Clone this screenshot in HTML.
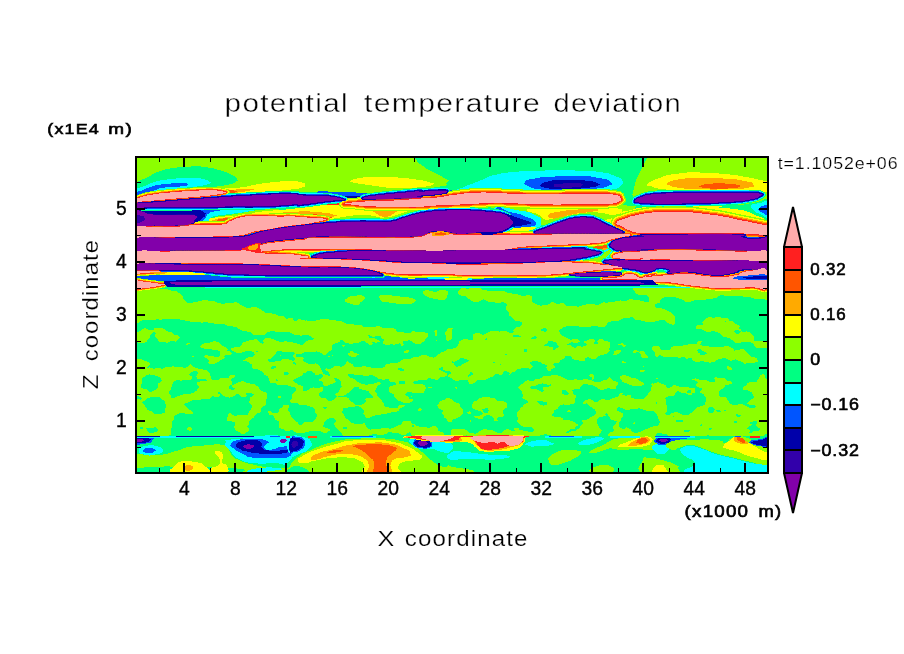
<!DOCTYPE html>
<html><head><meta charset="utf-8"><title>potential temperature deviation</title>
<style>
html,body{margin:0;padding:0;background:#fff;}
body{width:904px;height:654px;overflow:hidden;}
svg{display:block;}
text{font-family:"Liberation Sans",sans-serif;fill:#000;}
.b{font-weight:bold;}
.thin{stroke:#fff;stroke-width:0.4px;}
.thin2{stroke:#fff;stroke-width:0.2px;}
.thin3{stroke:#fff;stroke-width:0.2px;}
.med{stroke:#000;stroke-width:0.35px;}
.med2{stroke:#000;stroke-width:0.6px;}
</style></head><body>
<svg width="904" height="654" viewBox="0 0 904 654">
<rect width="904" height="654" fill="#fff"/>
<defs><clipPath id="pc"><rect x="136" y="157" width="632" height="316"/></clipPath>
<filter id="mott" filterUnits="userSpaceOnUse" x="130" y="282" width="650" height="160" color-interpolation-filters="sRGB">
<feGaussianBlur in="SourceGraphic" stdDeviation="2.2" result="b"/>
<feTurbulence type="fractalNoise" baseFrequency="0.075 0.12" numOctaves="2" seed="7" result="t"/>
<feColorMatrix in="t" type="matrix" values="1 0 0 0 0  1 0 0 0 0  1 0 0 0 0  0 0 0 0 1" result="n"/>
<feComposite in="b" in2="n" operator="arithmetic" k1="0" k2="1" k3="1.3" k4="-0.65" result="m"/>
<feComponentTransfer in="m"><feFuncR type="discrete" tableValues="0 0.549"/><feFuncG type="discrete" tableValues="1 1"/><feFuncB type="discrete" tableValues="0.51 0"/><feFuncA type="discrete" tableValues="1 1"/></feComponentTransfer>
</filter></defs>
<g clip-path="url(#pc)" shape-rendering="crispEdges">

<rect x="130" y="150" width="650" height="330" fill="#8cff00"/>
<g filter="url(#mott)">
<rect x="130" y="280" width="650" height="165" fill="#000"/>
<rect x="130" y="338" width="650" height="107" fill="#333333"/>
<path fill="#ffffff" d="M132.4 288.4C141.4 278.2 143.8 287.6 159.2 289.1C174.6 290.5 169.3 288.3 178.7 292.7C188.0 297.2 179.1 299.6 187.2 302.5C195.3 305.3 189.6 300.8 203.0 301.3C216.4 301.7 212.7 302.3 227.3 303.7C241.9 305.1 233.8 302.1 246.8 305.4C259.8 308.6 252.5 309.5 266.3 313.4C280.1 317.3 272.8 315.0 288.2 317.1C303.6 319.1 291.9 317.5 312.5 319.5C333.1 321.5 337.5 317.9 350.0 323.2C362.5 328.4 358.4 330.5 350.0 335.3C341.6 340.2 341.2 337.8 324.7 337.8C308.1 337.8 316.6 337.4 300.4 335.3C284.1 333.3 290.6 331.7 276.0 331.7C261.4 331.7 266.3 335.3 256.6 335.3C246.8 335.3 256.6 334.9 246.8 331.7C237.1 328.4 241.9 328.8 227.3 325.6C212.7 322.3 219.2 324.0 203.0 321.9C186.8 319.9 194.9 320.3 178.7 319.5C162.4 318.7 169.8 319.5 154.3 319.5C138.9 319.5 139.7 329.9 132.4 319.5C125.1 309.1 123.5 298.5 132.4 288.4Z"/>
<path fill="#bdbdbd" d="M132.4 332.9C139.7 329.3 138.9 328.5 154.3 328.8C169.8 329.0 166.5 330.9 178.7 333.6C190.8 336.4 194.9 334.4 190.8 337.0C186.8 339.6 186.0 340.6 166.5 341.4C147.0 342.2 143.8 342.3 132.4 339.5C121.1 336.6 125.1 336.5 132.4 332.9Z"/>
<path fill="#bdbdbd" d="M200.6 342.6C203.0 340.2 204.6 340.2 215.2 341.4C225.7 342.6 221.7 345.5 232.2 346.3C242.8 347.1 240.3 346.3 246.8 343.8C253.3 341.4 245.2 341.0 251.7 339.0C258.2 336.9 256.6 336.9 266.3 337.8C276.0 338.6 269.5 339.4 280.9 341.4C292.2 343.4 289.0 344.7 300.4 343.8C311.7 343.0 302.8 339.8 315.0 339.0C327.1 338.2 325.2 341.4 336.9 341.4C348.5 341.4 345.6 337.4 350.0 339.0C354.4 340.6 358.4 342.6 350.0 346.3C341.6 349.9 341.2 347.5 324.7 349.9C308.1 352.4 315.0 353.2 300.4 353.6C285.8 354.0 292.2 350.3 280.9 351.1C269.5 352.0 277.6 355.2 266.3 356.0C254.9 356.8 259.8 355.2 246.8 353.6C233.8 352.0 240.3 352.8 227.3 351.1C214.4 349.5 216.8 351.5 207.9 348.7C199.0 345.9 198.1 345.1 200.6 342.6Z"/>
<path fill="#bdbdbd" d="M132.4 368.7C139.7 346.0 138.9 367.5 154.3 367.0C169.8 366.4 164.1 365.7 178.7 367.0C193.3 368.2 186.0 367.4 198.1 370.6C210.3 373.9 201.4 373.5 215.2 376.7C229.0 379.9 225.7 376.7 239.5 380.3C253.3 384.0 247.6 382.0 256.6 387.6C265.5 393.3 264.7 390.1 266.3 397.4C267.9 404.7 266.3 402.3 261.4 409.6C256.6 416.9 256.6 412.8 251.7 419.3C246.8 425.8 251.7 425.0 246.8 429.0C241.9 433.1 241.9 433.9 237.1 431.5C232.2 429.0 239.5 427.4 232.2 421.7C224.9 416.0 229.0 416.4 215.2 414.4C201.4 412.4 204.6 414.0 190.8 415.6C177.1 417.3 181.1 413.2 173.8 419.3C166.5 425.4 182.7 428.6 168.9 433.9C155.1 439.2 144.6 456.8 132.4 435.1C120.3 413.4 125.1 391.4 132.4 368.7Z"/>
<path fill="#1f1f1f" d="M171.4 385.2C176.2 381.6 177.1 380.3 186.0 380.3C194.9 380.3 195.7 381.2 198.1 385.2C200.6 389.3 199.8 389.3 193.3 392.5C186.8 395.8 186.0 395.4 178.7 394.9C171.4 394.5 173.8 394.5 171.4 391.3C168.9 388.1 166.5 388.9 171.4 385.2Z"/>
<path fill="#1f1f1f" d="M190.8 404.7C197.3 400.6 196.5 401.4 210.3 398.6C224.1 395.8 220.0 395.8 232.2 396.2C244.4 396.6 240.7 396.2 246.8 399.8C252.9 403.5 252.9 402.3 250.5 407.1C248.0 412.0 248.8 411.6 239.5 414.4C230.2 417.3 234.6 416.0 222.5 415.6C210.3 415.2 213.6 414.8 203.0 413.2C192.5 411.6 194.9 413.6 190.8 410.8C186.8 407.9 184.4 408.7 190.8 404.7Z"/>
<path fill="#1f1f1f" d="M139.7 380.3C140.5 376.7 145.4 375.9 151.9 376.7C158.4 377.5 160.0 379.1 159.2 382.8C158.4 386.4 156.0 388.5 149.5 387.6C143.0 386.8 138.9 384.0 139.7 380.3Z"/>
<path fill="#1f1f1f" d="M144.6 402.3C145.4 397.4 151.1 396.6 159.2 397.4C167.3 398.2 169.8 399.8 168.9 404.7C168.1 409.6 164.9 412.8 156.8 412.0C148.7 411.2 143.8 407.1 144.6 402.3Z"/>
<path fill="#1f1f1f" d="M210.3 365.7C211.9 361.7 218.4 361.7 227.3 363.3C236.3 364.9 238.7 366.6 237.1 370.6C235.5 374.7 231.4 377.1 222.5 375.5C213.6 373.9 208.7 369.8 210.3 365.7Z"/>
<path fill="#bdbdbd" d="M266.3 363.3C275.2 359.3 272.8 358.4 288.2 358.4C303.6 358.4 297.9 360.1 312.5 363.3C327.1 366.6 319.5 367.4 332.0 368.2C344.5 369.0 344.0 352.0 350.0 365.7C356.0 379.5 354.4 393.3 350.0 409.6C345.6 425.8 345.3 409.6 336.9 414.4C328.4 419.3 332.8 418.5 324.7 424.2C316.6 429.8 324.7 429.8 312.5 431.5C300.4 433.1 300.4 433.1 288.2 429.0C276.0 425.0 278.5 427.4 276.0 419.3C273.6 411.2 280.9 414.4 280.9 404.7C280.9 394.9 280.1 398.2 276.0 390.1C272.0 382.0 273.6 386.8 268.7 380.3C263.9 373.9 262.2 376.3 261.4 370.6C260.6 364.9 257.4 367.4 266.3 363.3Z"/>
<path fill="#1f1f1f" d="M276.0 387.6C276.8 383.6 281.7 383.6 288.2 385.2C294.7 386.8 296.3 388.5 295.5 392.5C294.7 396.6 292.2 399.0 285.8 397.4C279.3 395.8 275.2 391.7 276.0 387.6Z"/>
<path fill="#1f1f1f" d="M300.4 375.5C305.2 371.4 307.7 370.6 315.0 373.0C322.3 375.5 323.9 377.1 322.3 382.8C320.6 388.5 317.4 389.3 310.1 390.1C302.8 390.9 303.6 390.1 300.4 385.2C297.1 380.3 295.5 379.5 300.4 375.5Z"/>
<path fill="#1f1f1f" d="M324.7 387.6C328.8 383.6 330.4 382.8 336.9 385.2C343.4 387.6 345.0 389.3 344.2 394.9C343.4 400.6 340.9 401.4 334.4 402.3C327.9 403.1 327.9 402.3 324.7 397.4C321.4 392.5 320.6 391.7 324.7 387.6Z"/>
<path fill="#1f1f1f" d="M288.2 409.6C289.8 404.7 296.3 403.1 305.2 404.7C314.1 406.3 316.6 409.6 315.0 414.4C313.3 419.3 309.3 420.9 300.4 419.3C291.4 417.7 286.6 414.4 288.2 409.6Z"/>
<path fill="#bdbdbd" d="M246.8 358.4C250.1 354.8 251.7 355.2 261.4 356.0C271.2 356.8 274.4 356.8 276.0 360.9C277.6 364.9 274.4 366.2 266.3 368.2C258.2 370.2 258.2 370.2 251.7 367.0C245.2 363.7 243.6 362.1 246.8 358.4Z"/>
<path fill="#bdbdbd" d="M203.0 356.0C203.8 352.8 209.5 352.8 217.6 353.6C225.7 354.4 228.2 355.2 227.3 358.4C226.5 361.7 223.3 364.1 215.2 363.3C207.1 362.5 202.2 359.3 203.0 356.0Z"/>
<path fill="#ffffff" d="M381.4 297.1C383.8 294.4 385.4 295.7 396.0 295.7C406.5 295.7 408.1 294.8 413.0 297.1C417.9 299.4 418.7 300.3 410.6 302.5C402.5 304.7 398.4 305.5 388.7 303.7C378.9 301.9 378.9 299.8 381.4 297.1Z"/>
<path fill="#ffffff" d="M422.7 291.5C425.2 288.9 429.2 289.4 437.3 289.8C445.5 290.2 444.6 289.7 447.1 292.7C449.5 295.7 450.3 297.2 444.6 298.8C439.0 300.4 437.3 300.0 430.0 297.6C422.7 295.2 420.3 294.1 422.7 291.5Z"/>
<path fill="#ffffff" d="M344.9 297.6C347.3 294.8 353.4 295.2 359.5 296.4C365.6 297.6 365.6 298.4 363.1 301.3C360.7 304.1 358.3 306.1 352.2 304.9C346.1 303.7 342.4 300.4 344.9 297.6Z"/>
<path fill="#ffffff" d="M454.4 291.5C460.9 288.7 460.9 288.7 486.0 290.3C511.2 291.9 516.0 292.3 529.8 296.4C543.6 300.4 523.3 300.0 527.4 302.5C531.4 304.9 531.1 302.1 542.0 303.7C552.9 305.3 554.0 299.2 560.0 307.3C566.0 315.4 566.0 320.7 560.0 328.0C554.0 335.3 553.7 330.5 542.0 329.2C530.3 328.0 537.1 330.1 525.0 324.4C512.8 318.7 511.2 319.1 505.5 312.2C499.8 305.3 514.4 307.3 507.9 303.7C501.4 300.0 499.8 302.9 486.0 301.3C472.2 299.6 477.1 302.1 466.6 298.8C456.0 295.6 447.9 294.4 454.4 291.5Z"/>
<path fill="#bdbdbd" d="M340.0 326.3C352.2 319.0 355.4 325.0 376.5 326.8C397.6 328.6 388.7 330.9 403.3 331.7C417.9 332.5 412.6 327.2 420.3 329.2C428.0 331.3 432.9 332.9 426.4 337.8C419.9 342.6 421.5 342.2 400.8 343.8C380.2 345.5 384.6 341.0 364.3 342.6C344.1 344.2 348.1 354.1 340.0 348.7C331.9 343.3 327.8 333.6 340.0 326.3Z"/>
<path fill="#bdbdbd" d="M432.5 331.7C433.3 328.0 435.3 326.8 437.3 329.2C439.4 331.7 439.4 335.3 438.6 339.0C437.8 342.6 436.9 342.6 434.9 340.2C432.9 337.8 431.7 335.3 432.5 331.7Z"/>
<path fill="#bdbdbd" d="M447.1 330.5C449.5 326.0 451.9 325.2 453.2 328.0C454.4 330.9 453.2 334.5 450.7 339.0C448.3 343.4 447.1 344.2 445.9 341.4C444.6 338.6 444.6 334.9 447.1 330.5Z"/>
<path fill="#bdbdbd" d="M413.0 357.2C425.2 353.6 413.0 355.2 425.2 352.4C437.3 349.5 435.7 354.0 449.5 348.7C463.3 343.4 454.4 342.2 466.6 336.5C478.7 330.9 471.4 334.3 486.0 331.7C500.6 329.1 494.1 330.4 510.4 328.8C526.6 327.1 518.1 325.8 534.7 326.8C551.2 327.8 551.6 319.5 560.0 331.7C568.4 343.8 568.4 352.0 560.0 363.3C551.6 374.7 551.2 362.5 534.7 365.7C518.1 369.0 526.6 369.0 510.4 373.0C494.1 377.1 502.2 375.5 486.0 377.9C469.8 380.3 477.9 380.3 461.7 380.3C445.5 380.3 453.6 377.9 437.3 377.9C421.1 377.9 429.2 379.5 413.0 380.3C396.8 381.2 404.9 381.6 388.7 380.3C372.4 379.1 380.6 376.7 364.3 376.7C348.1 376.7 348.1 384.0 340.0 380.3C331.9 376.7 331.9 369.8 340.0 365.7C348.1 361.7 348.1 369.0 364.3 368.2C380.6 367.4 372.4 367.0 388.7 363.3C404.9 359.7 400.8 360.9 413.0 357.2Z"/>
<path fill="#bdbdbd" d="M340.0 380.3C348.1 362.9 348.1 381.2 364.3 382.8C380.6 384.4 372.4 385.2 388.7 385.2C404.9 385.2 400.8 381.2 413.0 382.8C425.2 384.4 425.2 384.4 425.2 390.1C425.2 395.8 421.1 393.3 413.0 399.8C404.9 406.3 413.0 404.7 400.8 409.6C388.7 414.4 388.7 409.6 376.5 414.4C364.3 419.3 364.3 417.7 364.3 424.2C364.3 430.6 384.6 430.2 376.5 433.9C368.4 437.5 352.2 453.0 340.0 435.1C327.8 417.3 331.9 397.8 340.0 380.3Z"/>
<path fill="#1f1f1f" d="M349.7 390.1C351.4 384.4 355.4 383.6 361.9 385.2C368.4 386.8 370.8 389.3 369.2 394.9C367.6 400.6 363.5 403.9 357.0 402.3C350.5 400.6 348.1 395.8 349.7 390.1Z"/>
<path fill="#1f1f1f" d="M376.5 387.6C378.9 385.2 381.4 384.4 388.7 390.1C396.0 395.8 398.4 399.0 398.4 404.7C398.4 410.4 394.4 409.6 388.7 407.1C383.0 404.7 385.4 403.9 381.4 397.4C377.3 390.9 374.1 390.1 376.5 387.6Z"/>
<path fill="#1f1f1f" d="M344.9 409.6C348.1 404.7 353.0 403.9 359.5 407.1C366.0 410.4 367.6 414.4 364.3 419.3C361.1 424.2 356.2 425.0 349.7 421.7C343.2 418.5 341.6 414.4 344.9 409.6Z"/>
<path fill="#bdbdbd" d="M437.3 404.7C439.0 398.2 441.4 398.2 449.5 399.8C457.6 401.4 459.3 402.3 461.7 409.6C464.1 416.9 462.5 418.5 456.8 421.7C451.1 425.0 451.1 425.0 444.6 419.3C438.2 413.6 435.7 411.2 437.3 404.7Z"/>
<path fill="#bdbdbd" d="M473.9 399.8C477.1 394.9 477.1 397.4 486.0 397.4C494.9 397.4 494.1 395.8 500.6 399.8C507.1 403.9 510.4 403.1 505.5 409.6C500.6 416.0 495.8 418.5 486.0 419.3C476.3 420.1 480.3 418.5 476.3 412.0C472.2 405.5 470.6 404.7 473.9 399.8Z"/>
<path fill="#bdbdbd" d="M522.5 385.2C525.8 379.5 522.2 382.8 534.7 380.3C547.2 377.9 551.6 369.8 560.0 377.9C568.4 386.0 564.4 397.4 560.0 404.7C555.6 412.0 555.3 399.8 546.9 399.8C538.4 399.8 542.0 405.5 534.7 404.7C527.4 403.9 529.0 403.9 525.0 397.4C520.9 390.9 519.3 390.9 522.5 385.2Z"/>
<path fill="#bdbdbd" d="M388.7 429.0C396.8 425.4 396.8 424.2 413.0 424.2C429.2 424.2 421.1 426.6 437.3 429.0C453.6 431.5 445.5 431.5 461.7 431.5C477.9 431.5 469.8 430.6 486.0 429.0C502.2 427.4 494.1 426.6 510.4 426.6C526.6 426.6 518.1 431.5 534.7 429.0C551.2 426.6 551.6 417.3 560.0 419.3C568.4 421.3 617.1 429.8 560.0 435.1C502.9 440.4 445.8 437.1 388.7 435.1C331.6 433.1 380.6 432.7 388.7 429.0Z"/>
<path fill="#ffffff" d="M647.3 285.4C687.9 281.4 728.5 281.4 769.0 285.4C809.6 289.5 781.2 294.0 769.0 297.6C756.9 301.3 756.9 295.6 732.5 296.4C708.2 297.2 717.9 299.6 696.0 300.0C674.1 300.4 679.8 296.8 666.8 297.6C653.8 298.4 663.6 302.5 657.1 302.5C650.6 302.5 650.6 303.3 647.3 297.6C644.1 291.9 606.8 289.5 647.3 285.4Z"/>
<path fill="#ffffff" d="M550.0 308.6C558.1 301.3 558.1 307.7 574.3 306.1C590.6 304.5 580.0 305.3 598.7 303.7C617.3 302.1 612.5 300.8 630.3 301.3C648.2 301.7 636.8 298.8 652.2 304.9C667.6 311.0 676.6 313.8 676.6 319.5C676.6 325.2 670.1 321.9 652.2 321.9C634.4 321.9 640.9 317.9 623.0 319.5C605.2 321.1 614.9 324.4 598.7 326.8C582.4 329.2 590.6 326.4 574.3 326.8C558.1 327.2 558.1 334.1 550.0 328.0C541.9 321.9 541.9 315.9 550.0 308.6Z"/>
<path fill="#bdbdbd" d="M696.0 324.4C700.9 319.5 707.4 318.7 720.4 317.1C733.3 315.4 726.8 316.3 735.0 319.5C743.1 322.8 737.4 320.3 744.7 326.8C752.0 333.3 748.8 334.5 756.9 339.0C765.0 343.4 765.0 337.8 769.0 340.2C773.1 342.6 777.1 345.1 769.0 346.3C760.9 347.5 760.9 347.9 744.7 343.8C728.5 339.8 733.3 338.2 720.4 334.1C707.4 330.1 713.9 334.9 705.8 331.7C697.6 328.4 691.2 329.2 696.0 324.4Z"/>
<path fill="#bdbdbd" d="M550.0 332.9C558.1 325.2 558.1 338.2 574.3 340.2C590.6 342.2 586.5 336.9 598.7 339.0C610.8 341.0 610.8 340.6 610.8 346.3C610.8 352.0 610.8 352.0 598.7 356.0C586.5 360.1 590.6 356.0 574.3 358.4C558.1 360.9 558.1 371.8 550.0 363.3C541.9 354.8 541.9 340.6 550.0 332.9Z"/>
<path fill="#bdbdbd" d="M664.4 351.1C670.1 347.1 669.3 345.5 683.9 343.8C698.5 342.2 692.0 344.7 708.2 346.3C724.4 347.9 718.7 346.3 732.5 348.7C746.3 351.1 741.4 347.9 749.6 353.6C757.7 359.3 762.5 363.3 756.9 365.7C751.2 368.2 748.8 362.5 732.5 360.9C716.3 359.3 724.4 361.7 708.2 360.9C692.0 360.1 697.6 360.1 683.9 358.4C670.1 356.8 673.3 358.4 666.8 356.0C660.3 353.6 658.7 355.2 664.4 351.1Z"/>
<path fill="#bdbdbd" d="M627.9 353.6C629.9 351.1 633.2 349.5 635.2 351.1C637.2 352.8 636.0 356.0 634.0 358.4C631.9 360.9 631.1 360.1 629.1 358.4C627.1 356.8 625.8 356.0 627.9 353.6Z"/>
<path fill="#bdbdbd" d="M640.0 352.4C642.1 350.7 645.3 349.5 647.3 351.1C649.4 352.8 648.2 355.6 646.1 357.2C644.1 358.8 643.3 357.6 641.3 356.0C639.2 354.4 638.0 354.0 640.0 352.4Z"/>
<path fill="#bdbdbd" d="M652.2 347.5C653.8 343.8 656.3 342.6 658.3 346.3C660.3 349.9 659.9 354.8 658.3 358.4C656.7 362.1 655.5 360.9 653.4 357.2C651.4 353.6 650.6 351.1 652.2 347.5Z"/>
<path fill="#bdbdbd" d="M550.0 382.8C558.1 364.5 554.1 381.2 574.3 380.3C594.6 379.5 594.6 381.6 610.8 380.3C627.1 379.1 612.5 377.1 623.0 376.7C633.6 376.3 631.1 376.3 642.5 379.1C653.8 382.0 649.0 382.4 657.1 385.2C665.2 388.1 657.1 387.6 666.8 387.6C676.6 387.6 672.5 387.6 686.3 385.2C700.1 382.8 696.8 382.8 708.2 380.3C719.5 377.9 708.2 376.3 720.4 377.9C732.5 379.5 728.5 384.4 744.7 385.2C760.9 386.0 760.9 363.7 769.0 380.3C777.1 397.0 842.0 416.9 769.0 435.1C696.0 453.4 623.0 452.5 550.0 435.1C477.0 417.7 541.9 401.0 550.0 382.8Z"/>
<path fill="#1f1f1f" d="M574.3 390.1C580.8 386.8 585.7 386.8 598.7 387.6C611.7 388.5 613.3 388.5 613.3 392.5C613.3 396.6 610.0 398.2 598.7 399.8C587.3 401.4 587.3 400.6 579.2 397.4C571.1 394.1 567.8 393.3 574.3 390.1Z"/>
<path fill="#1f1f1f" d="M610.8 390.1C613.3 386.0 618.1 385.2 630.3 385.2C642.5 385.2 643.3 386.0 647.3 390.1C651.4 394.1 650.6 394.9 642.5 397.4C634.4 399.8 633.6 399.8 623.0 397.4C612.5 394.9 608.4 394.1 610.8 390.1Z"/>
<path fill="#1f1f1f" d="M666.8 397.4C670.1 390.9 673.3 392.5 686.3 392.5C699.3 392.5 702.5 391.7 705.8 397.4C709.0 403.1 705.8 404.7 696.0 409.6C686.3 414.4 686.3 416.0 676.6 412.0C666.8 407.9 663.6 403.9 666.8 397.4Z"/>
<path fill="#1f1f1f" d="M720.4 390.1C725.2 386.0 729.3 385.2 739.8 387.6C750.4 390.1 752.0 391.7 752.0 397.4C752.0 403.1 748.8 403.9 739.8 404.7C730.9 405.5 731.7 404.7 725.2 399.8C718.7 394.9 715.5 394.1 720.4 390.1Z"/>
<path fill="#1f1f1f" d="M557.3 409.6C560.5 404.7 562.2 404.7 574.3 404.7C586.5 404.7 589.8 404.7 593.8 409.6C597.9 414.4 596.2 416.0 586.5 419.3C576.8 422.5 574.3 422.5 564.6 419.3C554.9 416.0 554.1 414.4 557.3 409.6Z"/>
<path fill="#1f1f1f" d="M623.0 414.4C629.5 408.7 635.2 407.9 647.3 409.6C659.5 411.2 659.5 412.8 659.5 419.3C659.5 425.8 657.9 426.6 647.3 429.0C636.8 431.5 636.0 431.5 627.9 426.6C619.8 421.7 616.5 420.1 623.0 414.4Z"/>
<path fill="#1f1f1f" d="M598.7 421.7C601.9 417.7 606.0 416.9 610.8 419.3C615.7 421.7 616.5 425.0 613.3 429.0C610.0 433.1 606.0 433.9 601.1 431.5C596.2 429.0 595.4 425.8 598.7 421.7Z"/>
</g>
<path fill="#00ff82" d="M130.0 205.0L780.0 205.0L780.0 288.0L130.0 288.0Z"/>
<path fill="#00ff82" d="M136.0 184.9C140.3 177.8 140.6 181.2 148.9 176.5C157.2 171.9 152.3 173.8 160.9 170.9C169.5 168.1 164.9 169.4 174.8 167.9C184.8 166.5 180.1 166.7 190.8 166.5C201.4 166.4 196.7 166.0 206.7 167.3C216.6 168.7 212.7 168.1 220.6 170.5C228.6 172.9 225.1 171.7 230.6 174.5C236.0 177.3 235.3 176.4 237.0 178.9C238.6 181.4 238.3 180.0 235.6 181.9C232.8 183.7 235.6 182.8 228.6 184.5C221.6 186.1 223.9 185.4 214.6 186.9C205.4 188.3 210.7 187.5 200.7 188.9C190.8 190.2 206.4 187.9 184.8 190.8C163.2 193.8 152.3 199.8 136.0 197.8C119.7 195.8 131.7 192.0 136.0 184.9Z"/>
<path fill="#00ffff" d="M136.0 190.0C139.0 186.4 138.7 188.6 145.0 185.9C151.3 183.1 148.3 183.9 154.9 181.9C161.5 179.9 156.9 181.1 164.9 179.9C172.8 178.7 169.5 179.0 178.8 178.3C188.1 177.6 184.8 177.7 192.7 177.9C200.7 178.1 197.1 177.6 202.7 178.9C208.3 180.2 207.7 180.2 209.7 181.9C211.7 183.5 211.7 182.5 208.7 183.9C205.7 185.2 207.3 184.7 200.7 185.9C194.1 187.0 197.4 186.3 188.8 187.3C180.1 188.3 184.1 187.5 174.8 188.9C165.5 190.2 170.2 189.4 160.9 191.2C151.6 193.0 155.2 192.4 146.9 194.2C138.7 196.1 139.6 198.2 136.0 196.8C132.3 195.4 133.0 193.7 136.0 190.0Z"/>
<path fill="#0055ff" d="M136.0 192.8C138.3 190.7 138.0 192.0 143.0 190.0C147.9 188.1 145.6 188.6 150.9 186.9C156.2 185.1 152.3 186.0 158.9 184.9C165.5 183.7 162.9 184.1 170.8 183.5C178.8 182.8 177.1 182.6 182.8 182.9C188.4 183.1 187.1 183.3 187.8 184.3C188.4 185.3 189.1 185.0 184.8 185.9C180.5 186.7 182.1 186.2 174.8 186.9C167.5 187.5 169.5 186.7 162.9 187.9C156.2 189.0 160.9 188.3 154.9 190.2C148.9 192.2 151.3 191.6 145.0 193.6C138.7 195.7 139.0 196.7 136.0 196.4C133.0 196.2 133.7 195.0 136.0 192.8Z"/>
<path fill="#8cff00" d="M210.7 189.2C220.0 185.0 217.3 187.8 238.5 184.9C259.8 181.9 251.8 181.5 274.4 180.5C297.0 179.5 292.3 179.1 306.2 181.9C320.2 184.7 312.9 184.5 316.2 188.9C319.5 193.2 330.1 193.1 316.2 194.8C302.3 196.6 301.6 193.6 274.4 194.0C247.2 194.4 255.8 194.8 234.6 196.0C213.3 197.2 218.6 199.9 210.7 197.6C202.7 195.4 201.4 193.5 210.7 189.2Z"/>
<path fill="#ffff00" d="M220.6 189.2C225.3 186.5 225.9 189.0 234.6 188.1C243.2 187.1 238.5 187.8 246.5 186.5C254.5 185.1 249.2 185.5 258.5 184.1C267.7 182.6 263.8 183.1 274.4 182.1C285.0 181.1 281.7 181.1 290.3 181.1C298.9 181.1 295.3 180.8 300.3 182.1C305.3 183.3 305.3 182.9 305.3 184.9C305.3 186.9 306.6 186.3 300.3 188.1C294.0 189.8 295.0 189.0 286.3 190.0C277.7 191.1 282.4 190.5 274.4 191.2C266.4 192.0 270.4 191.6 262.4 192.2C254.5 192.9 258.5 192.5 250.5 193.2C242.5 194.0 245.8 193.6 238.5 194.4C231.2 195.3 234.6 195.2 228.6 195.8C222.6 196.4 223.3 198.4 220.6 196.2C218.0 194.0 216.0 192.0 220.6 189.2Z"/>
<path fill="#ffaa00" d="M220.6 190.0C225.3 188.3 225.9 190.0 234.6 189.6C243.2 189.2 239.9 189.1 246.5 188.9C253.1 188.6 253.8 188.2 254.5 188.9C255.1 189.5 253.8 189.6 248.5 190.8C243.2 192.0 245.2 191.2 238.5 192.4C231.9 193.6 234.6 193.6 228.6 194.4C222.6 195.2 223.3 196.3 220.6 194.8C218.0 193.4 216.0 191.8 220.6 190.0Z"/>
<path fill="#ff5500" d="M220.6 190.8C223.3 189.6 225.1 190.2 230.6 190.4C236.0 190.6 237.0 190.4 237.0 191.4C237.0 192.4 235.4 192.5 230.6 193.4C225.8 194.4 225.9 195.1 222.6 194.2C219.3 193.4 218.0 192.1 220.6 190.8Z"/>
<path fill="#00ff82" d="M412.6 155.0L418.5 163.0L428.5 169.9L440.4 175.9L448.8 180.5L445.4 184.9L434.5 187.9L418.5 189.8L402.6 191.2L402.6 197.8L495.0 197.8L622.4 194.8L622.4 208.8L638.4 208.8L632.4 194.8L634.4 186.9L636.4 178.9L642.4 166.9L648.7 155.0Z"/>
<path fill="#8cff00" d="M315.0 184.9C328.3 195.5 325.6 185.4 354.8 186.9C384.0 188.3 376.1 189.2 402.6 189.2C429.2 189.2 419.9 189.0 434.5 186.9C449.1 184.7 446.4 186.9 446.4 182.9C446.4 178.9 445.1 182.2 434.5 174.9C423.9 167.6 422.5 167.6 414.6 161.0C406.6 154.3 443.8 157.0 410.6 155.0C377.4 153.0 346.9 145.0 315.0 155.0C283.1 165.0 301.7 174.2 315.0 184.9Z"/>
<path fill="#ffff00" d="M350.8 180.9C353.5 179.4 352.8 179.2 360.8 177.9C368.8 176.6 363.5 177.1 374.7 176.9C386.0 176.7 381.4 176.5 394.6 177.3C407.9 178.1 402.6 177.6 414.6 179.3C426.5 181.0 424.5 180.6 430.5 182.5C436.5 184.3 435.1 183.4 432.5 184.9C429.8 186.3 431.2 185.9 422.5 186.9C413.9 187.9 417.2 187.5 406.6 187.9C396.0 188.2 401.3 188.5 390.7 187.9C380.0 187.2 384.7 187.2 374.7 185.9C364.8 184.5 368.1 185.0 360.8 183.9C353.5 182.7 356.2 183.5 352.8 182.5C349.5 181.5 348.2 182.4 350.8 180.9Z"/>
<path fill="#00ffff" d="M450.4 193.2C447.1 191.0 456.4 190.3 464.3 186.9C472.3 183.4 467.7 185.5 474.3 182.9C480.9 180.2 477.4 181.5 484.3 178.9C491.2 176.2 484.8 177.2 495.0 174.9C505.2 172.6 498.3 173.4 514.9 171.9C531.5 170.5 524.9 171.0 544.8 170.5C564.7 170.1 556.7 170.1 574.6 170.5C592.6 171.0 585.3 170.1 598.5 171.9C611.8 173.7 606.5 172.9 614.5 175.9C622.4 178.9 620.4 177.6 622.4 180.9C624.4 184.2 624.4 182.9 620.4 185.9C616.5 188.9 620.4 187.8 610.5 189.8C600.5 191.9 605.8 191.2 590.6 192.0C575.3 192.9 583.3 192.4 564.7 192.4C546.1 192.4 551.4 192.3 534.8 192.0C518.2 191.8 528.2 191.8 514.9 191.6C501.6 191.5 508.5 191.0 495.0 191.6C481.5 192.3 489.2 193.1 474.3 193.6C459.4 194.2 453.7 195.5 450.4 193.2Z"/>
<path fill="#0055ff" d="M524.9 181.9C526.9 179.2 524.9 180.3 534.8 178.5C544.8 176.7 540.1 177.4 554.7 176.5C569.3 175.6 564.0 175.4 578.6 175.9C593.2 176.4 587.9 175.9 598.5 177.9C609.2 179.9 607.2 179.2 610.5 181.9C613.8 184.5 613.8 183.5 608.5 185.9C603.2 188.2 605.8 187.3 594.6 188.9C583.3 190.4 587.9 189.9 574.6 190.4C561.4 191.0 566.7 190.8 554.7 190.4C542.8 190.0 547.4 190.6 538.8 189.2C530.2 187.9 533.5 188.9 528.9 186.5C524.2 184.0 522.9 184.5 524.9 181.9Z"/>
<path fill="#0000aa" d="M540.8 184.9C542.5 182.9 540.8 182.9 548.8 181.3C556.7 179.6 552.7 180.2 564.7 179.9C576.6 179.6 574.0 179.5 584.6 180.5C595.2 181.5 592.2 181.1 596.6 182.9C600.9 184.7 600.9 184.2 597.5 185.9C594.2 187.5 595.6 186.9 586.6 187.9C577.6 188.9 581.3 188.5 570.7 188.9C560.0 189.2 563.7 189.4 554.7 188.9C545.8 188.3 548.4 188.6 543.8 187.3C539.1 185.9 539.1 186.9 540.8 184.9Z"/>
<path fill="#3200aa" d="M553.7 185.3C554.4 183.9 554.4 184.1 562.7 183.5C571.0 182.8 572.0 182.7 578.6 183.3C585.3 183.9 583.9 183.9 582.6 185.3C581.3 186.6 582.0 186.5 574.6 187.3C567.3 188.0 567.7 188.1 560.7 187.5C553.7 186.8 553.1 186.6 553.7 185.3Z"/>
<path fill="#8cff00" d="M647.9 155.0L641.9 170.9L635.9 180.9L633.9 188.9L637.9 194.8L771.3 194.8L771.3 155.0Z"/>
<path fill="#ffff00" d="M647.9 183.9C650.5 181.0 650.5 181.2 659.8 177.9C669.1 174.6 662.5 175.7 675.8 173.9C689.0 172.1 683.7 172.5 699.6 172.5C715.6 172.5 708.9 172.6 723.5 173.9C738.1 175.2 731.5 174.5 743.5 176.5C755.4 178.5 750.1 177.8 759.4 179.9C768.7 182.0 767.4 179.1 771.3 182.9C775.3 186.7 778.6 188.5 771.3 191.2C764.0 194.0 766.7 191.1 749.4 191.2C732.2 191.4 739.5 191.6 719.6 191.6C699.6 191.6 708.3 192.0 689.7 191.2C671.1 190.4 676.4 190.8 663.8 189.2C651.2 187.7 657.2 188.3 651.9 186.5C646.5 184.7 645.2 186.7 647.9 183.9Z"/>
<path fill="#ffaa00" d="M667.8 182.9C671.1 180.9 669.1 181.0 679.7 179.3C690.4 177.6 685.0 178.2 699.6 177.9C714.3 177.6 708.9 177.5 723.5 178.5C738.1 179.5 733.5 178.9 743.5 180.9C753.4 182.9 752.1 182.1 753.4 184.5C754.7 186.8 756.1 186.3 747.4 187.9C738.8 189.4 743.5 188.8 727.5 189.2C711.6 189.7 715.6 189.7 699.6 189.2C683.7 188.8 689.7 189.2 679.7 187.9C669.8 186.5 673.8 186.9 669.8 185.3C665.8 183.6 664.5 184.9 667.8 182.9Z"/>
<path fill="#ff5500" d="M700.6 185.9C703.3 184.7 701.3 184.7 709.6 183.9C717.9 183.1 716.2 183.1 725.5 183.5C734.8 183.8 732.8 183.7 737.5 184.9C742.1 186.0 742.8 185.7 739.5 186.9C736.2 188.1 737.5 187.9 727.5 188.5C717.6 189.0 718.2 188.9 709.6 188.5C701.0 188.1 704.6 188.1 701.6 187.3C698.7 186.4 698.0 187.0 700.6 185.9Z"/>
<path fill="#00ffff" d="M191.1 207.4C198.4 206.8 198.4 207.2 213.2 206.9C227.9 206.7 220.6 206.9 235.3 206.6C250.1 206.3 242.5 206.3 257.4 206.1C272.3 205.8 264.4 206.6 280.0 205.8C295.6 205.1 292.6 204.8 304.3 203.8C315.9 202.8 307.4 202.9 315.0 202.8C322.6 202.7 327.0 202.6 326.9 203.4C326.9 204.2 322.6 203.9 315.0 205.2C307.4 206.4 315.9 206.4 304.3 207.2C292.6 208.0 293.8 207.0 280.0 207.6C266.2 208.2 274.2 207.6 263.0 209.0C251.8 210.4 257.4 210.2 246.4 211.8C235.3 213.5 239.7 212.7 229.8 214.0C219.8 215.3 223.9 214.4 216.5 215.7C209.1 217.0 212.4 215.9 207.7 217.9C202.9 219.9 205.4 219.4 202.1 221.5C198.8 223.7 200.3 223.2 197.7 224.3C195.1 225.4 194.4 226.2 194.4 224.9C194.4 223.6 195.1 223.4 197.7 220.4C200.3 217.5 202.5 219.0 202.1 216.0C201.8 213.1 200.3 214.0 196.6 211.6C192.9 209.2 192.9 210.2 191.1 208.8C189.2 207.4 183.7 208.0 191.1 207.4Z"/>
<path fill="#8cff00" d="M280.0 207.8L263.0 209.2L248.6 211.6L235.3 214.0L222.0 216.0L213.2 217.1L280.0 217.1L334.9 203.6L374.7 205.8L410.6 208.4L418.5 211.8L402.6 215.7L384.7 219.7L354.8 219.1L315.0 223.7L274.4 220.7Z"/>
<path fill="#ffff00" d="M280.0 209.9L263.0 211.3L248.6 213.6L235.3 215.5L224.2 216.6L213.2 217.7L207.7 218.8L206.0 221.5L207.7 223.5L213.2 224.0L227.6 223.3L233.1 221.0L241.9 218.2L251.9 217.1L268.5 217.1L280.0 217.7L294.3 218.7L315.0 221.7L323.0 220.3L334.9 218.3L350.8 215.7L362.8 214.7L372.7 215.7L380.7 217.7L390.7 217.1L398.6 214.3L408.6 210.8L400.6 208.8L382.7 208.4L368.8 207.2L354.8 206.0L334.9 204.6L315.0 205.2L304.3 207.2L290.3 209.2Z"/>
<path fill="#ffaa00" d="M280.0 212.7L263.0 213.3L248.6 214.7L237.5 216.0L227.6 217.1L216.5 218.8L212.1 220.4L213.2 223.2L227.6 223.2L233.1 220.7L241.9 218.0L251.9 216.9L268.5 216.9L280.0 217.7L294.3 218.3L315.0 219.5L326.9 218.3L337.9 215.7L328.9 213.3L315.0 211.8L304.3 211.2Z"/>
<path fill="#ff5500" d="M280.0 214.7L263.0 214.9L251.9 215.5L241.9 216.6L233.1 217.1L224.2 218.2L217.6 219.6L215.4 221.5L217.6 223.2L227.6 223.2L233.1 220.7L241.9 218.0L251.9 216.9L280.0 217.7L294.3 217.9L315.0 219.9L323.0 219.7L332.9 217.7L326.9 215.7L315.0 214.3L304.3 213.5Z"/>
<path fill="#00ffff" d="M136.0 207.2C145.6 200.3 145.3 206.9 164.9 206.8C184.4 206.6 174.8 206.9 194.7 206.8C214.6 206.6 207.3 206.5 224.6 206.4C241.9 206.2 235.9 205.8 246.5 206.4C257.1 206.9 256.5 206.6 256.5 208.0C256.5 209.3 255.1 208.8 246.5 210.4C237.9 211.9 239.9 211.3 230.6 212.7C221.3 214.2 224.9 213.3 218.6 214.7C212.3 216.2 215.3 214.8 211.7 217.1C208.0 219.4 210.7 218.9 207.7 221.7C204.7 224.6 207.0 223.8 202.7 225.7C198.4 227.6 217.0 226.9 194.7 227.5C172.5 228.1 155.6 234.3 136.0 227.5C116.4 220.7 126.4 214.1 136.0 207.2Z"/>
<path fill="#0055ff" d="M136.0 208.0C145.6 201.6 145.3 207.7 164.9 207.6C184.4 207.4 178.1 207.6 194.7 207.6C211.3 207.6 202.7 207.4 214.6 207.6C226.6 207.7 227.9 207.2 230.6 208.0C233.2 208.8 228.3 208.8 222.6 210.0C217.0 211.2 218.6 210.1 213.7 211.6C208.7 213.0 210.7 211.8 207.7 214.3C204.7 216.9 207.7 215.7 204.7 219.1C201.7 222.6 202.4 222.2 198.7 224.7C195.1 227.2 214.6 226.0 193.7 226.7C172.8 227.3 155.2 232.9 136.0 226.7C116.7 220.4 126.4 214.3 136.0 208.0Z"/>
<path fill="#0000aa" d="M136.0 209.2C145.6 203.2 147.9 208.8 164.9 208.4C181.8 208.0 176.2 207.7 186.8 208.0C197.4 208.2 191.1 207.7 196.7 209.2C202.4 210.6 200.9 210.4 203.7 212.3C206.5 214.3 205.8 212.9 205.1 215.1C204.4 217.4 204.8 216.1 201.7 219.1C198.6 222.1 200.7 221.7 195.7 224.1C190.8 226.5 206.7 225.6 186.8 226.3C166.9 227.0 152.9 232.0 136.0 226.3C119.1 220.6 126.4 215.1 136.0 209.2Z"/>
<path fill="#ffaa00" d="M368.8 208.0C371.8 207.3 370.8 208.0 380.7 208.4C390.7 208.7 394.0 207.5 398.6 209.0C403.3 210.4 398.0 210.3 394.6 212.7C391.3 215.2 392.7 215.0 388.7 216.3C384.7 217.7 386.7 217.6 382.7 216.7C378.7 215.9 380.4 215.9 376.7 213.7C373.1 211.6 374.4 212.3 371.8 210.4C369.1 208.4 365.8 208.6 368.8 208.0Z"/>
<path fill="none" stroke="#ff2020" stroke-width="1.5" d="M317.0 204.2C321.6 204.1 321.6 204.1 330.9 204.0C340.2 203.9 340.2 203.9 344.9 203.8"/>
<path fill="#0055ff" d="M315.0 192.4C325.0 189.1 325.0 192.6 344.9 192.8C364.8 193.1 351.5 193.9 374.7 193.2C398.0 192.6 389.3 191.9 414.6 190.8C439.8 189.8 437.8 189.6 450.4 190.0C463.0 190.4 457.7 190.1 452.4 192.0C447.1 194.0 453.7 193.4 434.5 195.8C415.2 198.2 421.2 197.4 394.6 199.2C368.1 201.0 381.4 200.0 354.8 201.2C328.3 202.4 328.3 205.7 315.0 202.8C301.7 199.9 305.0 195.8 315.0 192.4Z"/>
<path fill="#0055ff" d="M331.9 194.0C334.1 191.9 337.7 192.2 346.6 191.9C355.4 191.7 352.3 191.8 358.5 193.2C364.7 194.7 366.1 194.5 365.2 196.3C364.3 198.1 362.1 197.4 355.9 198.6C349.7 199.8 351.9 200.0 346.6 199.9C341.2 199.8 344.8 200.3 339.9 198.3C335.0 196.4 329.7 196.2 331.9 194.0Z"/>
<path fill="#0000aa" d="M338.6 197.2C338.6 196.1 338.6 196.1 346.6 195.9C354.5 195.7 359.4 195.9 362.5 196.7C365.6 197.5 361.2 197.4 355.9 198.3C350.6 199.2 352.3 199.7 346.6 199.4C340.8 199.0 338.6 198.4 338.6 197.2Z"/>
<path fill="#8cff00" d="M495.0 204.8C508.3 203.5 508.3 204.8 534.8 204.8C561.4 204.8 545.4 204.6 574.6 204.8C603.9 204.9 602.5 203.9 622.4 205.2C642.4 206.5 634.4 205.6 634.4 208.8C634.4 211.9 631.7 209.8 622.4 214.7C613.1 219.7 617.8 223.0 606.5 223.7C595.2 224.4 599.2 218.9 588.6 216.7C578.0 214.5 585.9 215.5 574.6 217.1C563.4 218.8 566.0 219.2 554.7 221.7C543.5 224.2 547.4 225.7 540.8 224.7C534.2 223.7 543.5 222.7 534.8 218.7C526.2 214.7 528.2 216.1 514.9 212.7C501.6 209.4 501.6 211.4 495.0 208.8C488.4 206.1 481.7 206.1 495.0 204.8Z"/>
<path fill="#ffff00" d="M526.9 209.8C528.9 207.2 528.9 208.3 544.8 207.2C560.7 206.0 556.7 206.4 574.6 206.4C592.6 206.4 585.3 206.6 598.5 207.2C611.8 207.7 606.5 206.8 614.5 208.0C622.4 209.2 622.4 208.5 622.4 210.8C622.4 213.0 621.1 213.9 614.5 214.7C607.8 215.5 610.5 213.9 602.5 213.1C594.6 212.3 599.9 211.9 590.6 212.3C581.3 212.7 584.6 212.7 574.6 214.3C564.7 215.9 569.3 215.4 560.7 217.1C552.1 218.9 554.7 219.1 548.8 219.5C542.8 219.9 546.1 219.9 542.8 218.3C539.5 216.7 544.1 217.6 538.8 214.7C533.5 211.9 524.9 212.3 526.9 209.8Z"/>
<path fill="#ffaa00" d="M548.8 214.7C551.1 212.5 550.1 213.4 558.7 211.8C567.3 210.1 564.0 210.6 574.6 209.8C585.3 208.9 582.6 209.0 590.6 209.2C598.5 209.4 599.2 209.4 598.5 210.4C597.9 211.4 596.6 211.0 588.6 212.1C580.6 213.3 583.9 212.3 574.6 213.9C565.4 215.6 568.3 215.7 560.7 217.1C553.1 218.6 555.7 219.1 551.8 218.3C547.8 217.5 546.4 216.9 548.8 214.7Z"/>
<path fill="#00ffff" d="M495.0 207.2C501.6 199.2 501.6 207.2 514.9 209.8C528.2 212.3 526.2 210.4 534.8 214.7C543.5 219.1 540.8 218.1 540.8 222.7C540.8 227.3 543.5 225.2 534.8 228.7C526.2 232.1 528.2 231.4 514.9 233.1C501.6 234.7 501.6 242.3 495.0 233.7C488.4 225.0 488.4 215.1 495.0 207.2Z"/>
<path fill="#0055ff" d="M495.0 209.8C500.3 202.9 501.0 210.2 510.9 212.3C520.9 214.5 516.6 212.9 524.9 216.3C533.2 219.8 534.5 219.1 535.8 222.7C537.1 226.3 536.5 224.4 528.9 227.1C521.2 229.7 524.2 228.7 512.9 230.7C501.6 232.7 501.0 240.0 495.0 233.1C489.0 226.1 489.7 216.7 495.0 209.8Z"/>
<path fill="#ffff00" d="M506.6 229.9C508.8 228.7 511.0 228.6 519.9 227.6C528.8 226.6 527.9 226.5 533.2 226.9C538.5 227.4 536.8 227.8 535.9 228.9C535.0 230.1 538.1 229.6 530.6 230.4C523.0 231.1 521.2 231.4 513.3 231.2C505.3 231.0 504.4 231.1 506.6 229.9Z"/>
<path fill="#ffff00" d="M620.0 214.7C624.0 209.1 622.0 212.4 631.9 209.8C641.9 207.1 633.9 208.4 649.9 206.8C665.8 205.1 659.8 205.1 679.7 204.8C699.6 204.4 692.3 204.8 709.6 205.8C726.9 206.8 718.9 205.8 731.5 207.8C744.1 209.8 738.1 208.8 747.4 211.8C756.7 214.7 751.4 213.7 759.4 216.7C767.4 219.7 767.4 217.4 771.3 220.7C775.3 224.0 821.8 224.7 771.3 226.7C720.9 228.7 670.4 230.7 620.0 226.7C569.6 222.7 616.0 220.4 620.0 214.7Z"/>
<path fill="#00ff82" d="M719.6 207.2C721.6 205.7 729.5 206.4 741.5 204.8C753.4 203.2 745.4 203.6 755.4 202.4C765.4 201.2 766.0 195.4 771.3 201.2C776.6 207.0 775.3 214.9 771.3 219.7C767.4 224.6 766.7 218.4 759.4 215.7C752.1 213.1 757.4 213.9 749.4 211.8C741.5 209.6 745.4 210.7 735.5 209.2C725.5 207.6 717.6 208.6 719.6 207.2Z"/>
<path fill="#00ffff" d="M751.4 205.2C753.4 203.0 752.7 204.2 759.4 203.2C766.0 202.1 767.4 197.3 771.3 202.0C775.3 206.6 775.3 213.2 771.3 217.1C767.4 221.0 765.4 216.2 759.4 213.7C753.4 211.3 756.1 212.6 753.4 209.8C750.8 206.9 749.4 207.4 751.4 205.2Z"/>
<path fill="#0055ff" d="M759.4 207.8C762.4 205.4 767.4 203.5 771.3 205.8C775.3 208.1 774.3 212.4 771.3 214.7C768.3 217.1 766.4 215.1 762.4 212.7C758.4 210.4 756.4 210.1 759.4 207.8Z"/>
<path fill="#00ffff" d="M581.2 261.9C581.2 259.4 587.0 260.3 594.5 256.5C602.0 252.8 597.6 253.9 603.8 250.6C610.0 247.2 609.1 247.0 613.1 246.6C617.1 246.1 616.6 246.6 615.8 249.2C614.9 251.9 614.4 250.8 610.4 254.5C606.5 258.3 609.1 257.4 603.8 260.5C598.5 263.6 602.0 263.4 594.5 263.8C587.0 264.3 581.2 264.3 581.2 261.9Z"/>
<path fill="#8cff00" d="M587.9 261.2C588.3 258.9 592.3 259.2 598.5 255.9C604.7 252.6 602.3 253.0 606.5 251.2C610.7 249.5 611.6 248.4 611.1 250.6C610.7 252.8 609.8 253.8 605.1 257.9C600.5 261.9 602.9 261.7 597.2 262.8C591.4 263.9 587.4 263.5 587.9 261.2Z"/>
<path fill="#ffaa00" d="M582.6 243.7C584.3 241.5 586.5 242.7 594.5 241.9C602.5 241.1 601.2 240.6 606.5 241.3C611.8 241.9 609.6 241.7 610.4 243.9C611.3 246.1 612.7 245.9 609.1 247.9C605.6 249.9 606.5 249.7 599.8 249.9C593.2 250.1 595.0 250.7 589.2 248.6C583.5 246.5 580.8 245.9 582.6 243.7Z"/>
<path fill="#ff5500" d="M586.5 244.2C587.9 242.5 589.6 243.3 595.8 242.9C602.0 242.4 601.2 241.9 605.1 242.9C609.1 243.9 608.7 244.0 607.8 245.9C606.9 247.8 607.8 247.9 602.5 248.6C597.2 249.2 597.2 249.4 591.9 247.9C586.5 246.5 585.2 245.9 586.5 244.2Z"/>
<path fill="#00ffff" d="M130.0 274.1C161.3 273.1 186.4 273.3 224.0 273.7C261.6 274.1 249.1 274.2 242.8 275.2C236.6 276.2 242.8 276.2 205.2 276.7C167.6 277.2 155.1 277.6 130.0 276.7C104.9 275.8 98.7 275.1 130.0 274.1Z"/>
<path fill="#0055ff" d="M130.0 276.1L158.2 275.0L186.4 274.4L242.8 274.3L300.0 274.3L356.4 274.4L380.9 274.4L412.8 276.3L470.0 278.2L470.0 277.4L620.0 277.9L620.0 281.5L470.0 281.5L300.0 281.0L130.0 281.0Z"/>
<path fill="#00ffff" d="M379.0 272.6C384.0 271.8 391.5 274.2 412.8 274.8C434.1 275.4 423.9 274.1 442.9 274.4C462.0 274.8 461.0 274.2 470.0 275.9C479.0 277.7 482.8 278.8 470.0 279.7C457.2 280.6 455.7 279.4 431.6 278.6C407.6 277.8 415.3 279.3 397.8 277.3C380.2 275.3 374.0 273.4 379.0 272.6Z"/>
<path fill="#ffff00" d="M405.3 277.3C410.3 276.8 415.3 276.6 420.3 276.9C425.4 277.2 425.4 277.7 420.3 278.2C415.3 278.7 410.3 278.7 405.3 278.4C400.3 278.1 400.3 277.8 405.3 277.3Z"/>
<path fill="#ffff00" d="M446.7 278.2C452.9 277.7 459.2 277.7 465.5 278.2C471.7 278.7 471.7 279.2 465.5 279.7C459.2 280.2 452.9 280.2 446.7 279.7C440.4 279.2 440.4 278.7 446.7 278.2Z"/>
<path fill="#00ff82" d="M130.0 436.0L780.0 436.0L780.0 480.0L130.0 480.0Z"/>
<path fill="#8cff00" d="M130.0 455.1C138.8 451.4 141.8 456.3 156.5 455.1C171.3 453.9 163.6 454.2 174.2 451.5C184.9 448.9 177.8 449.2 188.4 447.1C199.0 445.1 194.9 446.1 206.1 445.4C217.3 444.6 214.7 443.6 222.0 444.8C229.4 446.0 224.7 445.2 228.2 448.9C231.8 452.6 228.8 452.1 232.7 456.0C236.5 459.8 232.7 457.4 239.7 460.4C246.8 463.3 243.3 462.5 253.9 464.8C264.5 467.2 259.6 466.3 271.6 467.5C283.6 468.7 283.9 466.3 290.0 468.4C296.1 470.4 304.4 471.9 290.0 473.7C275.6 475.4 264.7 475.4 246.8 473.7C228.9 471.9 260.4 470.7 236.2 468.4C212.0 466.0 209.6 467.4 174.2 466.6C138.8 465.8 144.7 469.9 130.0 466.1C115.3 462.2 121.2 458.7 130.0 455.1Z"/>
<path fill="#00ffff" d="M138.8 449.8C139.4 446.8 140.0 447.1 145.9 445.9C151.8 444.7 150.9 444.6 156.5 446.2C162.2 447.8 162.7 448.0 162.7 450.7C162.7 453.3 162.7 452.8 156.5 454.2C150.4 455.6 150.1 456.2 144.2 454.7C138.3 453.3 138.3 452.7 138.8 449.8Z"/>
<path fill="#0055ff" d="M143.3 449.8C144.5 448.5 144.2 448.3 147.7 448.0C151.2 447.7 151.5 447.8 153.9 448.9C156.3 450.0 156.3 449.8 154.8 451.2C153.3 452.6 153.0 452.7 149.5 453.0C145.9 453.2 146.2 453.0 144.2 451.9C142.1 450.8 142.1 451.1 143.3 449.8Z"/>
<path fill="#0055ff" d="M130.0 437.0C136.5 434.9 142.1 436.2 149.5 437.4C156.8 438.6 153.3 438.5 152.1 440.6C150.9 442.6 153.3 442.5 145.9 443.6C138.6 444.6 135.3 445.9 130.0 443.8C124.7 441.6 123.5 439.2 130.0 437.0Z"/>
<path fill="#0000aa" d="M130.0 437.7C135.9 436.3 141.2 437.3 147.7 438.3C154.2 439.2 150.6 439.1 149.5 440.6C148.3 442.1 150.6 442.0 144.2 442.7C137.7 443.4 134.7 444.4 130.0 442.7C125.3 441.0 124.1 439.2 130.0 437.7Z"/>
<path fill="#8200aa" d="M130.0 438.8C133.5 438.0 135.9 438.6 140.6 439.2C145.3 439.7 144.7 439.7 144.2 440.6C143.6 441.5 143.6 441.5 138.8 441.8C134.1 442.2 132.9 442.6 130.0 441.6C127.1 440.6 126.5 439.6 130.0 438.8Z"/>
<path fill="#ffff00" d="M174.2 473.7C164.2 470.7 173.1 469.0 176.0 464.8C179.0 460.7 176.6 462.2 183.1 461.3C189.6 460.4 188.4 460.7 195.5 462.2C202.6 463.6 200.8 461.9 204.3 465.7C207.9 469.5 216.1 471.0 206.1 473.7C196.1 476.3 184.3 476.6 174.2 473.7Z"/>
<path fill="#ffaa00" d="M184.9 466.6C186.5 465.0 187.5 464.8 190.2 465.4C192.8 465.9 193.1 466.6 192.8 468.4C192.5 470.1 191.8 470.1 189.3 470.7C186.8 471.3 186.7 471.5 185.2 470.1C183.7 468.8 183.2 468.2 184.9 466.6Z"/>
<path fill="#ffff00" d="M215.0 452.4C215.3 450.1 217.6 450.1 220.3 451.5C222.9 453.0 222.3 453.3 222.9 456.9C223.5 460.4 220.6 458.9 222.0 462.2C223.5 465.4 226.2 462.8 227.3 466.6C228.5 470.4 230.3 471.3 225.6 473.7C220.9 476.0 217.9 475.4 213.2 473.7C208.5 471.9 209.6 471.3 211.4 468.4C213.2 465.4 215.8 468.1 218.5 464.8C221.2 461.6 220.6 462.8 219.4 458.6C218.2 454.5 214.7 454.8 215.0 452.4Z"/>
<path fill="#00ffff" d="M225.6 442.7C227.3 438.6 214.7 440.6 236.2 439.2C257.7 437.7 272.1 431.2 290.0 438.3C307.9 445.4 296.1 452.1 290.0 460.4C283.9 468.7 283.6 462.2 271.6 463.1C259.6 463.9 264.5 464.2 253.9 463.1C243.3 461.9 247.4 463.3 239.7 459.5C232.1 455.7 235.6 457.2 230.9 451.5C226.2 445.9 223.8 446.8 225.6 442.7Z"/>
<path fill="#0055ff" d="M230.9 444.5C232.1 441.5 230.3 441.9 238.0 440.0C245.6 438.2 245.0 438.8 253.9 438.8C262.7 438.8 259.2 438.2 264.5 440.0C269.8 441.9 267.5 441.8 269.8 444.5C272.2 447.1 264.9 447.1 271.6 448.0C278.3 448.9 283.9 444.5 290.0 447.1C296.1 449.8 296.1 452.4 290.0 456.0C283.9 459.5 283.6 457.2 271.6 457.7C259.6 458.3 263.3 458.9 253.9 457.7C244.5 456.6 249.8 457.2 243.3 454.2C236.8 451.3 238.6 452.1 234.4 448.9C230.3 445.6 229.7 447.4 230.9 444.5Z"/>
<path fill="#0000aa" d="M236.2 444.5C237.4 441.8 237.4 442.4 243.3 440.9C249.2 439.5 248.0 439.5 253.9 440.0C259.8 440.6 258.0 440.0 261.0 442.7C263.9 445.4 259.2 445.4 262.7 448.0C266.3 450.7 262.5 450.1 271.6 450.7C280.7 451.3 283.9 449.4 290.0 449.8C296.1 450.2 296.1 450.4 290.0 451.9C283.9 453.4 282.4 453.7 271.6 454.2C260.7 454.7 265.7 454.2 257.4 453.3C249.2 452.4 252.7 453.0 246.8 451.5C240.9 450.1 243.3 451.3 239.7 448.9C236.2 446.5 235.0 447.1 236.2 444.5Z"/>
<path fill="#8200aa" d="M243.3 445.9C243.9 444.4 246.8 444.2 250.4 444.5C253.9 444.7 254.5 445.1 253.9 446.6C253.3 448.1 252.1 449.1 248.6 448.9C245.0 448.7 242.7 447.4 243.3 445.9Z"/>
<path fill="#00ffff" d="M265.4 445.4C267.5 443.0 266.6 443.3 271.6 441.8C276.6 440.3 276.3 440.6 280.4 440.9C284.6 441.2 284.6 440.6 284.0 442.7C283.4 444.8 283.4 444.8 278.7 447.1C274.0 449.5 274.2 449.2 269.8 449.8C265.4 450.4 266.9 450.4 265.4 448.9C263.9 447.4 263.3 447.7 265.4 445.4Z"/>
<path fill="#00ffff" d="M253.9 468.9C262.7 467.1 271.6 466.8 280.4 468.4C289.3 470.0 289.3 471.9 280.4 473.7C271.6 475.4 262.7 475.3 253.9 473.7C245.0 472.1 245.0 470.7 253.9 468.9Z"/>
<path fill="#00ffff" d="M290.0 438.3C294.7 432.7 297.1 435.9 304.2 437.4C311.2 438.9 309.5 439.2 311.2 442.7C313.0 446.2 313.0 444.5 309.5 448.0C305.9 451.5 307.1 451.3 300.6 453.3C294.1 455.4 293.5 459.2 290.0 454.2C286.5 449.2 285.3 443.9 290.0 438.3Z"/>
<path fill="#0055ff" d="M290.0 438.8C292.1 433.4 291.9 436.9 296.2 436.7C300.4 436.5 299.8 436.0 302.7 438.3C305.7 440.6 305.8 439.6 305.0 443.6C304.3 447.5 304.5 447.2 300.6 450.1C296.8 453.1 297.1 451.5 293.5 452.4C290.0 453.3 291.2 457.3 290.0 452.8C288.8 448.2 287.9 444.2 290.0 438.8Z"/>
<path fill="#0000aa" d="M290.0 440.0C291.8 435.4 291.5 438.0 295.3 437.7C299.1 437.4 298.8 437.2 301.5 439.2C304.2 441.1 303.9 440.3 303.3 443.6C302.7 446.8 303.0 446.4 299.7 448.9C296.5 451.4 296.8 450.3 293.5 451.2C290.3 452.1 291.2 455.3 290.0 451.5C288.8 447.8 288.2 444.6 290.0 440.0Z"/>
<path fill="#3200aa" d="M291.8 442.7C292.7 440.8 293.2 441.0 295.3 441.3C297.4 441.5 297.7 441.6 298.0 443.4C298.3 445.2 298.0 445.4 296.2 446.6C294.4 447.8 294.1 448.4 292.7 447.1C291.2 445.8 290.9 444.6 291.8 442.7Z"/>
<path fill="#8cff00" d="M290.0 466.6C292.4 461.3 290.0 463.3 297.1 457.7C304.2 452.1 298.8 455.1 311.2 449.8C323.6 444.5 318.9 445.5 334.2 441.8C349.6 438.2 342.5 440.0 357.3 438.8C372.0 437.6 364.3 437.7 378.5 438.3C392.7 438.9 387.9 437.9 399.7 440.6C411.5 443.2 405.6 441.7 413.9 446.2C422.2 450.8 418.6 449.5 424.5 454.2C430.4 458.9 425.7 456.3 431.6 460.4C437.5 464.5 436.1 464.7 442.2 466.6C448.3 468.5 447.4 463.7 450.0 466.1C452.6 468.4 503.3 471.1 450.0 473.7C396.7 476.2 343.3 476.0 290.0 473.7C236.7 471.3 287.6 471.9 290.0 466.6Z"/>
<path fill="#ffff00" d="M298.0 460.4C298.0 457.7 298.0 458.6 304.2 455.1C310.4 451.5 306.5 453.3 316.5 449.8C326.6 446.2 322.4 447.5 334.2 444.5C346.0 441.4 338.4 442.1 351.9 440.6C365.5 439.1 361.4 439.6 375.0 440.0C388.5 440.5 382.0 439.7 392.7 441.8C403.3 443.9 398.6 442.7 406.8 446.2C415.1 449.8 412.4 448.6 417.4 452.4C422.4 456.3 423.0 455.1 421.9 457.7C420.7 460.4 420.1 458.9 413.9 460.4C407.7 461.9 408.6 460.1 403.3 462.2C398.0 464.2 400.3 462.8 398.0 466.6C395.6 470.4 406.8 471.3 396.2 473.7C385.6 476.0 376.7 476.3 366.1 473.7C355.5 471.0 366.7 470.1 364.3 465.7C362.0 461.3 364.3 463.1 359.0 460.4C353.7 457.7 356.7 458.6 348.4 457.7C340.1 456.9 344.9 456.9 334.2 457.7C323.6 458.6 326.6 458.6 316.5 460.4C306.5 462.2 310.4 463.1 304.2 463.1C298.0 463.1 298.0 463.1 298.0 460.4Z"/>
<path fill="#ffaa00" d="M311.2 457.7C311.8 455.7 310.6 456.3 318.3 453.3C326.0 450.4 323.0 451.8 334.2 448.9C345.5 445.9 340.1 446.5 351.9 444.5C363.7 442.4 357.3 443.0 369.6 442.7C382.0 442.4 377.9 441.8 389.1 443.6C400.3 445.4 396.2 444.8 403.3 448.0C410.4 451.3 409.2 450.4 410.4 453.3C411.5 456.3 411.5 455.1 406.8 456.9C402.1 458.6 401.5 456.3 396.2 458.6C390.9 461.0 393.2 458.9 390.9 463.9C388.5 469.0 396.2 470.4 389.1 473.7C382.0 476.9 376.4 476.6 369.6 473.7C362.9 470.7 370.5 469.8 368.8 464.8C367.0 459.8 368.8 461.9 364.3 458.6C359.9 455.4 362.6 456.6 355.5 455.1C348.4 453.6 351.9 453.9 343.1 454.2C334.2 454.5 337.8 454.2 328.9 456.0C320.1 457.7 322.4 458.9 316.5 459.5C310.6 460.1 310.6 459.8 311.2 457.7Z"/>
<path fill="#ff5500" d="M353.7 446.2C355.5 444.5 356.7 445.1 366.1 444.5C375.5 443.9 372.6 443.6 382.0 444.5C391.5 445.4 389.7 445.4 394.4 447.1C399.1 448.9 397.4 447.4 396.2 449.8C395.0 452.1 394.1 450.7 390.9 454.2C387.6 457.7 388.2 453.9 386.5 460.4C384.7 466.9 389.5 469.2 385.6 473.7C381.6 478.1 378.4 477.2 374.6 473.7C370.8 470.1 375.7 468.7 374.1 463.1C372.4 457.4 374.1 461.3 369.6 456.9C365.2 452.4 366.1 453.3 360.8 449.8C355.5 446.2 351.9 448.0 353.7 446.2Z"/>
<path fill="#ff5500" d="M328.1 451.9C330.4 450.8 334.5 450.2 339.6 449.8C344.6 449.4 345.5 449.6 343.1 450.7C340.7 451.7 337.5 452.6 332.5 453.0C327.5 453.4 325.7 453.0 328.1 451.9Z"/>
<path fill="#00ff82" d="M290.0 468.4C293.5 466.0 294.7 464.8 300.6 466.6C306.5 468.4 311.2 471.3 307.7 473.7C304.2 476.0 295.9 475.4 290.0 473.7C284.1 471.9 286.5 470.7 290.0 468.4Z"/>
<path fill="#00ffff" d="M410.4 439.2C413.0 436.5 413.9 436.8 421.0 437.4C428.1 438.0 421.9 439.2 431.6 440.9C441.3 442.7 443.9 439.0 450.0 442.7C456.1 446.4 453.2 449.0 450.0 451.9C446.8 454.9 446.6 452.6 440.4 451.5C434.3 450.5 438.1 449.8 431.6 448.9C425.1 448.0 427.2 450.1 421.0 448.9C414.8 447.7 416.5 448.6 413.0 445.4C409.5 442.1 407.7 441.8 410.4 439.2Z"/>
<path fill="#0055ff" d="M413.5 441.8C415.0 439.3 414.7 439.3 419.2 438.5C423.7 437.6 422.9 437.4 427.2 439.2C431.4 440.9 431.4 440.6 431.9 443.6C432.5 446.5 432.7 446.5 428.9 448.0C425.2 449.5 425.3 448.7 420.6 448.0C415.9 447.3 417.1 447.9 414.8 445.9C412.4 443.8 412.1 444.3 413.5 441.8Z"/>
<path fill="#0000aa" d="M414.8 441.8C416.0 439.7 415.4 439.7 419.2 439.2C423.0 438.6 422.4 438.6 426.3 440.0C430.1 441.5 430.1 441.2 430.7 443.6C431.3 445.9 431.3 445.9 428.1 447.1C424.8 448.3 425.1 447.7 421.0 447.1C416.8 446.5 417.7 447.1 415.7 445.4C413.6 443.6 413.6 443.9 414.8 441.8Z"/>
<path fill="#8200aa" d="M418.3 442.2C419.2 440.7 419.8 440.8 422.7 440.9C425.7 441.1 426.3 441.2 427.2 442.7C428.1 444.2 427.8 444.5 425.4 445.4C423.0 446.2 422.4 446.4 420.1 445.4C417.7 444.3 417.4 443.6 418.3 442.2Z"/>
<path fill="#ffff00" d="M403.3 436.7C405.6 435.4 405.4 435.9 421.0 435.3C436.5 434.7 433.2 434.8 450.0 434.9C466.8 435.0 447.6 435.5 471.2 435.6C494.8 435.7 503.0 434.1 520.8 435.3C538.6 436.4 524.1 436.1 524.7 439.2C525.3 442.2 525.6 441.1 522.6 444.5C519.5 447.8 523.2 447.1 515.5 449.2C507.8 451.4 510.2 450.3 499.6 451.0C488.9 451.8 491.3 452.6 483.6 451.5C476.0 450.5 481.3 450.8 476.5 448.0C471.8 445.2 475.4 445.0 469.5 443.1C463.6 441.1 465.3 442.3 458.8 442.2C452.4 442.1 455.5 442.6 450.0 442.7C444.5 442.8 449.5 442.8 442.2 442.3C434.9 441.9 437.5 442.3 428.1 441.3C418.6 440.2 422.2 440.7 413.9 439.2C405.6 437.6 400.9 438.0 403.3 436.7Z"/>
<path fill="#ffaa00" d="M404.2 437.0C406.5 436.2 405.7 436.4 421.0 436.0C436.3 435.5 434.4 435.4 450.0 435.6C465.6 435.9 460.0 434.9 467.7 436.7C475.4 438.5 469.5 437.7 473.0 440.9C476.5 444.1 474.2 443.1 478.3 446.2C482.4 449.4 478.3 449.1 485.4 450.3C492.5 451.5 491.3 450.7 499.6 449.8C507.8 448.8 503.1 449.4 510.2 447.5C517.3 445.5 516.3 446.7 520.8 443.9C525.3 441.2 523.6 441.8 523.6 439.2C523.6 436.5 538.3 437.0 520.8 436.0C503.3 434.9 491.3 434.2 471.2 436.0C451.2 437.7 467.7 439.3 460.6 441.3C453.5 443.2 456.1 441.7 450.0 441.8C443.9 441.9 449.5 442.1 442.2 441.6C434.9 441.2 437.5 441.6 428.1 440.6C418.6 439.5 421.9 439.6 413.9 438.5C405.9 437.3 401.8 437.9 404.2 437.0Z"/>
<path fill="#ff2020" d="M405.0 437.0C407.4 436.4 406.0 436.7 421.0 436.3C436.0 436.0 433.8 435.9 450.0 436.0C466.2 436.1 461.2 434.9 469.5 436.7C477.7 438.5 471.2 437.8 474.8 441.3C478.3 444.8 476.5 444.4 480.1 447.1C483.6 449.9 478.9 449.2 485.4 449.6C491.9 450.0 491.9 449.5 499.6 448.4C507.2 447.2 501.6 447.8 508.4 446.1C515.2 444.4 515.1 445.6 519.9 443.2C524.7 440.8 522.7 441.2 522.9 438.8C523.1 436.4 537.7 436.8 520.4 436.0C503.2 435.1 492.4 434.9 471.2 436.3C450.1 437.7 464.2 438.8 457.1 440.2C450.0 441.6 455.0 440.2 450.0 440.6C445.0 440.9 449.5 441.3 442.2 441.3C434.9 441.2 437.5 441.5 428.1 440.4C418.6 439.3 421.6 439.2 413.9 438.1C406.2 437.0 402.7 437.6 405.0 437.0Z"/>
<path fill="#ffaaaa" d="M421.0 437.0C422.2 435.7 421.6 436.3 431.6 436.0C441.6 435.6 444.6 435.2 451.1 436.0C457.6 436.7 454.0 436.6 451.1 438.3C448.1 439.9 447.5 439.7 442.2 440.9C436.9 442.1 439.9 442.1 435.1 441.8C430.4 441.5 432.8 441.6 428.1 440.0C423.3 438.5 419.8 438.4 421.0 437.0Z"/>
<path fill="#ffaaaa" d="M472.1 437.0C476.3 435.7 470.4 436.3 485.4 436.0C500.4 435.6 504.9 435.2 517.3 436.0C529.6 436.7 521.4 436.0 522.6 438.3C523.7 440.5 523.2 440.3 520.8 442.7C518.4 445.1 519.6 444.5 515.5 445.4C511.4 446.2 512.5 446.5 508.4 445.4C504.3 444.2 506.6 442.4 503.1 441.8C499.6 441.2 501.3 443.6 497.8 443.6C494.2 443.6 496.6 442.1 492.5 441.8C488.3 441.5 490.1 442.7 485.4 442.7C480.7 442.7 482.4 442.7 478.3 441.8C474.2 440.9 475.1 441.6 473.0 440.0C470.9 438.5 468.0 438.4 472.1 437.0Z"/>
<path fill="#00ffff" d="M450.0 453.3C453.5 450.7 451.8 451.5 460.6 451.5C469.5 451.5 465.3 452.1 476.5 453.3C487.8 454.5 483.6 454.2 494.2 455.1C504.9 456.0 505.5 454.8 508.4 456.0C511.4 457.2 510.8 457.4 503.1 458.6C495.4 459.8 497.2 459.5 485.4 459.5C473.6 459.5 479.5 458.6 467.7 458.6C455.9 458.6 455.9 461.3 450.0 459.5C444.1 457.7 446.5 456.0 450.0 453.3Z"/>
<path fill="#00ffff" d="M527.9 442.7C532.3 440.8 535.0 440.3 542.0 440.0C549.1 439.7 545.6 440.3 549.1 441.8C552.7 443.3 556.2 443.0 552.7 444.5C549.1 445.9 546.5 445.8 538.5 446.2C530.5 446.7 532.3 447.1 528.8 445.9C525.2 444.7 523.5 444.6 527.9 442.7Z"/>
<path fill="#00ffff" d="M579.2 442.7C582.7 440.5 583.9 439.9 591.6 438.3C599.3 436.6 599.3 436.9 602.2 437.7C605.2 438.6 604.6 438.7 600.4 440.9C596.3 443.2 596.3 443.2 589.8 444.5C583.3 445.8 584.5 445.4 581.0 444.8C577.4 444.2 575.7 444.9 579.2 442.7Z"/>
<path fill="#8cff00" d="M549.1 457.7C551.5 454.8 550.3 455.1 556.2 452.4C562.1 449.8 559.7 450.4 566.8 449.8C573.9 449.2 572.7 449.5 577.4 450.7C582.2 451.8 582.2 450.7 581.0 453.3C579.8 456.0 579.8 455.4 573.9 458.6C568.0 461.9 570.4 461.0 563.3 463.1C556.2 465.1 557.4 465.4 552.7 464.8C547.9 464.2 550.3 463.6 549.1 461.3C547.9 458.9 546.8 460.7 549.1 457.7Z"/>
<path fill="#8cff00" d="M589.8 451.5C592.8 449.2 593.7 449.2 600.4 446.2C607.2 443.3 606.8 442.4 610.0 442.7C613.2 443.0 612.6 444.5 610.0 447.1C607.4 449.8 608.3 448.6 602.2 450.7C596.1 452.7 595.7 453.0 591.6 453.3C587.5 453.6 586.9 453.9 589.8 451.5Z"/>
<path fill="#8cff00" d="M593.4 467.5C598.9 464.8 604.5 463.6 610.0 465.7C615.5 467.8 615.5 471.0 610.0 473.7C604.5 476.3 598.9 475.7 593.4 473.7C587.8 471.6 587.8 470.1 593.4 467.5Z"/>
<path fill="#8cff00" d="M610.0 440.9C615.9 437.5 613.5 439.4 627.7 437.7C641.9 436.1 641.3 435.2 652.5 436.0C663.7 436.7 659.0 436.0 661.3 440.0C663.7 444.1 667.8 444.9 659.6 448.0C651.3 451.1 653.1 449.4 636.5 449.4C620.0 449.4 618.8 450.8 610.0 448.0C601.2 445.2 604.1 444.4 610.0 440.9Z"/>
<path fill="#ffff00" d="M618.8 445.4C620.6 443.6 621.8 444.2 627.7 441.8C633.6 439.5 630.6 440.0 636.5 438.3C642.4 436.5 640.4 436.5 645.4 436.5C650.4 436.5 649.8 436.2 651.6 438.3C653.4 440.3 652.8 440.2 650.7 442.7C648.6 445.2 651.3 444.4 645.4 445.9C639.5 447.4 640.7 446.7 633.0 447.1C625.3 447.5 627.1 447.7 622.4 447.1C617.7 446.5 617.1 447.1 618.8 445.4Z"/>
<path fill="#ffaa00" d="M628.6 444.5C630.4 442.5 631.5 442.5 636.5 440.0C641.6 437.6 639.5 437.4 643.6 437.0C647.8 436.6 647.5 437.0 648.9 438.8C650.4 440.6 651.0 440.3 648.1 442.3C645.1 444.4 645.7 443.6 640.1 444.8C634.5 446.0 635.1 446.0 631.2 445.9C627.4 445.8 626.8 446.4 628.6 444.5Z"/>
<path fill="#ff5500" d="M636.5 441.8C637.1 440.0 638.3 439.2 641.9 438.3C645.4 437.4 645.7 437.8 647.2 439.2C648.6 440.5 648.6 440.9 646.3 442.3C643.9 443.8 643.3 443.8 640.1 443.6C636.8 443.4 636.0 443.6 636.5 441.8Z"/>
<path fill="#00ffff" d="M652.5 446.2C654.0 443.9 654.2 444.5 659.6 444.5C664.9 444.5 666.0 443.9 668.4 446.2C670.8 448.6 669.0 448.9 666.6 451.5C664.3 454.2 665.2 454.2 661.3 454.2C657.5 454.2 658.1 454.2 655.1 451.5C652.2 448.9 651.0 448.6 652.5 446.2Z"/>
<path fill="#0055ff" d="M655.1 439.2C657.2 436.8 655.7 437.1 663.1 436.5C670.5 435.9 668.4 437.4 677.3 437.4C686.1 437.4 686.1 436.2 689.6 436.5C693.2 436.8 692.0 437.1 687.9 438.3C683.7 439.5 683.2 438.6 677.3 440.0C671.4 441.5 674.9 441.1 670.2 442.7C665.5 444.3 667.5 444.5 663.1 444.8C658.7 445.1 659.6 445.5 656.9 443.6C654.2 441.7 653.1 441.5 655.1 439.2Z"/>
<path fill="#0000aa" d="M656.4 440.0C657.3 438.3 657.3 438.2 661.3 437.4C665.3 436.6 665.5 436.7 668.4 437.7C671.4 438.8 671.4 438.6 670.2 440.6C669.0 442.5 668.7 442.9 664.9 443.6C661.0 444.3 661.5 443.9 658.7 442.7C655.8 441.5 655.5 441.8 656.4 440.0Z"/>
<path fill="#8200aa" d="M660.4 439.2C662.5 438.5 664.6 438.5 666.6 439.2C668.7 439.9 668.7 440.6 666.6 441.3C664.6 442.0 662.5 442.0 660.4 441.3C658.4 440.6 658.4 439.9 660.4 439.2Z"/>
<path fill="#8cff00" d="M668.4 442.7C674.3 439.5 673.7 440.9 689.6 440.0C705.6 439.2 704.4 439.2 716.2 440.0C728.0 440.9 719.1 443.6 725.0 442.7C730.9 441.8 726.2 438.9 733.9 437.4C741.6 435.9 736.3 433.6 748.1 438.3C759.9 443.0 762.2 442.4 769.3 451.5C776.4 460.7 775.2 462.2 769.3 465.7C763.4 469.2 763.4 464.8 751.6 462.2C739.8 459.5 745.7 460.7 733.9 457.7C722.1 454.8 726.8 456.6 716.2 453.3C705.6 450.1 710.3 450.7 702.0 448.0C693.8 445.4 698.5 445.6 691.4 445.4C684.3 445.1 687.3 445.6 680.8 447.1C674.3 448.6 676.1 451.3 671.9 449.8C667.8 448.3 662.5 445.9 668.4 442.7Z"/>
<path fill="#00ffff" d="M682.6 448.0C686.1 446.2 684.9 445.9 691.4 446.2C697.9 446.5 693.8 446.2 702.0 448.9C710.3 451.5 705.6 451.0 716.2 454.2C726.8 457.4 722.1 455.7 733.9 458.6C745.7 461.6 739.8 460.4 751.6 463.1C763.4 465.7 763.4 463.1 769.3 466.6C775.2 470.1 794.7 471.3 769.3 473.7C743.9 476.0 718.0 477.2 693.2 473.7C668.4 470.1 697.3 468.7 695.0 463.1C692.6 457.4 690.8 460.7 686.1 456.9C681.4 453.0 682.0 454.5 680.8 451.5C679.6 448.6 679.0 449.8 682.6 448.0Z"/>
<path fill="#ffff00" d="M723.3 446.2C724.5 443.3 726.2 443.0 730.4 440.0C734.5 437.1 730.9 437.1 735.7 437.4C740.4 437.7 739.2 438.6 744.5 440.9C749.8 443.3 746.3 441.5 751.6 444.5C756.9 447.4 754.5 446.5 760.4 449.8C766.3 453.0 766.3 450.8 769.3 454.2C772.2 457.6 775.2 459.0 769.3 459.9C763.4 460.8 762.2 459.6 751.6 456.9C741.0 454.1 745.7 454.2 737.4 451.5C729.2 448.9 731.5 450.7 726.8 448.9C722.1 447.1 722.1 449.2 723.3 446.2Z"/>
<path fill="#ffaa00" d="M733.9 439.2C734.5 437.6 733.9 436.7 737.4 437.0C741.0 437.3 741.0 437.9 744.5 440.0C748.1 442.2 749.2 442.4 748.1 443.6C746.9 444.8 745.1 444.2 741.0 443.6C736.8 443.0 738.0 443.3 735.7 441.8C733.3 440.3 733.3 440.8 733.9 439.2Z"/>
<path fill="#ff5500" d="M736.5 438.3C736.5 436.7 738.0 436.7 741.0 437.7C743.9 438.7 745.4 439.7 745.4 441.3C745.4 442.8 743.9 443.3 741.0 442.3C738.0 441.3 736.5 439.8 736.5 438.3Z"/>
<path fill="#ff2020" d="M749.8 437.0C749.8 436.2 751.6 436.0 755.1 436.0C758.7 436.0 760.4 436.2 760.4 437.0C760.4 437.9 758.7 438.5 755.1 438.5C751.6 438.5 749.8 437.9 749.8 437.0Z"/>
<path fill="#0055ff" d="M749.8 441.3C752.2 439.5 754.0 440.5 760.4 439.2C766.9 437.9 766.3 435.0 769.3 437.4C772.2 439.7 772.2 443.3 769.3 446.2C766.3 449.2 765.8 446.8 760.4 446.2C755.1 445.6 756.9 446.1 753.4 444.5C749.8 442.8 747.5 443.1 749.8 441.3Z"/>
<path fill="#0000aa" d="M751.6 442.0C753.4 440.7 754.5 441.4 760.4 440.2C766.3 439.0 766.3 436.7 769.3 438.5C772.2 440.2 772.2 443.1 769.3 445.4C766.3 447.7 765.2 445.8 760.4 445.4C755.7 444.9 758.1 445.2 755.1 444.1C752.2 443.0 749.8 443.3 751.6 442.0Z"/>
<path fill="#8cff00" d="M643.6 473.7C633.3 469.2 641.0 465.7 642.7 460.4C644.5 455.1 642.2 457.7 648.9 457.7C655.7 457.7 654.2 458.0 663.1 460.4C671.9 462.8 670.5 462.2 675.5 464.8C680.5 467.5 678.7 465.4 678.1 468.4C677.6 471.3 685.2 471.9 673.7 473.7C662.2 475.4 654.0 478.1 643.6 473.7Z"/>
<path fill="#ffff00" d="M653.4 473.7C649.8 471.3 652.8 469.5 655.1 466.6C657.5 463.6 657.2 464.5 660.4 464.8C663.7 465.1 663.1 464.5 664.9 467.5C666.6 470.4 669.6 471.6 665.8 473.7C661.9 475.7 656.9 476.0 653.4 473.7Z"/>
<path fill="none" stroke="#00ffff" stroke-width="2.6" d="M136.0 436.8L292.0 436.8"/>
<path fill="none" stroke="#00ffff" stroke-width="2.6" d="M330.0 436.8L376.0 436.8"/>
<path fill="none" stroke="#00ffff" stroke-width="2.6" d="M545.0 436.8L582.0 436.8"/>
<path fill="none" stroke="#00ffff" stroke-width="2.6" d="M610.0 436.8L640.0 436.8"/>
<path fill="none" stroke="#00ffff" stroke-width="2.6" d="M655.0 436.8L695.0 436.8"/>
<path fill="none" stroke="#0000aa" stroke-width="1.1" d="M136.0 436.6L160.0 436.6"/>
<path fill="none" stroke="#0000aa" stroke-width="1.1" d="M176.0 436.6L254.0 436.6"/>
<path fill="none" stroke="#0055ff" stroke-width="1.1" d="M332.0 436.6L373.0 436.6"/>
<path fill="none" stroke="#0055ff" stroke-width="1.1" d="M549.0 436.6L574.0 436.6"/>
<path fill="none" stroke="#0055ff" stroke-width="1.1" d="M655.0 436.6L690.0 436.6"/>
<path fill="none" stroke="#0055ff" stroke-width="1.1" d="M270.0 436.6L280.0 436.6"/>
<path fill="none" stroke="#0055ff" stroke-width="1.1" d="M735.0 436.6L741.0 436.6"/>
<path fill="none" stroke="#ff5500" stroke-width="1.8" d="M308.0 436.8L317.0 436.8"/>
<path fill="none" stroke="#ff2020" stroke-width="1.8" d="M750.0 436.8L760.0 436.8"/>
<path fill="none" stroke="#ff2020" stroke-width="1.8" d="M286.0 436.8L290.0 436.8"/>
<path fill="#8200aa" d="M280.4 439.9C281.5 438.8 281.9 438.6 284.0 438.8C286.1 439.0 286.8 439.3 286.8 440.6C286.8 441.9 286.0 442.2 284.0 442.7C282.0 443.2 282.0 442.9 280.8 442.0C279.6 441.0 279.4 440.9 280.4 439.9Z"/>
<path fill="#8cff00" stroke="#8cff00" stroke-width="6.6" stroke-linejoin="round" d="M135.0 200.0C137.7 198.2 136.3 198.5 143.0 196.6C149.6 194.7 145.6 195.6 154.9 194.2C164.2 192.8 160.2 193.4 170.8 192.4C181.5 191.4 176.2 191.9 186.8 191.2C197.4 190.6 193.4 190.7 202.7 190.4C212.0 190.2 208.0 190.1 214.6 190.4C221.3 190.8 219.2 190.6 222.6 191.4C226.1 192.2 227.7 191.7 225.0 192.8C222.3 194.0 222.7 193.6 214.6 194.8C206.6 196.0 210.7 195.4 200.7 196.4C190.8 197.4 195.4 196.9 184.8 197.8C174.2 198.7 178.8 198.3 168.9 199.2C158.9 200.1 163.5 199.7 154.9 200.4C146.3 201.1 149.6 200.9 143.0 201.4C136.3 201.9 137.7 202.5 135.0 202.0C132.3 201.5 132.3 201.8 135.0 200.0Z"/>
<path fill="#00ff82" stroke="#00ff82" stroke-width="6.6" stroke-linejoin="round" d="M135.0 203.8C141.6 202.2 141.6 203.4 154.9 202.4C168.2 201.4 161.5 201.9 174.8 200.8C188.1 199.7 181.5 200.2 194.7 199.2C208.0 198.2 201.4 198.7 214.6 197.8C227.9 196.9 221.3 197.2 234.6 196.4C247.8 195.6 241.2 196.1 254.5 195.4C267.7 194.8 261.1 194.8 274.4 194.4C287.7 194.1 285.8 194.1 294.3 194.4C302.8 194.7 291.4 194.9 300.0 195.4C308.6 195.9 308.9 195.4 320.0 195.9C331.0 196.4 325.5 195.8 333.3 197.0C341.0 198.1 341.0 198.4 343.2 199.4C345.5 200.3 345.5 199.3 339.9 199.9C334.4 200.5 335.5 200.2 326.6 201.2C317.7 202.3 322.2 201.9 313.3 203.1C304.4 204.2 306.3 204.3 300.0 204.7C293.7 205.1 302.8 204.0 294.3 204.4C285.8 204.7 287.7 205.1 274.4 205.8C261.1 206.4 267.7 206.2 254.5 206.4C241.2 206.6 247.8 206.2 234.6 206.4C221.3 206.5 227.9 206.5 214.6 206.8C201.4 207.0 208.0 207.0 194.7 207.2C181.5 207.3 188.1 207.2 174.8 207.2C161.5 207.2 168.2 207.2 154.9 207.2C141.6 207.2 141.6 208.3 135.0 207.2C128.4 206.0 128.4 205.4 135.0 203.8Z"/>
<path fill="#00ff82" stroke="#00ff82" stroke-width="6.6" stroke-linejoin="round" d="M363.9 197.6C367.4 196.4 367.8 196.6 379.8 195.1C391.8 193.6 386.4 194.4 399.8 193.1C413.2 191.8 413.7 191.5 420.0 191.1C426.3 190.8 412.4 192.2 418.5 192.0C424.7 191.9 429.0 190.8 438.5 190.6C447.9 190.5 446.8 190.5 446.8 191.6C446.8 192.8 447.9 192.6 438.5 194.0C429.0 195.4 424.7 194.7 418.5 195.8C412.4 197.0 426.3 196.7 420.0 197.5C413.7 198.3 413.2 197.8 399.8 198.3C386.4 198.8 390.0 198.7 379.8 199.0C369.6 199.2 374.5 199.4 369.2 199.0C363.9 198.5 360.3 198.9 363.9 197.6Z"/>
<path fill="#8cff00" stroke="#8cff00" stroke-width="9.2" stroke-linejoin="round" d="M344.6 203.8C346.8 202.8 348.1 202.8 359.9 201.9C371.6 201.0 366.5 201.5 379.8 201.0C393.1 200.4 386.4 201.0 399.8 200.2C413.2 199.4 408.4 199.4 420.0 198.6C431.6 197.8 423.0 199.1 434.5 197.8C445.9 196.6 441.1 196.5 454.4 194.8C467.7 193.2 460.8 193.5 474.3 192.8C487.8 192.2 481.5 192.5 495.0 192.8C508.5 193.2 498.3 193.3 514.9 193.8C531.5 194.4 524.9 194.4 544.8 194.4C564.7 194.4 556.7 194.0 574.6 193.8C592.6 193.6 585.3 193.5 598.5 193.8C611.8 194.2 607.2 193.5 614.5 194.8C621.8 196.2 619.1 195.5 620.4 197.8C621.8 200.1 621.8 199.8 618.5 201.8C615.1 203.8 618.5 202.9 610.5 203.8C602.5 204.6 606.5 204.2 594.6 204.4C582.6 204.6 591.2 204.4 574.6 204.4C558.1 204.4 564.7 204.7 544.8 204.4C524.9 204.1 531.5 203.9 514.9 203.4C498.3 202.9 508.5 202.7 495.0 202.8C481.5 202.9 487.8 203.1 474.3 203.8C460.8 204.4 467.7 204.2 454.4 204.8C441.1 205.4 445.9 204.9 434.5 205.6C423.0 206.2 431.6 206.3 420.0 206.7C408.4 207.1 413.2 206.7 399.8 206.7C386.4 206.6 391.8 206.8 379.8 206.6C367.8 206.3 372.7 206.5 363.9 205.9C355.0 205.3 359.6 205.4 353.2 204.7C346.8 204.0 342.3 204.7 344.6 203.8Z"/>
<path fill="#00ff82" stroke="#00ff82" stroke-width="6.6" stroke-linejoin="round" d="M634.9 200.8C635.6 198.9 636.3 198.9 641.9 196.8C647.5 194.7 642.6 195.6 651.9 194.4C661.2 193.3 653.9 193.9 669.8 193.4C685.7 193.0 679.7 193.2 699.6 193.0C719.6 192.9 712.9 193.0 729.5 193.0C746.1 193.0 739.1 192.8 749.4 193.0C759.7 193.3 757.1 192.7 760.4 193.8C763.7 195.0 763.0 194.5 759.4 196.4C755.7 198.3 759.4 197.8 749.4 199.6C739.5 201.4 746.1 200.7 729.5 201.8C712.9 202.9 719.6 202.4 699.6 203.0C679.7 203.6 686.4 203.5 669.8 203.6C653.2 203.7 659.8 203.7 649.9 203.4C639.9 203.1 644.9 203.5 639.9 202.6C634.9 201.7 634.3 202.7 634.9 200.8Z"/>
<path fill="#8cff00" stroke="#8cff00" stroke-width="6.6" stroke-linejoin="round" d="M135.0 227.1C141.6 223.8 141.6 227.2 154.9 227.1C168.2 227.0 166.5 226.9 174.8 226.7C183.2 226.5 172.7 227.1 180.0 226.5C187.3 225.9 187.4 225.5 196.6 224.9C205.8 224.2 198.4 224.8 207.7 224.6C216.9 224.5 217.6 225.0 224.2 224.3C230.9 223.7 224.6 224.1 227.6 222.7C230.5 221.2 228.3 221.7 233.1 219.9C237.9 218.0 235.7 218.4 241.9 217.1C248.2 215.8 243.1 216.4 251.9 216.0C260.8 215.6 259.1 215.8 268.5 216.0C277.9 216.2 272.7 216.5 280.0 216.6C287.3 216.7 282.2 216.1 290.3 216.3C298.4 216.6 296.0 216.8 304.3 217.3C312.5 217.9 308.4 217.5 315.0 217.9C321.6 218.4 320.6 218.1 324.0 218.7C327.3 219.4 327.9 218.7 325.0 219.9C322.0 221.1 321.9 220.9 315.0 222.3C308.1 223.7 312.5 223.0 304.3 224.1C296.0 225.2 298.4 224.7 290.3 225.7C282.2 226.7 287.3 225.9 280.0 227.1C272.7 228.3 276.8 227.9 268.5 229.3C260.2 230.7 261.9 230.0 255.2 231.3C248.6 232.6 253.0 231.9 248.6 233.2C244.2 234.4 248.2 234.0 241.9 235.0C235.7 236.0 239.4 235.7 229.8 236.2C220.2 236.6 229.8 236.3 213.2 236.5C196.6 236.7 192.8 236.6 180.0 236.8C167.2 237.0 183.2 237.0 174.8 237.0C166.5 237.1 168.2 237.0 154.9 237.0C141.6 237.0 141.6 240.4 135.0 237.0C128.4 233.7 128.4 230.4 135.0 227.1Z"/>
<path fill="#00ff82" stroke="#00ff82" stroke-width="6.6" stroke-linejoin="round" d="M135.0 238.6C148.3 234.5 148.3 238.7 174.8 238.4C201.4 238.2 194.7 238.2 214.6 237.8C234.6 237.4 223.9 237.8 234.6 237.2C245.2 236.7 239.9 237.3 246.5 236.2C253.1 235.2 249.2 235.6 254.5 234.1C259.8 232.5 255.8 233.2 262.4 231.7C269.1 230.1 265.1 231.0 274.4 229.5C283.7 227.9 280.4 228.4 290.3 227.1C300.3 225.8 296.0 226.4 304.3 225.5C312.5 224.6 304.8 225.2 315.0 224.3C325.2 223.4 321.6 223.6 334.9 222.7C348.2 221.8 341.5 222.0 354.8 221.7C368.1 221.4 362.8 221.7 374.7 221.7C386.7 221.7 381.4 222.8 390.7 221.7C400.0 220.6 394.6 220.6 402.6 218.3C410.6 216.0 406.6 216.7 414.6 214.7C422.5 212.7 417.2 213.7 426.5 212.3C435.8 211.0 431.8 211.4 442.4 210.8C453.1 210.1 447.7 210.4 458.4 210.4C469.0 210.4 462.1 210.0 474.3 210.8C486.5 211.5 486.1 211.7 495.0 212.5C503.9 213.4 497.0 212.3 501.0 213.3C505.0 214.4 503.6 213.8 506.9 215.7C510.3 217.7 508.9 216.9 510.9 219.1C512.9 221.3 512.9 220.1 512.9 222.3C512.9 224.5 513.3 223.4 510.9 225.7C508.6 227.9 509.6 227.2 506.0 229.1C502.3 230.9 503.6 230.3 500.0 231.3C496.3 232.2 500.2 231.7 495.0 231.9C489.8 232.0 491.2 231.4 484.3 231.7C477.4 231.9 481.6 232.0 474.3 232.7C467.0 233.3 469.0 233.5 462.4 233.7C455.7 233.8 459.0 233.7 454.4 233.1C449.7 232.4 453.7 232.5 448.4 231.7C443.1 230.9 444.4 230.7 438.5 230.7C432.5 230.7 435.1 230.3 430.5 231.7C425.8 233.0 429.8 233.1 424.5 234.6C419.2 236.2 424.5 235.6 414.6 236.2C404.6 236.9 407.9 236.5 394.6 236.6C381.4 236.8 388.0 236.8 374.7 236.6C361.5 236.5 368.1 236.4 354.8 236.2C341.5 236.0 348.2 235.9 334.9 236.0C321.6 236.2 325.2 236.0 315.0 236.6C304.8 237.2 312.5 237.0 304.3 237.8C296.0 238.6 300.3 238.1 290.3 239.0C280.4 240.0 283.0 239.4 274.4 240.6C265.8 241.8 271.1 241.0 264.4 242.6C257.8 244.3 260.4 243.7 254.5 245.6C248.5 247.5 251.2 246.9 246.5 248.2C241.9 249.5 247.8 249.0 240.5 249.6C233.2 250.2 239.9 249.8 224.6 250.0C209.3 250.2 214.6 250.0 194.7 250.2C174.8 250.4 184.8 250.3 164.9 250.6C145.0 250.8 145.0 255.0 135.0 251.0C125.0 247.0 121.7 242.8 135.0 238.6Z"/>
<path fill="#00ff82" stroke="#00ff82" stroke-width="6.6" stroke-linejoin="round" d="M534.8 232.7C535.5 230.8 538.1 231.1 546.8 227.7C555.4 224.2 551.4 225.4 560.7 222.3C570.0 219.2 565.4 219.8 574.6 218.3C583.9 216.8 581.3 217.3 588.6 217.7C595.9 218.2 590.6 217.4 596.6 219.7C602.5 222.0 599.9 221.6 606.5 224.7C613.1 227.8 611.2 226.6 616.5 229.1C621.8 231.6 623.1 230.9 622.4 232.3C621.8 233.7 630.4 232.9 614.5 233.3C598.5 233.6 597.9 233.3 574.6 233.3C551.4 233.3 558.1 233.5 544.8 233.3C531.5 233.1 534.2 234.5 534.8 232.7Z"/>
<path fill="#8cff00" stroke="#8cff00" stroke-width="11.2" stroke-linejoin="round" d="M616.5 222.7C617.1 220.0 617.1 221.4 624.4 218.7C631.7 216.1 628.4 216.9 638.4 214.7C648.3 212.6 645.8 213.2 654.3 212.3C662.8 211.5 653.3 212.2 663.8 212.1C674.3 212.1 674.8 211.9 685.7 212.1C696.7 212.4 688.7 212.1 696.7 212.9C704.6 213.7 700.6 213.3 709.6 214.5C718.6 215.7 714.6 214.9 723.5 216.5C732.5 218.1 727.9 217.5 736.5 219.3C745.1 221.1 739.7 219.9 749.4 221.9C759.2 223.9 758.5 223.8 765.8 225.3C773.1 226.8 769.5 223.2 771.3 226.3C773.2 229.4 778.6 232.2 771.3 234.6C764.0 237.1 763.4 234.1 749.4 233.7C735.5 233.2 746.1 233.5 729.5 233.3C712.9 233.1 719.6 233.1 699.6 233.1C679.7 233.0 686.4 233.2 669.8 233.1C653.2 232.9 655.0 232.7 649.9 232.7C644.7 232.7 658.1 233.1 654.3 233.1C650.5 233.1 646.3 233.5 638.4 232.7C630.4 231.9 635.7 232.7 630.4 230.7C625.1 228.7 627.1 229.3 622.4 226.7C617.8 224.0 615.8 225.4 616.5 222.7Z"/>
<path fill="#8cff00" stroke="#8cff00" stroke-width="6.6" stroke-linejoin="round" d="M135.0 252.0C146.6 248.4 145.0 251.8 164.9 251.6C184.8 251.3 174.8 251.4 194.7 251.2C214.6 251.0 209.3 251.2 224.6 251.0C239.9 250.8 232.6 251.2 240.5 250.6C248.5 249.9 243.9 250.0 248.5 249.0C253.1 248.0 249.8 249.1 254.5 247.6C259.1 246.1 255.8 246.3 262.4 244.6C269.1 242.9 265.1 243.8 274.4 242.6C283.7 241.4 280.4 242.0 290.3 241.0C300.3 240.0 296.0 240.6 304.3 239.6C312.5 238.6 298.1 238.7 315.0 238.0C331.9 237.4 328.3 237.6 354.8 237.6C381.4 237.6 373.4 238.2 394.6 238.0C415.9 237.8 407.9 238.2 418.5 237.0C429.2 235.9 421.2 236.0 426.5 234.6C431.8 233.3 427.8 233.6 434.5 233.1C441.1 232.5 439.8 232.5 446.4 233.1C453.1 233.6 445.1 234.1 454.4 234.6C463.7 235.2 460.8 234.6 474.3 234.6C487.8 234.6 474.8 234.6 495.0 234.6C515.2 234.6 508.3 234.8 534.8 234.6C561.4 234.5 548.1 234.5 574.6 234.3C601.2 234.1 595.9 233.9 614.5 234.1C633.1 234.2 627.7 233.7 630.4 234.6C633.1 235.6 629.1 235.4 622.4 237.0C615.8 238.7 617.1 237.9 610.5 239.6C603.9 241.4 609.8 240.9 602.5 242.2C595.2 243.5 597.9 242.9 588.6 243.6C579.3 244.3 589.3 243.5 574.6 244.2C560.0 244.9 561.4 244.8 544.8 245.6C528.2 246.4 536.2 245.6 524.9 246.6C513.6 247.6 520.9 247.4 510.9 248.6C501.0 249.8 507.2 249.8 495.0 250.2C482.8 250.6 487.8 249.8 474.3 249.8C460.8 249.8 467.7 249.9 454.4 250.2C441.1 250.4 447.7 250.6 434.5 250.6C421.2 250.6 427.8 250.3 414.6 250.2C401.3 250.0 407.9 250.4 394.6 250.2C381.4 250.0 388.0 250.0 374.7 249.6C361.5 249.2 366.8 249.3 354.8 249.0C342.9 248.7 348.2 248.5 338.9 248.6C329.6 248.7 334.9 248.9 326.9 249.2C319.0 249.5 322.6 249.3 315.0 249.4C307.4 249.5 312.5 249.5 304.3 249.4C296.0 249.3 298.9 249.1 290.3 249.2C281.7 249.3 285.0 249.3 278.4 249.8C271.7 250.2 275.7 250.0 270.4 250.6C265.1 251.1 264.4 250.4 262.4 251.4C260.4 252.3 260.4 252.6 264.4 253.4C268.4 254.1 267.1 253.4 274.4 253.6C281.7 253.8 278.4 253.4 286.3 254.0C294.3 254.5 291.0 254.1 298.3 255.2C305.6 256.2 307.7 255.9 308.2 257.2C308.8 258.4 295.2 258.4 300.0 259.0C304.8 259.7 306.9 258.8 322.6 259.0C338.2 259.3 329.5 259.0 347.0 259.8C364.6 260.5 355.8 260.2 375.2 261.3C394.6 262.4 386.5 262.4 405.3 263.2C424.1 263.9 410.1 263.1 431.6 263.5C453.2 264.0 440.6 264.6 470.0 264.6C499.4 264.6 492.1 264.3 519.8 263.6C547.4 262.9 530.7 262.6 553.0 262.4C575.2 262.3 570.9 262.5 586.5 263.2C602.2 263.9 591.0 263.6 599.8 264.5C608.7 265.4 605.6 264.8 613.1 265.8C620.6 266.9 622.4 266.7 622.4 267.6C622.4 268.4 620.6 267.7 613.1 268.5C605.6 269.2 608.7 268.9 599.8 269.8C591.0 270.7 595.4 270.3 586.5 271.1C577.7 272.0 588.3 271.2 573.3 272.5C558.2 273.7 564.7 274.1 541.3 274.9C518.0 275.7 527.0 274.8 503.2 274.9C479.4 275.0 490.1 275.5 470.0 275.2C449.9 274.9 462.0 274.3 442.9 274.1C423.9 273.8 429.1 274.6 412.8 274.4C396.5 274.3 404.7 274.4 394.0 273.5C383.4 272.6 390.3 273.2 380.9 271.6C371.5 270.1 377.1 270.4 365.8 268.8C354.5 267.2 359.5 267.7 347.0 266.9C334.5 266.1 343.9 266.7 328.2 266.4C312.5 266.0 315.9 266.4 300.0 266.0C284.1 265.5 299.5 265.9 280.4 265.0C261.4 264.2 267.9 264.2 242.8 263.5C217.8 262.9 230.3 263.4 205.2 263.2C180.1 262.9 192.7 263.1 167.6 262.8C142.5 262.5 140.9 265.8 130.0 262.2C119.1 258.6 123.4 255.5 135.0 252.0Z"/>
<path fill="#00ff82" stroke="#00ff82" stroke-width="6.6" stroke-linejoin="round" d="M315.0 255.8C320.1 253.9 317.6 253.9 337.6 252.3C357.7 250.6 350.1 251.4 375.2 250.9C400.3 250.5 351.2 251.5 412.8 250.9C474.4 250.4 506.5 250.0 560.0 249.2C613.5 248.5 564.4 248.4 573.3 248.6C582.1 248.8 578.6 248.8 586.5 249.9C594.5 251.0 592.7 250.9 597.2 251.9C601.6 252.9 601.2 251.9 599.8 253.0C598.5 254.1 599.8 253.6 593.2 255.2C586.5 256.9 588.8 256.3 579.9 257.9C571.1 259.4 575.6 258.9 566.6 259.9C557.7 260.8 568.6 260.1 553.0 260.8C537.3 261.5 547.4 261.4 519.8 261.9C492.1 262.5 499.4 262.4 470.0 262.4C440.6 262.5 453.2 262.5 431.6 262.2C410.1 262.0 424.1 262.5 405.3 261.7C386.5 260.8 394.6 260.8 375.2 259.8C355.8 258.7 364.6 259.1 347.0 258.5C329.5 257.8 333.2 258.8 322.6 257.9C311.9 257.0 310.0 257.7 315.0 255.8Z"/>
<path fill="#00ff82" stroke="#00ff82" stroke-width="6.6" stroke-linejoin="round" d="M130.0 264.1C148.8 262.4 148.8 264.4 186.4 264.7C224.0 265.0 205.0 264.2 242.8 265.0C280.7 265.9 271.5 266.5 300.0 267.3C328.5 268.1 312.5 267.2 328.2 267.5C343.9 267.7 334.5 267.2 347.0 268.1C359.5 268.9 354.8 268.2 365.8 270.1C376.8 272.1 376.8 272.3 379.9 273.9C383.1 275.5 383.1 274.7 375.2 275.0C367.4 275.3 381.5 274.9 356.4 274.8C331.3 274.8 337.9 274.9 300.0 274.8C262.1 274.7 268.2 274.9 242.8 274.4C217.5 274.0 236.6 274.4 224.0 273.5C211.5 272.6 217.8 272.7 205.2 271.6C192.7 270.6 202.1 270.9 186.4 270.3C170.7 269.7 177.0 269.9 158.2 269.7C139.4 269.6 139.4 271.6 130.0 269.7C120.6 267.9 111.2 265.8 130.0 264.1Z"/>
<path fill="#00ff82" stroke="#00ff82" stroke-width="6.6" stroke-linejoin="round" d="M611.1 243.7C613.3 240.8 612.4 241.4 619.7 239.3C627.0 237.2 621.9 238.4 633.0 237.3C644.1 236.2 650.6 236.5 652.9 236.0C655.2 235.4 631.0 236.1 639.9 235.6C648.8 235.2 647.9 235.0 679.7 234.6C711.6 234.3 714.9 234.0 735.5 234.6C756.1 235.3 737.5 235.3 741.5 236.6C745.4 238.0 741.5 238.0 747.4 238.6C753.4 239.3 751.4 238.8 759.4 238.6C767.4 238.5 767.4 234.4 771.3 238.2C775.3 242.1 782.0 246.2 771.3 250.2C760.7 254.2 763.4 250.6 739.5 250.2C715.6 249.8 722.9 249.5 699.6 249.0C676.4 248.5 689.7 248.4 669.8 248.6C649.9 248.8 645.5 249.1 639.9 249.6C634.3 250.0 655.2 249.6 652.9 249.9C650.6 250.2 644.1 250.4 633.0 250.6C621.9 250.7 626.4 251.2 619.7 250.3C613.1 249.4 616.0 250.1 613.1 247.9C610.2 245.7 608.9 246.5 611.1 243.7Z"/>
<path fill="#8cff00" stroke="#8cff00" stroke-width="6.6" stroke-linejoin="round" d="M613.1 256.7C613.1 254.9 613.1 254.8 619.7 253.2C626.4 251.6 621.9 252.6 633.0 251.9C644.1 251.2 650.6 251.3 652.9 251.2C655.2 251.1 634.3 251.9 639.9 251.6C645.5 251.2 649.9 250.5 669.8 250.2C689.7 249.8 676.4 250.1 699.6 250.6C722.9 251.0 715.6 251.2 739.5 251.6C763.4 251.9 760.7 248.6 771.3 251.6C782.0 254.6 782.0 257.5 771.3 260.5C760.7 263.5 763.4 260.7 739.5 260.5C715.6 260.4 722.9 260.5 699.6 260.1C676.4 259.8 689.7 260.1 669.8 259.5C649.9 259.0 645.5 258.4 639.9 258.5C634.3 258.7 655.2 259.6 652.9 259.9C650.6 260.1 644.1 259.6 633.0 259.2C621.9 258.8 626.4 259.4 619.7 258.5C613.1 257.7 613.1 258.4 613.1 256.7Z"/>
<path fill="#00ff82" stroke="#00ff82" stroke-width="6.6" stroke-linejoin="round" d="M605.1 261.2C608.2 260.1 608.2 260.6 619.7 260.5C631.2 260.4 639.6 260.8 639.6 260.9C639.7 261.0 604.4 260.7 620.0 260.8C635.6 260.9 637.1 261.0 686.4 261.3C735.6 261.6 740.6 259.0 767.7 261.6C794.8 264.3 773.8 266.7 767.7 269.2C761.6 271.8 758.8 268.9 749.4 269.2C740.0 269.6 744.4 269.2 739.5 270.2C734.5 271.3 740.0 271.0 734.5 272.4C729.0 273.8 730.1 273.7 722.9 274.6C715.7 275.4 719.6 275.2 712.9 274.9C706.3 274.6 711.8 274.7 703.0 273.6C694.1 272.5 697.4 271.7 686.4 271.6C675.3 271.5 675.2 273.6 669.8 273.2C664.4 272.9 671.4 272.1 670.2 270.5C669.0 268.9 670.2 269.4 666.2 268.5C662.2 267.6 662.7 267.2 658.2 267.8C653.8 268.5 657.3 269.2 652.9 270.5C648.5 271.8 650.3 272.0 645.0 271.8C639.6 271.6 642.3 270.9 637.0 269.8C631.7 268.7 635.2 269.6 629.0 268.5C622.8 267.4 624.6 268.0 618.4 266.5C612.2 264.9 614.9 265.6 610.4 263.8C606.0 262.1 602.0 262.3 605.1 261.2Z"/>
<path fill="#8cff00" stroke="#8cff00" stroke-width="6.6" stroke-linejoin="round" d="M603.8 278.4C606.0 277.8 612.2 278.5 619.7 277.1C627.3 275.7 621.5 275.0 626.4 274.2C631.2 273.4 629.9 273.5 634.3 274.7C638.8 275.9 635.7 277.2 639.6 277.8C643.6 278.4 641.0 277.6 646.3 276.5C651.6 275.3 656.0 274.3 655.6 274.5C655.1 274.6 640.2 276.7 644.9 276.9C649.6 277.0 655.9 276.0 669.8 274.9C683.6 273.8 675.3 273.3 686.4 273.6C697.4 273.8 691.9 274.6 703.0 275.7C714.0 276.8 708.5 277.0 719.6 276.9C730.6 276.7 728.4 276.7 736.1 275.2C743.9 273.7 737.3 273.9 742.8 272.4C748.3 270.9 744.4 271.2 752.7 270.6C761.0 270.0 762.7 265.0 767.7 270.6C772.6 276.2 772.6 281.7 767.7 287.3C762.7 292.9 763.2 287.2 752.7 287.3C742.2 287.5 747.2 287.6 736.1 287.8C725.1 288.1 730.6 288.5 719.6 288.2C708.5 287.8 714.0 287.9 703.0 286.8C691.9 285.7 697.4 286.3 686.4 284.8C675.3 283.3 680.8 283.5 669.8 282.4C658.7 281.2 661.0 281.9 653.2 281.5C645.4 281.1 650.8 281.7 646.3 281.1C641.8 280.5 646.3 280.4 639.6 279.8C633.0 279.1 635.2 279.3 626.4 279.1C617.5 278.9 620.6 279.3 613.1 279.1C605.6 278.9 601.6 279.1 603.8 278.4Z"/>
<path fill="#8cff00" stroke="#8cff00" stroke-width="5.3" stroke-linejoin="round" d="M130.0 271.1C136.3 270.2 138.8 270.8 148.8 271.1C158.8 271.3 160.1 271.2 160.1 271.8C160.1 272.4 158.8 272.4 148.8 272.9C138.8 273.5 136.3 274.1 130.0 273.5C123.7 272.9 123.7 271.9 130.0 271.1Z"/>
<path fill="#8cff00" stroke="#8cff00" stroke-width="5.3" stroke-linejoin="round" d="M130.0 281.0C136.3 279.0 139.4 281.5 148.8 282.3C158.2 283.2 152.9 282.8 158.2 283.5C163.5 284.2 164.8 283.5 164.8 284.4C164.8 285.3 163.5 285.0 158.2 286.1C152.9 287.2 158.2 286.8 148.8 287.6C139.4 288.4 136.3 290.7 130.0 288.5C123.7 286.4 123.7 283.1 130.0 281.0Z"/>
<path fill="#ffff00" stroke="#ffff00" stroke-width="5.0" stroke-linejoin="round" d="M135.0 200.0C137.7 198.2 136.3 198.5 143.0 196.6C149.6 194.7 145.6 195.6 154.9 194.2C164.2 192.8 160.2 193.4 170.8 192.4C181.5 191.4 176.2 191.9 186.8 191.2C197.4 190.6 193.4 190.7 202.7 190.4C212.0 190.2 208.0 190.1 214.6 190.4C221.3 190.8 219.2 190.6 222.6 191.4C226.1 192.2 227.7 191.7 225.0 192.8C222.3 194.0 222.7 193.6 214.6 194.8C206.6 196.0 210.7 195.4 200.7 196.4C190.8 197.4 195.4 196.9 184.8 197.8C174.2 198.7 178.8 198.3 168.9 199.2C158.9 200.1 163.5 199.7 154.9 200.4C146.3 201.1 149.6 200.9 143.0 201.4C136.3 201.9 137.7 202.5 135.0 202.0C132.3 201.5 132.3 201.8 135.0 200.0Z"/>
<path fill="#00ffff" stroke="#00ffff" stroke-width="5.0" stroke-linejoin="round" d="M135.0 203.8C141.6 202.2 141.6 203.4 154.9 202.4C168.2 201.4 161.5 201.9 174.8 200.8C188.1 199.7 181.5 200.2 194.7 199.2C208.0 198.2 201.4 198.7 214.6 197.8C227.9 196.9 221.3 197.2 234.6 196.4C247.8 195.6 241.2 196.1 254.5 195.4C267.7 194.8 261.1 194.8 274.4 194.4C287.7 194.1 285.8 194.1 294.3 194.4C302.8 194.7 291.4 194.9 300.0 195.4C308.6 195.9 308.9 195.4 320.0 195.9C331.0 196.4 325.5 195.8 333.3 197.0C341.0 198.1 341.0 198.4 343.2 199.4C345.5 200.3 345.5 199.3 339.9 199.9C334.4 200.5 335.5 200.2 326.6 201.2C317.7 202.3 322.2 201.9 313.3 203.1C304.4 204.2 306.3 204.3 300.0 204.7C293.7 205.1 302.8 204.0 294.3 204.4C285.8 204.7 287.7 205.1 274.4 205.8C261.1 206.4 267.7 206.2 254.5 206.4C241.2 206.6 247.8 206.2 234.6 206.4C221.3 206.5 227.9 206.5 214.6 206.8C201.4 207.0 208.0 207.0 194.7 207.2C181.5 207.3 188.1 207.2 174.8 207.2C161.5 207.2 168.2 207.2 154.9 207.2C141.6 207.2 141.6 208.3 135.0 207.2C128.4 206.0 128.4 205.4 135.0 203.8Z"/>
<path fill="#00ffff" stroke="#00ffff" stroke-width="5.0" stroke-linejoin="round" d="M363.9 197.6C367.4 196.4 367.8 196.6 379.8 195.1C391.8 193.6 386.4 194.4 399.8 193.1C413.2 191.8 413.7 191.5 420.0 191.1C426.3 190.8 412.4 192.2 418.5 192.0C424.7 191.9 429.0 190.8 438.5 190.6C447.9 190.5 446.8 190.5 446.8 191.6C446.8 192.8 447.9 192.6 438.5 194.0C429.0 195.4 424.7 194.7 418.5 195.8C412.4 197.0 426.3 196.7 420.0 197.5C413.7 198.3 413.2 197.8 399.8 198.3C386.4 198.8 390.0 198.7 379.8 199.0C369.6 199.2 374.5 199.4 369.2 199.0C363.9 198.5 360.3 198.9 363.9 197.6Z"/>
<path fill="#ffff00" stroke="#ffff00" stroke-width="7.0" stroke-linejoin="round" d="M344.6 203.8C346.8 202.8 348.1 202.8 359.9 201.9C371.6 201.0 366.5 201.5 379.8 201.0C393.1 200.4 386.4 201.0 399.8 200.2C413.2 199.4 408.4 199.4 420.0 198.6C431.6 197.8 423.0 199.1 434.5 197.8C445.9 196.6 441.1 196.5 454.4 194.8C467.7 193.2 460.8 193.5 474.3 192.8C487.8 192.2 481.5 192.5 495.0 192.8C508.5 193.2 498.3 193.3 514.9 193.8C531.5 194.4 524.9 194.4 544.8 194.4C564.7 194.4 556.7 194.0 574.6 193.8C592.6 193.6 585.3 193.5 598.5 193.8C611.8 194.2 607.2 193.5 614.5 194.8C621.8 196.2 619.1 195.5 620.4 197.8C621.8 200.1 621.8 199.8 618.5 201.8C615.1 203.8 618.5 202.9 610.5 203.8C602.5 204.6 606.5 204.2 594.6 204.4C582.6 204.6 591.2 204.4 574.6 204.4C558.1 204.4 564.7 204.7 544.8 204.4C524.9 204.1 531.5 203.9 514.9 203.4C498.3 202.9 508.5 202.7 495.0 202.8C481.5 202.9 487.8 203.1 474.3 203.8C460.8 204.4 467.7 204.2 454.4 204.8C441.1 205.4 445.9 204.9 434.5 205.6C423.0 206.2 431.6 206.3 420.0 206.7C408.4 207.1 413.2 206.7 399.8 206.7C386.4 206.6 391.8 206.8 379.8 206.6C367.8 206.3 372.7 206.5 363.9 205.9C355.0 205.3 359.6 205.4 353.2 204.7C346.8 204.0 342.3 204.7 344.6 203.8Z"/>
<path fill="#00ffff" stroke="#00ffff" stroke-width="5.0" stroke-linejoin="round" d="M634.9 200.8C635.6 198.9 636.3 198.9 641.9 196.8C647.5 194.7 642.6 195.6 651.9 194.4C661.2 193.3 653.9 193.9 669.8 193.4C685.7 193.0 679.7 193.2 699.6 193.0C719.6 192.9 712.9 193.0 729.5 193.0C746.1 193.0 739.1 192.8 749.4 193.0C759.7 193.3 757.1 192.7 760.4 193.8C763.7 195.0 763.0 194.5 759.4 196.4C755.7 198.3 759.4 197.8 749.4 199.6C739.5 201.4 746.1 200.7 729.5 201.8C712.9 202.9 719.6 202.4 699.6 203.0C679.7 203.6 686.4 203.5 669.8 203.6C653.2 203.7 659.8 203.7 649.9 203.4C639.9 203.1 644.9 203.5 639.9 202.6C634.9 201.7 634.3 202.7 634.9 200.8Z"/>
<path fill="#ffff00" stroke="#ffff00" stroke-width="5.0" stroke-linejoin="round" d="M135.0 227.1C141.6 223.8 141.6 227.2 154.9 227.1C168.2 227.0 166.5 226.9 174.8 226.7C183.2 226.5 172.7 227.1 180.0 226.5C187.3 225.9 187.4 225.5 196.6 224.9C205.8 224.2 198.4 224.8 207.7 224.6C216.9 224.5 217.6 225.0 224.2 224.3C230.9 223.7 224.6 224.1 227.6 222.7C230.5 221.2 228.3 221.7 233.1 219.9C237.9 218.0 235.7 218.4 241.9 217.1C248.2 215.8 243.1 216.4 251.9 216.0C260.8 215.6 259.1 215.8 268.5 216.0C277.9 216.2 272.7 216.5 280.0 216.6C287.3 216.7 282.2 216.1 290.3 216.3C298.4 216.6 296.0 216.8 304.3 217.3C312.5 217.9 308.4 217.5 315.0 217.9C321.6 218.4 320.6 218.1 324.0 218.7C327.3 219.4 327.9 218.7 325.0 219.9C322.0 221.1 321.9 220.9 315.0 222.3C308.1 223.7 312.5 223.0 304.3 224.1C296.0 225.2 298.4 224.7 290.3 225.7C282.2 226.7 287.3 225.9 280.0 227.1C272.7 228.3 276.8 227.9 268.5 229.3C260.2 230.7 261.9 230.0 255.2 231.3C248.6 232.6 253.0 231.9 248.6 233.2C244.2 234.4 248.2 234.0 241.9 235.0C235.7 236.0 239.4 235.7 229.8 236.2C220.2 236.6 229.8 236.3 213.2 236.5C196.6 236.7 192.8 236.6 180.0 236.8C167.2 237.0 183.2 237.0 174.8 237.0C166.5 237.1 168.2 237.0 154.9 237.0C141.6 237.0 141.6 240.4 135.0 237.0C128.4 233.7 128.4 230.4 135.0 227.1Z"/>
<path fill="#00ffff" stroke="#00ffff" stroke-width="5.0" stroke-linejoin="round" d="M135.0 238.6C148.3 234.5 148.3 238.7 174.8 238.4C201.4 238.2 194.7 238.2 214.6 237.8C234.6 237.4 223.9 237.8 234.6 237.2C245.2 236.7 239.9 237.3 246.5 236.2C253.1 235.2 249.2 235.6 254.5 234.1C259.8 232.5 255.8 233.2 262.4 231.7C269.1 230.1 265.1 231.0 274.4 229.5C283.7 227.9 280.4 228.4 290.3 227.1C300.3 225.8 296.0 226.4 304.3 225.5C312.5 224.6 304.8 225.2 315.0 224.3C325.2 223.4 321.6 223.6 334.9 222.7C348.2 221.8 341.5 222.0 354.8 221.7C368.1 221.4 362.8 221.7 374.7 221.7C386.7 221.7 381.4 222.8 390.7 221.7C400.0 220.6 394.6 220.6 402.6 218.3C410.6 216.0 406.6 216.7 414.6 214.7C422.5 212.7 417.2 213.7 426.5 212.3C435.8 211.0 431.8 211.4 442.4 210.8C453.1 210.1 447.7 210.4 458.4 210.4C469.0 210.4 462.1 210.0 474.3 210.8C486.5 211.5 486.1 211.7 495.0 212.5C503.9 213.4 497.0 212.3 501.0 213.3C505.0 214.4 503.6 213.8 506.9 215.7C510.3 217.7 508.9 216.9 510.9 219.1C512.9 221.3 512.9 220.1 512.9 222.3C512.9 224.5 513.3 223.4 510.9 225.7C508.6 227.9 509.6 227.2 506.0 229.1C502.3 230.9 503.6 230.3 500.0 231.3C496.3 232.2 500.2 231.7 495.0 231.9C489.8 232.0 491.2 231.4 484.3 231.7C477.4 231.9 481.6 232.0 474.3 232.7C467.0 233.3 469.0 233.5 462.4 233.7C455.7 233.8 459.0 233.7 454.4 233.1C449.7 232.4 453.7 232.5 448.4 231.7C443.1 230.9 444.4 230.7 438.5 230.7C432.5 230.7 435.1 230.3 430.5 231.7C425.8 233.0 429.8 233.1 424.5 234.6C419.2 236.2 424.5 235.6 414.6 236.2C404.6 236.9 407.9 236.5 394.6 236.6C381.4 236.8 388.0 236.8 374.7 236.6C361.5 236.5 368.1 236.4 354.8 236.2C341.5 236.0 348.2 235.9 334.9 236.0C321.6 236.2 325.2 236.0 315.0 236.6C304.8 237.2 312.5 237.0 304.3 237.8C296.0 238.6 300.3 238.1 290.3 239.0C280.4 240.0 283.0 239.4 274.4 240.6C265.8 241.8 271.1 241.0 264.4 242.6C257.8 244.3 260.4 243.7 254.5 245.6C248.5 247.5 251.2 246.9 246.5 248.2C241.9 249.5 247.8 249.0 240.5 249.6C233.2 250.2 239.9 249.8 224.6 250.0C209.3 250.2 214.6 250.0 194.7 250.2C174.8 250.4 184.8 250.3 164.9 250.6C145.0 250.8 145.0 255.0 135.0 251.0C125.0 247.0 121.7 242.8 135.0 238.6Z"/>
<path fill="#00ffff" stroke="#00ffff" stroke-width="5.0" stroke-linejoin="round" d="M534.8 232.7C535.5 230.8 538.1 231.1 546.8 227.7C555.4 224.2 551.4 225.4 560.7 222.3C570.0 219.2 565.4 219.8 574.6 218.3C583.9 216.8 581.3 217.3 588.6 217.7C595.9 218.2 590.6 217.4 596.6 219.7C602.5 222.0 599.9 221.6 606.5 224.7C613.1 227.8 611.2 226.6 616.5 229.1C621.8 231.6 623.1 230.9 622.4 232.3C621.8 233.7 630.4 232.9 614.5 233.3C598.5 233.6 597.9 233.3 574.6 233.3C551.4 233.3 558.1 233.5 544.8 233.3C531.5 233.1 534.2 234.5 534.8 232.7Z"/>
<path fill="#ffff00" stroke="#ffff00" stroke-width="8.5" stroke-linejoin="round" d="M616.5 222.7C617.1 220.0 617.1 221.4 624.4 218.7C631.7 216.1 628.4 216.9 638.4 214.7C648.3 212.6 645.8 213.2 654.3 212.3C662.8 211.5 653.3 212.2 663.8 212.1C674.3 212.1 674.8 211.9 685.7 212.1C696.7 212.4 688.7 212.1 696.7 212.9C704.6 213.7 700.6 213.3 709.6 214.5C718.6 215.7 714.6 214.9 723.5 216.5C732.5 218.1 727.9 217.5 736.5 219.3C745.1 221.1 739.7 219.9 749.4 221.9C759.2 223.9 758.5 223.8 765.8 225.3C773.1 226.8 769.5 223.2 771.3 226.3C773.2 229.4 778.6 232.2 771.3 234.6C764.0 237.1 763.4 234.1 749.4 233.7C735.5 233.2 746.1 233.5 729.5 233.3C712.9 233.1 719.6 233.1 699.6 233.1C679.7 233.0 686.4 233.2 669.8 233.1C653.2 232.9 655.0 232.7 649.9 232.7C644.7 232.7 658.1 233.1 654.3 233.1C650.5 233.1 646.3 233.5 638.4 232.7C630.4 231.9 635.7 232.7 630.4 230.7C625.1 228.7 627.1 229.3 622.4 226.7C617.8 224.0 615.8 225.4 616.5 222.7Z"/>
<path fill="#ffff00" stroke="#ffff00" stroke-width="5.0" stroke-linejoin="round" d="M135.0 252.0C146.6 248.4 145.0 251.8 164.9 251.6C184.8 251.3 174.8 251.4 194.7 251.2C214.6 251.0 209.3 251.2 224.6 251.0C239.9 250.8 232.6 251.2 240.5 250.6C248.5 249.9 243.9 250.0 248.5 249.0C253.1 248.0 249.8 249.1 254.5 247.6C259.1 246.1 255.8 246.3 262.4 244.6C269.1 242.9 265.1 243.8 274.4 242.6C283.7 241.4 280.4 242.0 290.3 241.0C300.3 240.0 296.0 240.6 304.3 239.6C312.5 238.6 298.1 238.7 315.0 238.0C331.9 237.4 328.3 237.6 354.8 237.6C381.4 237.6 373.4 238.2 394.6 238.0C415.9 237.8 407.9 238.2 418.5 237.0C429.2 235.9 421.2 236.0 426.5 234.6C431.8 233.3 427.8 233.6 434.5 233.1C441.1 232.5 439.8 232.5 446.4 233.1C453.1 233.6 445.1 234.1 454.4 234.6C463.7 235.2 460.8 234.6 474.3 234.6C487.8 234.6 474.8 234.6 495.0 234.6C515.2 234.6 508.3 234.8 534.8 234.6C561.4 234.5 548.1 234.5 574.6 234.3C601.2 234.1 595.9 233.9 614.5 234.1C633.1 234.2 627.7 233.7 630.4 234.6C633.1 235.6 629.1 235.4 622.4 237.0C615.8 238.7 617.1 237.9 610.5 239.6C603.9 241.4 609.8 240.9 602.5 242.2C595.2 243.5 597.9 242.9 588.6 243.6C579.3 244.3 589.3 243.5 574.6 244.2C560.0 244.9 561.4 244.8 544.8 245.6C528.2 246.4 536.2 245.6 524.9 246.6C513.6 247.6 520.9 247.4 510.9 248.6C501.0 249.8 507.2 249.8 495.0 250.2C482.8 250.6 487.8 249.8 474.3 249.8C460.8 249.8 467.7 249.9 454.4 250.2C441.1 250.4 447.7 250.6 434.5 250.6C421.2 250.6 427.8 250.3 414.6 250.2C401.3 250.0 407.9 250.4 394.6 250.2C381.4 250.0 388.0 250.0 374.7 249.6C361.5 249.2 366.8 249.3 354.8 249.0C342.9 248.7 348.2 248.5 338.9 248.6C329.6 248.7 334.9 248.9 326.9 249.2C319.0 249.5 322.6 249.3 315.0 249.4C307.4 249.5 312.5 249.5 304.3 249.4C296.0 249.3 298.9 249.1 290.3 249.2C281.7 249.3 285.0 249.3 278.4 249.8C271.7 250.2 275.7 250.0 270.4 250.6C265.1 251.1 264.4 250.4 262.4 251.4C260.4 252.3 260.4 252.6 264.4 253.4C268.4 254.1 267.1 253.4 274.4 253.6C281.7 253.8 278.4 253.4 286.3 254.0C294.3 254.5 291.0 254.1 298.3 255.2C305.6 256.2 307.7 255.9 308.2 257.2C308.8 258.4 295.2 258.4 300.0 259.0C304.8 259.7 306.9 258.8 322.6 259.0C338.2 259.3 329.5 259.0 347.0 259.8C364.6 260.5 355.8 260.2 375.2 261.3C394.6 262.4 386.5 262.4 405.3 263.2C424.1 263.9 410.1 263.1 431.6 263.5C453.2 264.0 440.6 264.6 470.0 264.6C499.4 264.6 492.1 264.3 519.8 263.6C547.4 262.9 530.7 262.6 553.0 262.4C575.2 262.3 570.9 262.5 586.5 263.2C602.2 263.9 591.0 263.6 599.8 264.5C608.7 265.4 605.6 264.8 613.1 265.8C620.6 266.9 622.4 266.7 622.4 267.6C622.4 268.4 620.6 267.7 613.1 268.5C605.6 269.2 608.7 268.9 599.8 269.8C591.0 270.7 595.4 270.3 586.5 271.1C577.7 272.0 588.3 271.2 573.3 272.5C558.2 273.7 564.7 274.1 541.3 274.9C518.0 275.7 527.0 274.8 503.2 274.9C479.4 275.0 490.1 275.5 470.0 275.2C449.9 274.9 462.0 274.3 442.9 274.1C423.9 273.8 429.1 274.6 412.8 274.4C396.5 274.3 404.7 274.4 394.0 273.5C383.4 272.6 390.3 273.2 380.9 271.6C371.5 270.1 377.1 270.4 365.8 268.8C354.5 267.2 359.5 267.7 347.0 266.9C334.5 266.1 343.9 266.7 328.2 266.4C312.5 266.0 315.9 266.4 300.0 266.0C284.1 265.5 299.5 265.9 280.4 265.0C261.4 264.2 267.9 264.2 242.8 263.5C217.8 262.9 230.3 263.4 205.2 263.2C180.1 262.9 192.7 263.1 167.6 262.8C142.5 262.5 140.9 265.8 130.0 262.2C119.1 258.6 123.4 255.5 135.0 252.0Z"/>
<path fill="#00ffff" stroke="#00ffff" stroke-width="5.0" stroke-linejoin="round" d="M315.0 255.8C320.1 253.9 317.6 253.9 337.6 252.3C357.7 250.6 350.1 251.4 375.2 250.9C400.3 250.5 351.2 251.5 412.8 250.9C474.4 250.4 506.5 250.0 560.0 249.2C613.5 248.5 564.4 248.4 573.3 248.6C582.1 248.8 578.6 248.8 586.5 249.9C594.5 251.0 592.7 250.9 597.2 251.9C601.6 252.9 601.2 251.9 599.8 253.0C598.5 254.1 599.8 253.6 593.2 255.2C586.5 256.9 588.8 256.3 579.9 257.9C571.1 259.4 575.6 258.9 566.6 259.9C557.7 260.8 568.6 260.1 553.0 260.8C537.3 261.5 547.4 261.4 519.8 261.9C492.1 262.5 499.4 262.4 470.0 262.4C440.6 262.5 453.2 262.5 431.6 262.2C410.1 262.0 424.1 262.5 405.3 261.7C386.5 260.8 394.6 260.8 375.2 259.8C355.8 258.7 364.6 259.1 347.0 258.5C329.5 257.8 333.2 258.8 322.6 257.9C311.9 257.0 310.0 257.7 315.0 255.8Z"/>
<path fill="#00ffff" stroke="#00ffff" stroke-width="5.0" stroke-linejoin="round" d="M130.0 264.1C148.8 262.4 148.8 264.4 186.4 264.7C224.0 265.0 205.0 264.2 242.8 265.0C280.7 265.9 271.5 266.5 300.0 267.3C328.5 268.1 312.5 267.2 328.2 267.5C343.9 267.7 334.5 267.2 347.0 268.1C359.5 268.9 354.8 268.2 365.8 270.1C376.8 272.1 376.8 272.3 379.9 273.9C383.1 275.5 383.1 274.7 375.2 275.0C367.4 275.3 381.5 274.9 356.4 274.8C331.3 274.8 337.9 274.9 300.0 274.8C262.1 274.7 268.2 274.9 242.8 274.4C217.5 274.0 236.6 274.4 224.0 273.5C211.5 272.6 217.8 272.7 205.2 271.6C192.7 270.6 202.1 270.9 186.4 270.3C170.7 269.7 177.0 269.9 158.2 269.7C139.4 269.6 139.4 271.6 130.0 269.7C120.6 267.9 111.2 265.8 130.0 264.1Z"/>
<path fill="#00ffff" stroke="#00ffff" stroke-width="5.0" stroke-linejoin="round" d="M611.1 243.7C613.3 240.8 612.4 241.4 619.7 239.3C627.0 237.2 621.9 238.4 633.0 237.3C644.1 236.2 650.6 236.5 652.9 236.0C655.2 235.4 631.0 236.1 639.9 235.6C648.8 235.2 647.9 235.0 679.7 234.6C711.6 234.3 714.9 234.0 735.5 234.6C756.1 235.3 737.5 235.3 741.5 236.6C745.4 238.0 741.5 238.0 747.4 238.6C753.4 239.3 751.4 238.8 759.4 238.6C767.4 238.5 767.4 234.4 771.3 238.2C775.3 242.1 782.0 246.2 771.3 250.2C760.7 254.2 763.4 250.6 739.5 250.2C715.6 249.8 722.9 249.5 699.6 249.0C676.4 248.5 689.7 248.4 669.8 248.6C649.9 248.8 645.5 249.1 639.9 249.6C634.3 250.0 655.2 249.6 652.9 249.9C650.6 250.2 644.1 250.4 633.0 250.6C621.9 250.7 626.4 251.2 619.7 250.3C613.1 249.4 616.0 250.1 613.1 247.9C610.2 245.7 608.9 246.5 611.1 243.7Z"/>
<path fill="#ffff00" stroke="#ffff00" stroke-width="5.0" stroke-linejoin="round" d="M613.1 256.7C613.1 254.9 613.1 254.8 619.7 253.2C626.4 251.6 621.9 252.6 633.0 251.9C644.1 251.2 650.6 251.3 652.9 251.2C655.2 251.1 634.3 251.9 639.9 251.6C645.5 251.2 649.9 250.5 669.8 250.2C689.7 249.8 676.4 250.1 699.6 250.6C722.9 251.0 715.6 251.2 739.5 251.6C763.4 251.9 760.7 248.6 771.3 251.6C782.0 254.6 782.0 257.5 771.3 260.5C760.7 263.5 763.4 260.7 739.5 260.5C715.6 260.4 722.9 260.5 699.6 260.1C676.4 259.8 689.7 260.1 669.8 259.5C649.9 259.0 645.5 258.4 639.9 258.5C634.3 258.7 655.2 259.6 652.9 259.9C650.6 260.1 644.1 259.6 633.0 259.2C621.9 258.8 626.4 259.4 619.7 258.5C613.1 257.7 613.1 258.4 613.1 256.7Z"/>
<path fill="#00ffff" stroke="#00ffff" stroke-width="5.0" stroke-linejoin="round" d="M605.1 261.2C608.2 260.1 608.2 260.6 619.7 260.5C631.2 260.4 639.6 260.8 639.6 260.9C639.7 261.0 604.4 260.7 620.0 260.8C635.6 260.9 637.1 261.0 686.4 261.3C735.6 261.6 740.6 259.0 767.7 261.6C794.8 264.3 773.8 266.7 767.7 269.2C761.6 271.8 758.8 268.9 749.4 269.2C740.0 269.6 744.4 269.2 739.5 270.2C734.5 271.3 740.0 271.0 734.5 272.4C729.0 273.8 730.1 273.7 722.9 274.6C715.7 275.4 719.6 275.2 712.9 274.9C706.3 274.6 711.8 274.7 703.0 273.6C694.1 272.5 697.4 271.7 686.4 271.6C675.3 271.5 675.2 273.6 669.8 273.2C664.4 272.9 671.4 272.1 670.2 270.5C669.0 268.9 670.2 269.4 666.2 268.5C662.2 267.6 662.7 267.2 658.2 267.8C653.8 268.5 657.3 269.2 652.9 270.5C648.5 271.8 650.3 272.0 645.0 271.8C639.6 271.6 642.3 270.9 637.0 269.8C631.7 268.7 635.2 269.6 629.0 268.5C622.8 267.4 624.6 268.0 618.4 266.5C612.2 264.9 614.9 265.6 610.4 263.8C606.0 262.1 602.0 262.3 605.1 261.2Z"/>
<path fill="#ffff00" stroke="#ffff00" stroke-width="5.0" stroke-linejoin="round" d="M603.8 278.4C606.0 277.8 612.2 278.5 619.7 277.1C627.3 275.7 621.5 275.0 626.4 274.2C631.2 273.4 629.9 273.5 634.3 274.7C638.8 275.9 635.7 277.2 639.6 277.8C643.6 278.4 641.0 277.6 646.3 276.5C651.6 275.3 656.0 274.3 655.6 274.5C655.1 274.6 640.2 276.7 644.9 276.9C649.6 277.0 655.9 276.0 669.8 274.9C683.6 273.8 675.3 273.3 686.4 273.6C697.4 273.8 691.9 274.6 703.0 275.7C714.0 276.8 708.5 277.0 719.6 276.9C730.6 276.7 728.4 276.7 736.1 275.2C743.9 273.7 737.3 273.9 742.8 272.4C748.3 270.9 744.4 271.2 752.7 270.6C761.0 270.0 762.7 265.0 767.7 270.6C772.6 276.2 772.6 281.7 767.7 287.3C762.7 292.9 763.2 287.2 752.7 287.3C742.2 287.5 747.2 287.6 736.1 287.8C725.1 288.1 730.6 288.5 719.6 288.2C708.5 287.8 714.0 287.9 703.0 286.8C691.9 285.7 697.4 286.3 686.4 284.8C675.3 283.3 680.8 283.5 669.8 282.4C658.7 281.2 661.0 281.9 653.2 281.5C645.4 281.1 650.8 281.7 646.3 281.1C641.8 280.5 646.3 280.4 639.6 279.8C633.0 279.1 635.2 279.3 626.4 279.1C617.5 278.9 620.6 279.3 613.1 279.1C605.6 278.9 601.6 279.1 603.8 278.4Z"/>
<path fill="#ffff00" stroke="#ffff00" stroke-width="4.0" stroke-linejoin="round" d="M130.0 271.1C136.3 270.2 138.8 270.8 148.8 271.1C158.8 271.3 160.1 271.2 160.1 271.8C160.1 272.4 158.8 272.4 148.8 272.9C138.8 273.5 136.3 274.1 130.0 273.5C123.7 272.9 123.7 271.9 130.0 271.1Z"/>
<path fill="#ffff00" stroke="#ffff00" stroke-width="4.0" stroke-linejoin="round" d="M130.0 281.0C136.3 279.0 139.4 281.5 148.8 282.3C158.2 283.2 152.9 282.8 158.2 283.5C163.5 284.2 164.8 283.5 164.8 284.4C164.8 285.3 163.5 285.0 158.2 286.1C152.9 287.2 158.2 286.8 148.8 287.6C139.4 288.4 136.3 290.7 130.0 288.5C123.7 286.4 123.7 283.1 130.0 281.0Z"/>
<path fill="#0055ff" stroke="#0055ff" stroke-width="2.2" stroke-linejoin="round" d="M573.3 274.2C579.0 273.3 579.9 273.4 593.2 272.9C606.5 272.3 603.8 272.2 613.1 272.5C622.4 272.8 621.1 272.8 621.1 273.8C621.1 274.8 622.4 274.8 613.1 275.5C603.8 276.3 605.6 276.1 593.2 276.1C580.8 276.1 582.6 276.1 575.9 275.5C569.3 274.9 567.5 275.1 573.3 274.2Z"/>
<path fill="#ffaa00" stroke="#ffaa00" stroke-width="3.6" stroke-linejoin="round" d="M135.0 200.0C137.7 198.2 136.3 198.5 143.0 196.6C149.6 194.7 145.6 195.6 154.9 194.2C164.2 192.8 160.2 193.4 170.8 192.4C181.5 191.4 176.2 191.9 186.8 191.2C197.4 190.6 193.4 190.7 202.7 190.4C212.0 190.2 208.0 190.1 214.6 190.4C221.3 190.8 219.2 190.6 222.6 191.4C226.1 192.2 227.7 191.7 225.0 192.8C222.3 194.0 222.7 193.6 214.6 194.8C206.6 196.0 210.7 195.4 200.7 196.4C190.8 197.4 195.4 196.9 184.8 197.8C174.2 198.7 178.8 198.3 168.9 199.2C158.9 200.1 163.5 199.7 154.9 200.4C146.3 201.1 149.6 200.9 143.0 201.4C136.3 201.9 137.7 202.5 135.0 202.0C132.3 201.5 132.3 201.8 135.0 200.0Z"/>
<path fill="#0055ff" stroke="#0055ff" stroke-width="3.6" stroke-linejoin="round" d="M135.0 203.8C141.6 202.2 141.6 203.4 154.9 202.4C168.2 201.4 161.5 201.9 174.8 200.8C188.1 199.7 181.5 200.2 194.7 199.2C208.0 198.2 201.4 198.7 214.6 197.8C227.9 196.9 221.3 197.2 234.6 196.4C247.8 195.6 241.2 196.1 254.5 195.4C267.7 194.8 261.1 194.8 274.4 194.4C287.7 194.1 285.8 194.1 294.3 194.4C302.8 194.7 291.4 194.9 300.0 195.4C308.6 195.9 308.9 195.4 320.0 195.9C331.0 196.4 325.5 195.8 333.3 197.0C341.0 198.1 341.0 198.4 343.2 199.4C345.5 200.3 345.5 199.3 339.9 199.9C334.4 200.5 335.5 200.2 326.6 201.2C317.7 202.3 322.2 201.9 313.3 203.1C304.4 204.2 306.3 204.3 300.0 204.7C293.7 205.1 302.8 204.0 294.3 204.4C285.8 204.7 287.7 205.1 274.4 205.8C261.1 206.4 267.7 206.2 254.5 206.4C241.2 206.6 247.8 206.2 234.6 206.4C221.3 206.5 227.9 206.5 214.6 206.8C201.4 207.0 208.0 207.0 194.7 207.2C181.5 207.3 188.1 207.2 174.8 207.2C161.5 207.2 168.2 207.2 154.9 207.2C141.6 207.2 141.6 208.3 135.0 207.2C128.4 206.0 128.4 205.4 135.0 203.8Z"/>
<path fill="#0055ff" stroke="#0055ff" stroke-width="3.6" stroke-linejoin="round" d="M363.9 197.6C367.4 196.4 367.8 196.6 379.8 195.1C391.8 193.6 386.4 194.4 399.8 193.1C413.2 191.8 413.7 191.5 420.0 191.1C426.3 190.8 412.4 192.2 418.5 192.0C424.7 191.9 429.0 190.8 438.5 190.6C447.9 190.5 446.8 190.5 446.8 191.6C446.8 192.8 447.9 192.6 438.5 194.0C429.0 195.4 424.7 194.7 418.5 195.8C412.4 197.0 426.3 196.7 420.0 197.5C413.7 198.3 413.2 197.8 399.8 198.3C386.4 198.8 390.0 198.7 379.8 199.0C369.6 199.2 374.5 199.4 369.2 199.0C363.9 198.5 360.3 198.9 363.9 197.6Z"/>
<path fill="#ffaa00" stroke="#ffaa00" stroke-width="5.0" stroke-linejoin="round" d="M344.6 203.8C346.8 202.8 348.1 202.8 359.9 201.9C371.6 201.0 366.5 201.5 379.8 201.0C393.1 200.4 386.4 201.0 399.8 200.2C413.2 199.4 408.4 199.4 420.0 198.6C431.6 197.8 423.0 199.1 434.5 197.8C445.9 196.6 441.1 196.5 454.4 194.8C467.7 193.2 460.8 193.5 474.3 192.8C487.8 192.2 481.5 192.5 495.0 192.8C508.5 193.2 498.3 193.3 514.9 193.8C531.5 194.4 524.9 194.4 544.8 194.4C564.7 194.4 556.7 194.0 574.6 193.8C592.6 193.6 585.3 193.5 598.5 193.8C611.8 194.2 607.2 193.5 614.5 194.8C621.8 196.2 619.1 195.5 620.4 197.8C621.8 200.1 621.8 199.8 618.5 201.8C615.1 203.8 618.5 202.9 610.5 203.8C602.5 204.6 606.5 204.2 594.6 204.4C582.6 204.6 591.2 204.4 574.6 204.4C558.1 204.4 564.7 204.7 544.8 204.4C524.9 204.1 531.5 203.9 514.9 203.4C498.3 202.9 508.5 202.7 495.0 202.8C481.5 202.9 487.8 203.1 474.3 203.8C460.8 204.4 467.7 204.2 454.4 204.8C441.1 205.4 445.9 204.9 434.5 205.6C423.0 206.2 431.6 206.3 420.0 206.7C408.4 207.1 413.2 206.7 399.8 206.7C386.4 206.6 391.8 206.8 379.8 206.6C367.8 206.3 372.7 206.5 363.9 205.9C355.0 205.3 359.6 205.4 353.2 204.7C346.8 204.0 342.3 204.7 344.6 203.8Z"/>
<path fill="#0055ff" stroke="#0055ff" stroke-width="3.6" stroke-linejoin="round" d="M634.9 200.8C635.6 198.9 636.3 198.9 641.9 196.8C647.5 194.7 642.6 195.6 651.9 194.4C661.2 193.3 653.9 193.9 669.8 193.4C685.7 193.0 679.7 193.2 699.6 193.0C719.6 192.9 712.9 193.0 729.5 193.0C746.1 193.0 739.1 192.8 749.4 193.0C759.7 193.3 757.1 192.7 760.4 193.8C763.7 195.0 763.0 194.5 759.4 196.4C755.7 198.3 759.4 197.8 749.4 199.6C739.5 201.4 746.1 200.7 729.5 201.8C712.9 202.9 719.6 202.4 699.6 203.0C679.7 203.6 686.4 203.5 669.8 203.6C653.2 203.7 659.8 203.7 649.9 203.4C639.9 203.1 644.9 203.5 639.9 202.6C634.9 201.7 634.3 202.7 634.9 200.8Z"/>
<path fill="#ffaa00" stroke="#ffaa00" stroke-width="3.6" stroke-linejoin="round" d="M135.0 227.1C141.6 223.8 141.6 227.2 154.9 227.1C168.2 227.0 166.5 226.9 174.8 226.7C183.2 226.5 172.7 227.1 180.0 226.5C187.3 225.9 187.4 225.5 196.6 224.9C205.8 224.2 198.4 224.8 207.7 224.6C216.9 224.5 217.6 225.0 224.2 224.3C230.9 223.7 224.6 224.1 227.6 222.7C230.5 221.2 228.3 221.7 233.1 219.9C237.9 218.0 235.7 218.4 241.9 217.1C248.2 215.8 243.1 216.4 251.9 216.0C260.8 215.6 259.1 215.8 268.5 216.0C277.9 216.2 272.7 216.5 280.0 216.6C287.3 216.7 282.2 216.1 290.3 216.3C298.4 216.6 296.0 216.8 304.3 217.3C312.5 217.9 308.4 217.5 315.0 217.9C321.6 218.4 320.6 218.1 324.0 218.7C327.3 219.4 327.9 218.7 325.0 219.9C322.0 221.1 321.9 220.9 315.0 222.3C308.1 223.7 312.5 223.0 304.3 224.1C296.0 225.2 298.4 224.7 290.3 225.7C282.2 226.7 287.3 225.9 280.0 227.1C272.7 228.3 276.8 227.9 268.5 229.3C260.2 230.7 261.9 230.0 255.2 231.3C248.6 232.6 253.0 231.9 248.6 233.2C244.2 234.4 248.2 234.0 241.9 235.0C235.7 236.0 239.4 235.7 229.8 236.2C220.2 236.6 229.8 236.3 213.2 236.5C196.6 236.7 192.8 236.6 180.0 236.8C167.2 237.0 183.2 237.0 174.8 237.0C166.5 237.1 168.2 237.0 154.9 237.0C141.6 237.0 141.6 240.4 135.0 237.0C128.4 233.7 128.4 230.4 135.0 227.1Z"/>
<path fill="#0055ff" stroke="#0055ff" stroke-width="3.6" stroke-linejoin="round" d="M135.0 238.6C148.3 234.5 148.3 238.7 174.8 238.4C201.4 238.2 194.7 238.2 214.6 237.8C234.6 237.4 223.9 237.8 234.6 237.2C245.2 236.7 239.9 237.3 246.5 236.2C253.1 235.2 249.2 235.6 254.5 234.1C259.8 232.5 255.8 233.2 262.4 231.7C269.1 230.1 265.1 231.0 274.4 229.5C283.7 227.9 280.4 228.4 290.3 227.1C300.3 225.8 296.0 226.4 304.3 225.5C312.5 224.6 304.8 225.2 315.0 224.3C325.2 223.4 321.6 223.6 334.9 222.7C348.2 221.8 341.5 222.0 354.8 221.7C368.1 221.4 362.8 221.7 374.7 221.7C386.7 221.7 381.4 222.8 390.7 221.7C400.0 220.6 394.6 220.6 402.6 218.3C410.6 216.0 406.6 216.7 414.6 214.7C422.5 212.7 417.2 213.7 426.5 212.3C435.8 211.0 431.8 211.4 442.4 210.8C453.1 210.1 447.7 210.4 458.4 210.4C469.0 210.4 462.1 210.0 474.3 210.8C486.5 211.5 486.1 211.7 495.0 212.5C503.9 213.4 497.0 212.3 501.0 213.3C505.0 214.4 503.6 213.8 506.9 215.7C510.3 217.7 508.9 216.9 510.9 219.1C512.9 221.3 512.9 220.1 512.9 222.3C512.9 224.5 513.3 223.4 510.9 225.7C508.6 227.9 509.6 227.2 506.0 229.1C502.3 230.9 503.6 230.3 500.0 231.3C496.3 232.2 500.2 231.7 495.0 231.9C489.8 232.0 491.2 231.4 484.3 231.7C477.4 231.9 481.6 232.0 474.3 232.7C467.0 233.3 469.0 233.5 462.4 233.7C455.7 233.8 459.0 233.7 454.4 233.1C449.7 232.4 453.7 232.5 448.4 231.7C443.1 230.9 444.4 230.7 438.5 230.7C432.5 230.7 435.1 230.3 430.5 231.7C425.8 233.0 429.8 233.1 424.5 234.6C419.2 236.2 424.5 235.6 414.6 236.2C404.6 236.9 407.9 236.5 394.6 236.6C381.4 236.8 388.0 236.8 374.7 236.6C361.5 236.5 368.1 236.4 354.8 236.2C341.5 236.0 348.2 235.9 334.9 236.0C321.6 236.2 325.2 236.0 315.0 236.6C304.8 237.2 312.5 237.0 304.3 237.8C296.0 238.6 300.3 238.1 290.3 239.0C280.4 240.0 283.0 239.4 274.4 240.6C265.8 241.8 271.1 241.0 264.4 242.6C257.8 244.3 260.4 243.7 254.5 245.6C248.5 247.5 251.2 246.9 246.5 248.2C241.9 249.5 247.8 249.0 240.5 249.6C233.2 250.2 239.9 249.8 224.6 250.0C209.3 250.2 214.6 250.0 194.7 250.2C174.8 250.4 184.8 250.3 164.9 250.6C145.0 250.8 145.0 255.0 135.0 251.0C125.0 247.0 121.7 242.8 135.0 238.6Z"/>
<path fill="#0055ff" stroke="#0055ff" stroke-width="3.6" stroke-linejoin="round" d="M534.8 232.7C535.5 230.8 538.1 231.1 546.8 227.7C555.4 224.2 551.4 225.4 560.7 222.3C570.0 219.2 565.4 219.8 574.6 218.3C583.9 216.8 581.3 217.3 588.6 217.7C595.9 218.2 590.6 217.4 596.6 219.7C602.5 222.0 599.9 221.6 606.5 224.7C613.1 227.8 611.2 226.6 616.5 229.1C621.8 231.6 623.1 230.9 622.4 232.3C621.8 233.7 630.4 232.9 614.5 233.3C598.5 233.6 597.9 233.3 574.6 233.3C551.4 233.3 558.1 233.5 544.8 233.3C531.5 233.1 534.2 234.5 534.8 232.7Z"/>
<path fill="#ffaa00" stroke="#ffaa00" stroke-width="6.1" stroke-linejoin="round" d="M616.5 222.7C617.1 220.0 617.1 221.4 624.4 218.7C631.7 216.1 628.4 216.9 638.4 214.7C648.3 212.6 645.8 213.2 654.3 212.3C662.8 211.5 653.3 212.2 663.8 212.1C674.3 212.1 674.8 211.9 685.7 212.1C696.7 212.4 688.7 212.1 696.7 212.9C704.6 213.7 700.6 213.3 709.6 214.5C718.6 215.7 714.6 214.9 723.5 216.5C732.5 218.1 727.9 217.5 736.5 219.3C745.1 221.1 739.7 219.9 749.4 221.9C759.2 223.9 758.5 223.8 765.8 225.3C773.1 226.8 769.5 223.2 771.3 226.3C773.2 229.4 778.6 232.2 771.3 234.6C764.0 237.1 763.4 234.1 749.4 233.7C735.5 233.2 746.1 233.5 729.5 233.3C712.9 233.1 719.6 233.1 699.6 233.1C679.7 233.0 686.4 233.2 669.8 233.1C653.2 232.9 655.0 232.7 649.9 232.7C644.7 232.7 658.1 233.1 654.3 233.1C650.5 233.1 646.3 233.5 638.4 232.7C630.4 231.9 635.7 232.7 630.4 230.7C625.1 228.7 627.1 229.3 622.4 226.7C617.8 224.0 615.8 225.4 616.5 222.7Z"/>
<path fill="#ffaa00" stroke="#ffaa00" stroke-width="3.6" stroke-linejoin="round" d="M135.0 252.0C146.6 248.4 145.0 251.8 164.9 251.6C184.8 251.3 174.8 251.4 194.7 251.2C214.6 251.0 209.3 251.2 224.6 251.0C239.9 250.8 232.6 251.2 240.5 250.6C248.5 249.9 243.9 250.0 248.5 249.0C253.1 248.0 249.8 249.1 254.5 247.6C259.1 246.1 255.8 246.3 262.4 244.6C269.1 242.9 265.1 243.8 274.4 242.6C283.7 241.4 280.4 242.0 290.3 241.0C300.3 240.0 296.0 240.6 304.3 239.6C312.5 238.6 298.1 238.7 315.0 238.0C331.9 237.4 328.3 237.6 354.8 237.6C381.4 237.6 373.4 238.2 394.6 238.0C415.9 237.8 407.9 238.2 418.5 237.0C429.2 235.9 421.2 236.0 426.5 234.6C431.8 233.3 427.8 233.6 434.5 233.1C441.1 232.5 439.8 232.5 446.4 233.1C453.1 233.6 445.1 234.1 454.4 234.6C463.7 235.2 460.8 234.6 474.3 234.6C487.8 234.6 474.8 234.6 495.0 234.6C515.2 234.6 508.3 234.8 534.8 234.6C561.4 234.5 548.1 234.5 574.6 234.3C601.2 234.1 595.9 233.9 614.5 234.1C633.1 234.2 627.7 233.7 630.4 234.6C633.1 235.6 629.1 235.4 622.4 237.0C615.8 238.7 617.1 237.9 610.5 239.6C603.9 241.4 609.8 240.9 602.5 242.2C595.2 243.5 597.9 242.9 588.6 243.6C579.3 244.3 589.3 243.5 574.6 244.2C560.0 244.9 561.4 244.8 544.8 245.6C528.2 246.4 536.2 245.6 524.9 246.6C513.6 247.6 520.9 247.4 510.9 248.6C501.0 249.8 507.2 249.8 495.0 250.2C482.8 250.6 487.8 249.8 474.3 249.8C460.8 249.8 467.7 249.9 454.4 250.2C441.1 250.4 447.7 250.6 434.5 250.6C421.2 250.6 427.8 250.3 414.6 250.2C401.3 250.0 407.9 250.4 394.6 250.2C381.4 250.0 388.0 250.0 374.7 249.6C361.5 249.2 366.8 249.3 354.8 249.0C342.9 248.7 348.2 248.5 338.9 248.6C329.6 248.7 334.9 248.9 326.9 249.2C319.0 249.5 322.6 249.3 315.0 249.4C307.4 249.5 312.5 249.5 304.3 249.4C296.0 249.3 298.9 249.1 290.3 249.2C281.7 249.3 285.0 249.3 278.4 249.8C271.7 250.2 275.7 250.0 270.4 250.6C265.1 251.1 264.4 250.4 262.4 251.4C260.4 252.3 260.4 252.6 264.4 253.4C268.4 254.1 267.1 253.4 274.4 253.6C281.7 253.8 278.4 253.4 286.3 254.0C294.3 254.5 291.0 254.1 298.3 255.2C305.6 256.2 307.7 255.9 308.2 257.2C308.8 258.4 295.2 258.4 300.0 259.0C304.8 259.7 306.9 258.8 322.6 259.0C338.2 259.3 329.5 259.0 347.0 259.8C364.6 260.5 355.8 260.2 375.2 261.3C394.6 262.4 386.5 262.4 405.3 263.2C424.1 263.9 410.1 263.1 431.6 263.5C453.2 264.0 440.6 264.6 470.0 264.6C499.4 264.6 492.1 264.3 519.8 263.6C547.4 262.9 530.7 262.6 553.0 262.4C575.2 262.3 570.9 262.5 586.5 263.2C602.2 263.9 591.0 263.6 599.8 264.5C608.7 265.4 605.6 264.8 613.1 265.8C620.6 266.9 622.4 266.7 622.4 267.6C622.4 268.4 620.6 267.7 613.1 268.5C605.6 269.2 608.7 268.9 599.8 269.8C591.0 270.7 595.4 270.3 586.5 271.1C577.7 272.0 588.3 271.2 573.3 272.5C558.2 273.7 564.7 274.1 541.3 274.9C518.0 275.7 527.0 274.8 503.2 274.9C479.4 275.0 490.1 275.5 470.0 275.2C449.9 274.9 462.0 274.3 442.9 274.1C423.9 273.8 429.1 274.6 412.8 274.4C396.5 274.3 404.7 274.4 394.0 273.5C383.4 272.6 390.3 273.2 380.9 271.6C371.5 270.1 377.1 270.4 365.8 268.8C354.5 267.2 359.5 267.7 347.0 266.9C334.5 266.1 343.9 266.7 328.2 266.4C312.5 266.0 315.9 266.4 300.0 266.0C284.1 265.5 299.5 265.9 280.4 265.0C261.4 264.2 267.9 264.2 242.8 263.5C217.8 262.9 230.3 263.4 205.2 263.2C180.1 262.9 192.7 263.1 167.6 262.8C142.5 262.5 140.9 265.8 130.0 262.2C119.1 258.6 123.4 255.5 135.0 252.0Z"/>
<path fill="#0055ff" stroke="#0055ff" stroke-width="3.6" stroke-linejoin="round" d="M315.0 255.8C320.1 253.9 317.6 253.9 337.6 252.3C357.7 250.6 350.1 251.4 375.2 250.9C400.3 250.5 351.2 251.5 412.8 250.9C474.4 250.4 506.5 250.0 560.0 249.2C613.5 248.5 564.4 248.4 573.3 248.6C582.1 248.8 578.6 248.8 586.5 249.9C594.5 251.0 592.7 250.9 597.2 251.9C601.6 252.9 601.2 251.9 599.8 253.0C598.5 254.1 599.8 253.6 593.2 255.2C586.5 256.9 588.8 256.3 579.9 257.9C571.1 259.4 575.6 258.9 566.6 259.9C557.7 260.8 568.6 260.1 553.0 260.8C537.3 261.5 547.4 261.4 519.8 261.9C492.1 262.5 499.4 262.4 470.0 262.4C440.6 262.5 453.2 262.5 431.6 262.2C410.1 262.0 424.1 262.5 405.3 261.7C386.5 260.8 394.6 260.8 375.2 259.8C355.8 258.7 364.6 259.1 347.0 258.5C329.5 257.8 333.2 258.8 322.6 257.9C311.9 257.0 310.0 257.7 315.0 255.8Z"/>
<path fill="#0055ff" stroke="#0055ff" stroke-width="3.6" stroke-linejoin="round" d="M130.0 264.1C148.8 262.4 148.8 264.4 186.4 264.7C224.0 265.0 205.0 264.2 242.8 265.0C280.7 265.9 271.5 266.5 300.0 267.3C328.5 268.1 312.5 267.2 328.2 267.5C343.9 267.7 334.5 267.2 347.0 268.1C359.5 268.9 354.8 268.2 365.8 270.1C376.8 272.1 376.8 272.3 379.9 273.9C383.1 275.5 383.1 274.7 375.2 275.0C367.4 275.3 381.5 274.9 356.4 274.8C331.3 274.8 337.9 274.9 300.0 274.8C262.1 274.7 268.2 274.9 242.8 274.4C217.5 274.0 236.6 274.4 224.0 273.5C211.5 272.6 217.8 272.7 205.2 271.6C192.7 270.6 202.1 270.9 186.4 270.3C170.7 269.7 177.0 269.9 158.2 269.7C139.4 269.6 139.4 271.6 130.0 269.7C120.6 267.9 111.2 265.8 130.0 264.1Z"/>
<path fill="#0055ff" stroke="#0055ff" stroke-width="3.6" stroke-linejoin="round" d="M611.1 243.7C613.3 240.8 612.4 241.4 619.7 239.3C627.0 237.2 621.9 238.4 633.0 237.3C644.1 236.2 650.6 236.5 652.9 236.0C655.2 235.4 631.0 236.1 639.9 235.6C648.8 235.2 647.9 235.0 679.7 234.6C711.6 234.3 714.9 234.0 735.5 234.6C756.1 235.3 737.5 235.3 741.5 236.6C745.4 238.0 741.5 238.0 747.4 238.6C753.4 239.3 751.4 238.8 759.4 238.6C767.4 238.5 767.4 234.4 771.3 238.2C775.3 242.1 782.0 246.2 771.3 250.2C760.7 254.2 763.4 250.6 739.5 250.2C715.6 249.8 722.9 249.5 699.6 249.0C676.4 248.5 689.7 248.4 669.8 248.6C649.9 248.8 645.5 249.1 639.9 249.6C634.3 250.0 655.2 249.6 652.9 249.9C650.6 250.2 644.1 250.4 633.0 250.6C621.9 250.7 626.4 251.2 619.7 250.3C613.1 249.4 616.0 250.1 613.1 247.9C610.2 245.7 608.9 246.5 611.1 243.7Z"/>
<path fill="#ffaa00" stroke="#ffaa00" stroke-width="3.6" stroke-linejoin="round" d="M613.1 256.7C613.1 254.9 613.1 254.8 619.7 253.2C626.4 251.6 621.9 252.6 633.0 251.9C644.1 251.2 650.6 251.3 652.9 251.2C655.2 251.1 634.3 251.9 639.9 251.6C645.5 251.2 649.9 250.5 669.8 250.2C689.7 249.8 676.4 250.1 699.6 250.6C722.9 251.0 715.6 251.2 739.5 251.6C763.4 251.9 760.7 248.6 771.3 251.6C782.0 254.6 782.0 257.5 771.3 260.5C760.7 263.5 763.4 260.7 739.5 260.5C715.6 260.4 722.9 260.5 699.6 260.1C676.4 259.8 689.7 260.1 669.8 259.5C649.9 259.0 645.5 258.4 639.9 258.5C634.3 258.7 655.2 259.6 652.9 259.9C650.6 260.1 644.1 259.6 633.0 259.2C621.9 258.8 626.4 259.4 619.7 258.5C613.1 257.7 613.1 258.4 613.1 256.7Z"/>
<path fill="#0055ff" stroke="#0055ff" stroke-width="3.6" stroke-linejoin="round" d="M605.1 261.2C608.2 260.1 608.2 260.6 619.7 260.5C631.2 260.4 639.6 260.8 639.6 260.9C639.7 261.0 604.4 260.7 620.0 260.8C635.6 260.9 637.1 261.0 686.4 261.3C735.6 261.6 740.6 259.0 767.7 261.6C794.8 264.3 773.8 266.7 767.7 269.2C761.6 271.8 758.8 268.9 749.4 269.2C740.0 269.6 744.4 269.2 739.5 270.2C734.5 271.3 740.0 271.0 734.5 272.4C729.0 273.8 730.1 273.7 722.9 274.6C715.7 275.4 719.6 275.2 712.9 274.9C706.3 274.6 711.8 274.7 703.0 273.6C694.1 272.5 697.4 271.7 686.4 271.6C675.3 271.5 675.2 273.6 669.8 273.2C664.4 272.9 671.4 272.1 670.2 270.5C669.0 268.9 670.2 269.4 666.2 268.5C662.2 267.6 662.7 267.2 658.2 267.8C653.8 268.5 657.3 269.2 652.9 270.5C648.5 271.8 650.3 272.0 645.0 271.8C639.6 271.6 642.3 270.9 637.0 269.8C631.7 268.7 635.2 269.6 629.0 268.5C622.8 267.4 624.6 268.0 618.4 266.5C612.2 264.9 614.9 265.6 610.4 263.8C606.0 262.1 602.0 262.3 605.1 261.2Z"/>
<path fill="#ffaa00" stroke="#ffaa00" stroke-width="3.6" stroke-linejoin="round" d="M603.8 278.4C606.0 277.8 612.2 278.5 619.7 277.1C627.3 275.7 621.5 275.0 626.4 274.2C631.2 273.4 629.9 273.5 634.3 274.7C638.8 275.9 635.7 277.2 639.6 277.8C643.6 278.4 641.0 277.6 646.3 276.5C651.6 275.3 656.0 274.3 655.6 274.5C655.1 274.6 640.2 276.7 644.9 276.9C649.6 277.0 655.9 276.0 669.8 274.9C683.6 273.8 675.3 273.3 686.4 273.6C697.4 273.8 691.9 274.6 703.0 275.7C714.0 276.8 708.5 277.0 719.6 276.9C730.6 276.7 728.4 276.7 736.1 275.2C743.9 273.7 737.3 273.9 742.8 272.4C748.3 270.9 744.4 271.2 752.7 270.6C761.0 270.0 762.7 265.0 767.7 270.6C772.6 276.2 772.6 281.7 767.7 287.3C762.7 292.9 763.2 287.2 752.7 287.3C742.2 287.5 747.2 287.6 736.1 287.8C725.1 288.1 730.6 288.5 719.6 288.2C708.5 287.8 714.0 287.9 703.0 286.8C691.9 285.7 697.4 286.3 686.4 284.8C675.3 283.3 680.8 283.5 669.8 282.4C658.7 281.2 661.0 281.9 653.2 281.5C645.4 281.1 650.8 281.7 646.3 281.1C641.8 280.5 646.3 280.4 639.6 279.8C633.0 279.1 635.2 279.3 626.4 279.1C617.5 278.9 620.6 279.3 613.1 279.1C605.6 278.9 601.6 279.1 603.8 278.4Z"/>
<path fill="#ffaa00" stroke="#ffaa00" stroke-width="2.9" stroke-linejoin="round" d="M130.0 271.1C136.3 270.2 138.8 270.8 148.8 271.1C158.8 271.3 160.1 271.2 160.1 271.8C160.1 272.4 158.8 272.4 148.8 272.9C138.8 273.5 136.3 274.1 130.0 273.5C123.7 272.9 123.7 271.9 130.0 271.1Z"/>
<path fill="#ffaa00" stroke="#ffaa00" stroke-width="2.9" stroke-linejoin="round" d="M130.0 281.0C136.3 279.0 139.4 281.5 148.8 282.3C158.2 283.2 152.9 282.8 158.2 283.5C163.5 284.2 164.8 283.5 164.8 284.4C164.8 285.3 163.5 285.0 158.2 286.1C152.9 287.2 158.2 286.8 148.8 287.6C139.4 288.4 136.3 290.7 130.0 288.5C123.7 286.4 123.7 283.1 130.0 281.0Z"/>
<path fill="#0000aa" stroke="#0000aa" stroke-width="1.8" stroke-linejoin="round" d="M135.0 212.1C137.7 207.8 138.3 211.4 143.0 211.9C147.6 212.5 141.6 212.9 148.9 213.9C156.2 215.0 152.9 214.9 164.9 215.1C176.8 215.4 174.5 214.5 184.8 214.7C195.1 215.0 192.4 214.3 195.7 215.9C199.1 217.6 196.4 217.1 194.7 219.7C193.1 222.3 197.4 221.8 190.8 223.7C184.1 225.6 186.8 224.9 174.8 225.5C162.9 226.1 168.2 225.6 154.9 225.5C141.6 225.4 141.6 229.5 135.0 225.1C128.4 220.6 132.3 216.5 135.0 212.1Z"/>
<path fill="#0000aa" stroke="#0000aa" stroke-width="1.3" stroke-linejoin="round" d="M573.3 274.2C579.0 273.3 579.9 273.4 593.2 272.9C606.5 272.3 603.8 272.2 613.1 272.5C622.4 272.8 621.1 272.8 621.1 273.8C621.1 274.8 622.4 274.8 613.1 275.5C603.8 276.3 605.6 276.1 593.2 276.1C580.8 276.1 582.6 276.1 575.9 275.5C569.3 274.9 567.5 275.1 573.3 274.2Z"/>
<path fill="#ff5500" stroke="#ff5500" stroke-width="2.3" stroke-linejoin="round" d="M135.0 200.0C137.7 198.2 136.3 198.5 143.0 196.6C149.6 194.7 145.6 195.6 154.9 194.2C164.2 192.8 160.2 193.4 170.8 192.4C181.5 191.4 176.2 191.9 186.8 191.2C197.4 190.6 193.4 190.7 202.7 190.4C212.0 190.2 208.0 190.1 214.6 190.4C221.3 190.8 219.2 190.6 222.6 191.4C226.1 192.2 227.7 191.7 225.0 192.8C222.3 194.0 222.7 193.6 214.6 194.8C206.6 196.0 210.7 195.4 200.7 196.4C190.8 197.4 195.4 196.9 184.8 197.8C174.2 198.7 178.8 198.3 168.9 199.2C158.9 200.1 163.5 199.7 154.9 200.4C146.3 201.1 149.6 200.9 143.0 201.4C136.3 201.9 137.7 202.5 135.0 202.0C132.3 201.5 132.3 201.8 135.0 200.0Z"/>
<path fill="#0000aa" stroke="#0000aa" stroke-width="2.2" stroke-linejoin="round" d="M135.0 203.8C141.6 202.2 141.6 203.4 154.9 202.4C168.2 201.4 161.5 201.9 174.8 200.8C188.1 199.7 181.5 200.2 194.7 199.2C208.0 198.2 201.4 198.7 214.6 197.8C227.9 196.9 221.3 197.2 234.6 196.4C247.8 195.6 241.2 196.1 254.5 195.4C267.7 194.8 261.1 194.8 274.4 194.4C287.7 194.1 285.8 194.1 294.3 194.4C302.8 194.7 291.4 194.9 300.0 195.4C308.6 195.9 308.9 195.4 320.0 195.9C331.0 196.4 325.5 195.8 333.3 197.0C341.0 198.1 341.0 198.4 343.2 199.4C345.5 200.3 345.5 199.3 339.9 199.9C334.4 200.5 335.5 200.2 326.6 201.2C317.7 202.3 322.2 201.9 313.3 203.1C304.4 204.2 306.3 204.3 300.0 204.7C293.7 205.1 302.8 204.0 294.3 204.4C285.8 204.7 287.7 205.1 274.4 205.8C261.1 206.4 267.7 206.2 254.5 206.4C241.2 206.6 247.8 206.2 234.6 206.4C221.3 206.5 227.9 206.5 214.6 206.8C201.4 207.0 208.0 207.0 194.7 207.2C181.5 207.3 188.1 207.2 174.8 207.2C161.5 207.2 168.2 207.2 154.9 207.2C141.6 207.2 141.6 208.3 135.0 207.2C128.4 206.0 128.4 205.4 135.0 203.8Z"/>
<path fill="#0000aa" stroke="#0000aa" stroke-width="2.2" stroke-linejoin="round" d="M363.9 197.6C367.4 196.4 367.8 196.6 379.8 195.1C391.8 193.6 386.4 194.4 399.8 193.1C413.2 191.8 413.7 191.5 420.0 191.1C426.3 190.8 412.4 192.2 418.5 192.0C424.7 191.9 429.0 190.8 438.5 190.6C447.9 190.5 446.8 190.5 446.8 191.6C446.8 192.8 447.9 192.6 438.5 194.0C429.0 195.4 424.7 194.7 418.5 195.8C412.4 197.0 426.3 196.7 420.0 197.5C413.7 198.3 413.2 197.8 399.8 198.3C386.4 198.8 390.0 198.7 379.8 199.0C369.6 199.2 374.5 199.4 369.2 199.0C363.9 198.5 360.3 198.9 363.9 197.6Z"/>
<path fill="#ff5500" stroke="#ff5500" stroke-width="3.2" stroke-linejoin="round" d="M344.6 203.8C346.8 202.8 348.1 202.8 359.9 201.9C371.6 201.0 366.5 201.5 379.8 201.0C393.1 200.4 386.4 201.0 399.8 200.2C413.2 199.4 408.4 199.4 420.0 198.6C431.6 197.8 423.0 199.1 434.5 197.8C445.9 196.6 441.1 196.5 454.4 194.8C467.7 193.2 460.8 193.5 474.3 192.8C487.8 192.2 481.5 192.5 495.0 192.8C508.5 193.2 498.3 193.3 514.9 193.8C531.5 194.4 524.9 194.4 544.8 194.4C564.7 194.4 556.7 194.0 574.6 193.8C592.6 193.6 585.3 193.5 598.5 193.8C611.8 194.2 607.2 193.5 614.5 194.8C621.8 196.2 619.1 195.5 620.4 197.8C621.8 200.1 621.8 199.8 618.5 201.8C615.1 203.8 618.5 202.9 610.5 203.8C602.5 204.6 606.5 204.2 594.6 204.4C582.6 204.6 591.2 204.4 574.6 204.4C558.1 204.4 564.7 204.7 544.8 204.4C524.9 204.1 531.5 203.9 514.9 203.4C498.3 202.9 508.5 202.7 495.0 202.8C481.5 202.9 487.8 203.1 474.3 203.8C460.8 204.4 467.7 204.2 454.4 204.8C441.1 205.4 445.9 204.9 434.5 205.6C423.0 206.2 431.6 206.3 420.0 206.7C408.4 207.1 413.2 206.7 399.8 206.7C386.4 206.6 391.8 206.8 379.8 206.6C367.8 206.3 372.7 206.5 363.9 205.9C355.0 205.3 359.6 205.4 353.2 204.7C346.8 204.0 342.3 204.7 344.6 203.8Z"/>
<path fill="#0000aa" stroke="#0000aa" stroke-width="2.2" stroke-linejoin="round" d="M634.9 200.8C635.6 198.9 636.3 198.9 641.9 196.8C647.5 194.7 642.6 195.6 651.9 194.4C661.2 193.3 653.9 193.9 669.8 193.4C685.7 193.0 679.7 193.2 699.6 193.0C719.6 192.9 712.9 193.0 729.5 193.0C746.1 193.0 739.1 192.8 749.4 193.0C759.7 193.3 757.1 192.7 760.4 193.8C763.7 195.0 763.0 194.5 759.4 196.4C755.7 198.3 759.4 197.8 749.4 199.6C739.5 201.4 746.1 200.7 729.5 201.8C712.9 202.9 719.6 202.4 699.6 203.0C679.7 203.6 686.4 203.5 669.8 203.6C653.2 203.7 659.8 203.7 649.9 203.4C639.9 203.1 644.9 203.5 639.9 202.6C634.9 201.7 634.3 202.7 634.9 200.8Z"/>
<path fill="#ff5500" stroke="#ff5500" stroke-width="2.3" stroke-linejoin="round" d="M135.0 227.1C141.6 223.8 141.6 227.2 154.9 227.1C168.2 227.0 166.5 226.9 174.8 226.7C183.2 226.5 172.7 227.1 180.0 226.5C187.3 225.9 187.4 225.5 196.6 224.9C205.8 224.2 198.4 224.8 207.7 224.6C216.9 224.5 217.6 225.0 224.2 224.3C230.9 223.7 224.6 224.1 227.6 222.7C230.5 221.2 228.3 221.7 233.1 219.9C237.9 218.0 235.7 218.4 241.9 217.1C248.2 215.8 243.1 216.4 251.9 216.0C260.8 215.6 259.1 215.8 268.5 216.0C277.9 216.2 272.7 216.5 280.0 216.6C287.3 216.7 282.2 216.1 290.3 216.3C298.4 216.6 296.0 216.8 304.3 217.3C312.5 217.9 308.4 217.5 315.0 217.9C321.6 218.4 320.6 218.1 324.0 218.7C327.3 219.4 327.9 218.7 325.0 219.9C322.0 221.1 321.9 220.9 315.0 222.3C308.1 223.7 312.5 223.0 304.3 224.1C296.0 225.2 298.4 224.7 290.3 225.7C282.2 226.7 287.3 225.9 280.0 227.1C272.7 228.3 276.8 227.9 268.5 229.3C260.2 230.7 261.9 230.0 255.2 231.3C248.6 232.6 253.0 231.9 248.6 233.2C244.2 234.4 248.2 234.0 241.9 235.0C235.7 236.0 239.4 235.7 229.8 236.2C220.2 236.6 229.8 236.3 213.2 236.5C196.6 236.7 192.8 236.6 180.0 236.8C167.2 237.0 183.2 237.0 174.8 237.0C166.5 237.1 168.2 237.0 154.9 237.0C141.6 237.0 141.6 240.4 135.0 237.0C128.4 233.7 128.4 230.4 135.0 227.1Z"/>
<path fill="#0000aa" stroke="#0000aa" stroke-width="2.2" stroke-linejoin="round" d="M135.0 238.6C148.3 234.5 148.3 238.7 174.8 238.4C201.4 238.2 194.7 238.2 214.6 237.8C234.6 237.4 223.9 237.8 234.6 237.2C245.2 236.7 239.9 237.3 246.5 236.2C253.1 235.2 249.2 235.6 254.5 234.1C259.8 232.5 255.8 233.2 262.4 231.7C269.1 230.1 265.1 231.0 274.4 229.5C283.7 227.9 280.4 228.4 290.3 227.1C300.3 225.8 296.0 226.4 304.3 225.5C312.5 224.6 304.8 225.2 315.0 224.3C325.2 223.4 321.6 223.6 334.9 222.7C348.2 221.8 341.5 222.0 354.8 221.7C368.1 221.4 362.8 221.7 374.7 221.7C386.7 221.7 381.4 222.8 390.7 221.7C400.0 220.6 394.6 220.6 402.6 218.3C410.6 216.0 406.6 216.7 414.6 214.7C422.5 212.7 417.2 213.7 426.5 212.3C435.8 211.0 431.8 211.4 442.4 210.8C453.1 210.1 447.7 210.4 458.4 210.4C469.0 210.4 462.1 210.0 474.3 210.8C486.5 211.5 486.1 211.7 495.0 212.5C503.9 213.4 497.0 212.3 501.0 213.3C505.0 214.4 503.6 213.8 506.9 215.7C510.3 217.7 508.9 216.9 510.9 219.1C512.9 221.3 512.9 220.1 512.9 222.3C512.9 224.5 513.3 223.4 510.9 225.7C508.6 227.9 509.6 227.2 506.0 229.1C502.3 230.9 503.6 230.3 500.0 231.3C496.3 232.2 500.2 231.7 495.0 231.9C489.8 232.0 491.2 231.4 484.3 231.7C477.4 231.9 481.6 232.0 474.3 232.7C467.0 233.3 469.0 233.5 462.4 233.7C455.7 233.8 459.0 233.7 454.4 233.1C449.7 232.4 453.7 232.5 448.4 231.7C443.1 230.9 444.4 230.7 438.5 230.7C432.5 230.7 435.1 230.3 430.5 231.7C425.8 233.0 429.8 233.1 424.5 234.6C419.2 236.2 424.5 235.6 414.6 236.2C404.6 236.9 407.9 236.5 394.6 236.6C381.4 236.8 388.0 236.8 374.7 236.6C361.5 236.5 368.1 236.4 354.8 236.2C341.5 236.0 348.2 235.9 334.9 236.0C321.6 236.2 325.2 236.0 315.0 236.6C304.8 237.2 312.5 237.0 304.3 237.8C296.0 238.6 300.3 238.1 290.3 239.0C280.4 240.0 283.0 239.4 274.4 240.6C265.8 241.8 271.1 241.0 264.4 242.6C257.8 244.3 260.4 243.7 254.5 245.6C248.5 247.5 251.2 246.9 246.5 248.2C241.9 249.5 247.8 249.0 240.5 249.6C233.2 250.2 239.9 249.8 224.6 250.0C209.3 250.2 214.6 250.0 194.7 250.2C174.8 250.4 184.8 250.3 164.9 250.6C145.0 250.8 145.0 255.0 135.0 251.0C125.0 247.0 121.7 242.8 135.0 238.6Z"/>
<path fill="#0000aa" stroke="#0000aa" stroke-width="2.2" stroke-linejoin="round" d="M534.8 232.7C535.5 230.8 538.1 231.1 546.8 227.7C555.4 224.2 551.4 225.4 560.7 222.3C570.0 219.2 565.4 219.8 574.6 218.3C583.9 216.8 581.3 217.3 588.6 217.7C595.9 218.2 590.6 217.4 596.6 219.7C602.5 222.0 599.9 221.6 606.5 224.7C613.1 227.8 611.2 226.6 616.5 229.1C621.8 231.6 623.1 230.9 622.4 232.3C621.8 233.7 630.4 232.9 614.5 233.3C598.5 233.6 597.9 233.3 574.6 233.3C551.4 233.3 558.1 233.5 544.8 233.3C531.5 233.1 534.2 234.5 534.8 232.7Z"/>
<path fill="#ff5500" stroke="#ff5500" stroke-width="3.9" stroke-linejoin="round" d="M616.5 222.7C617.1 220.0 617.1 221.4 624.4 218.7C631.7 216.1 628.4 216.9 638.4 214.7C648.3 212.6 645.8 213.2 654.3 212.3C662.8 211.5 653.3 212.2 663.8 212.1C674.3 212.1 674.8 211.9 685.7 212.1C696.7 212.4 688.7 212.1 696.7 212.9C704.6 213.7 700.6 213.3 709.6 214.5C718.6 215.7 714.6 214.9 723.5 216.5C732.5 218.1 727.9 217.5 736.5 219.3C745.1 221.1 739.7 219.9 749.4 221.9C759.2 223.9 758.5 223.8 765.8 225.3C773.1 226.8 769.5 223.2 771.3 226.3C773.2 229.4 778.6 232.2 771.3 234.6C764.0 237.1 763.4 234.1 749.4 233.7C735.5 233.2 746.1 233.5 729.5 233.3C712.9 233.1 719.6 233.1 699.6 233.1C679.7 233.0 686.4 233.2 669.8 233.1C653.2 232.9 655.0 232.7 649.9 232.7C644.7 232.7 658.1 233.1 654.3 233.1C650.5 233.1 646.3 233.5 638.4 232.7C630.4 231.9 635.7 232.7 630.4 230.7C625.1 228.7 627.1 229.3 622.4 226.7C617.8 224.0 615.8 225.4 616.5 222.7Z"/>
<path fill="#ff5500" stroke="#ff5500" stroke-width="2.3" stroke-linejoin="round" d="M135.0 252.0C146.6 248.4 145.0 251.8 164.9 251.6C184.8 251.3 174.8 251.4 194.7 251.2C214.6 251.0 209.3 251.2 224.6 251.0C239.9 250.8 232.6 251.2 240.5 250.6C248.5 249.9 243.9 250.0 248.5 249.0C253.1 248.0 249.8 249.1 254.5 247.6C259.1 246.1 255.8 246.3 262.4 244.6C269.1 242.9 265.1 243.8 274.4 242.6C283.7 241.4 280.4 242.0 290.3 241.0C300.3 240.0 296.0 240.6 304.3 239.6C312.5 238.6 298.1 238.7 315.0 238.0C331.9 237.4 328.3 237.6 354.8 237.6C381.4 237.6 373.4 238.2 394.6 238.0C415.9 237.8 407.9 238.2 418.5 237.0C429.2 235.9 421.2 236.0 426.5 234.6C431.8 233.3 427.8 233.6 434.5 233.1C441.1 232.5 439.8 232.5 446.4 233.1C453.1 233.6 445.1 234.1 454.4 234.6C463.7 235.2 460.8 234.6 474.3 234.6C487.8 234.6 474.8 234.6 495.0 234.6C515.2 234.6 508.3 234.8 534.8 234.6C561.4 234.5 548.1 234.5 574.6 234.3C601.2 234.1 595.9 233.9 614.5 234.1C633.1 234.2 627.7 233.7 630.4 234.6C633.1 235.6 629.1 235.4 622.4 237.0C615.8 238.7 617.1 237.9 610.5 239.6C603.9 241.4 609.8 240.9 602.5 242.2C595.2 243.5 597.9 242.9 588.6 243.6C579.3 244.3 589.3 243.5 574.6 244.2C560.0 244.9 561.4 244.8 544.8 245.6C528.2 246.4 536.2 245.6 524.9 246.6C513.6 247.6 520.9 247.4 510.9 248.6C501.0 249.8 507.2 249.8 495.0 250.2C482.8 250.6 487.8 249.8 474.3 249.8C460.8 249.8 467.7 249.9 454.4 250.2C441.1 250.4 447.7 250.6 434.5 250.6C421.2 250.6 427.8 250.3 414.6 250.2C401.3 250.0 407.9 250.4 394.6 250.2C381.4 250.0 388.0 250.0 374.7 249.6C361.5 249.2 366.8 249.3 354.8 249.0C342.9 248.7 348.2 248.5 338.9 248.6C329.6 248.7 334.9 248.9 326.9 249.2C319.0 249.5 322.6 249.3 315.0 249.4C307.4 249.5 312.5 249.5 304.3 249.4C296.0 249.3 298.9 249.1 290.3 249.2C281.7 249.3 285.0 249.3 278.4 249.8C271.7 250.2 275.7 250.0 270.4 250.6C265.1 251.1 264.4 250.4 262.4 251.4C260.4 252.3 260.4 252.6 264.4 253.4C268.4 254.1 267.1 253.4 274.4 253.6C281.7 253.8 278.4 253.4 286.3 254.0C294.3 254.5 291.0 254.1 298.3 255.2C305.6 256.2 307.7 255.9 308.2 257.2C308.8 258.4 295.2 258.4 300.0 259.0C304.8 259.7 306.9 258.8 322.6 259.0C338.2 259.3 329.5 259.0 347.0 259.8C364.6 260.5 355.8 260.2 375.2 261.3C394.6 262.4 386.5 262.4 405.3 263.2C424.1 263.9 410.1 263.1 431.6 263.5C453.2 264.0 440.6 264.6 470.0 264.6C499.4 264.6 492.1 264.3 519.8 263.6C547.4 262.9 530.7 262.6 553.0 262.4C575.2 262.3 570.9 262.5 586.5 263.2C602.2 263.9 591.0 263.6 599.8 264.5C608.7 265.4 605.6 264.8 613.1 265.8C620.6 266.9 622.4 266.7 622.4 267.6C622.4 268.4 620.6 267.7 613.1 268.5C605.6 269.2 608.7 268.9 599.8 269.8C591.0 270.7 595.4 270.3 586.5 271.1C577.7 272.0 588.3 271.2 573.3 272.5C558.2 273.7 564.7 274.1 541.3 274.9C518.0 275.7 527.0 274.8 503.2 274.9C479.4 275.0 490.1 275.5 470.0 275.2C449.9 274.9 462.0 274.3 442.9 274.1C423.9 273.8 429.1 274.6 412.8 274.4C396.5 274.3 404.7 274.4 394.0 273.5C383.4 272.6 390.3 273.2 380.9 271.6C371.5 270.1 377.1 270.4 365.8 268.8C354.5 267.2 359.5 267.7 347.0 266.9C334.5 266.1 343.9 266.7 328.2 266.4C312.5 266.0 315.9 266.4 300.0 266.0C284.1 265.5 299.5 265.9 280.4 265.0C261.4 264.2 267.9 264.2 242.8 263.5C217.8 262.9 230.3 263.4 205.2 263.2C180.1 262.9 192.7 263.1 167.6 262.8C142.5 262.5 140.9 265.8 130.0 262.2C119.1 258.6 123.4 255.5 135.0 252.0Z"/>
<path fill="#0000aa" stroke="#0000aa" stroke-width="2.2" stroke-linejoin="round" d="M315.0 255.8C320.1 253.9 317.6 253.9 337.6 252.3C357.7 250.6 350.1 251.4 375.2 250.9C400.3 250.5 351.2 251.5 412.8 250.9C474.4 250.4 506.5 250.0 560.0 249.2C613.5 248.5 564.4 248.4 573.3 248.6C582.1 248.8 578.6 248.8 586.5 249.9C594.5 251.0 592.7 250.9 597.2 251.9C601.6 252.9 601.2 251.9 599.8 253.0C598.5 254.1 599.8 253.6 593.2 255.2C586.5 256.9 588.8 256.3 579.9 257.9C571.1 259.4 575.6 258.9 566.6 259.9C557.7 260.8 568.6 260.1 553.0 260.8C537.3 261.5 547.4 261.4 519.8 261.9C492.1 262.5 499.4 262.4 470.0 262.4C440.6 262.5 453.2 262.5 431.6 262.2C410.1 262.0 424.1 262.5 405.3 261.7C386.5 260.8 394.6 260.8 375.2 259.8C355.8 258.7 364.6 259.1 347.0 258.5C329.5 257.8 333.2 258.8 322.6 257.9C311.9 257.0 310.0 257.7 315.0 255.8Z"/>
<path fill="#0000aa" stroke="#0000aa" stroke-width="2.2" stroke-linejoin="round" d="M130.0 264.1C148.8 262.4 148.8 264.4 186.4 264.7C224.0 265.0 205.0 264.2 242.8 265.0C280.7 265.9 271.5 266.5 300.0 267.3C328.5 268.1 312.5 267.2 328.2 267.5C343.9 267.7 334.5 267.2 347.0 268.1C359.5 268.9 354.8 268.2 365.8 270.1C376.8 272.1 376.8 272.3 379.9 273.9C383.1 275.5 383.1 274.7 375.2 275.0C367.4 275.3 381.5 274.9 356.4 274.8C331.3 274.8 337.9 274.9 300.0 274.8C262.1 274.7 268.2 274.9 242.8 274.4C217.5 274.0 236.6 274.4 224.0 273.5C211.5 272.6 217.8 272.7 205.2 271.6C192.7 270.6 202.1 270.9 186.4 270.3C170.7 269.7 177.0 269.9 158.2 269.7C139.4 269.6 139.4 271.6 130.0 269.7C120.6 267.9 111.2 265.8 130.0 264.1Z"/>
<path fill="#0000aa" stroke="#0000aa" stroke-width="2.2" stroke-linejoin="round" d="M611.1 243.7C613.3 240.8 612.4 241.4 619.7 239.3C627.0 237.2 621.9 238.4 633.0 237.3C644.1 236.2 650.6 236.5 652.9 236.0C655.2 235.4 631.0 236.1 639.9 235.6C648.8 235.2 647.9 235.0 679.7 234.6C711.6 234.3 714.9 234.0 735.5 234.6C756.1 235.3 737.5 235.3 741.5 236.6C745.4 238.0 741.5 238.0 747.4 238.6C753.4 239.3 751.4 238.8 759.4 238.6C767.4 238.5 767.4 234.4 771.3 238.2C775.3 242.1 782.0 246.2 771.3 250.2C760.7 254.2 763.4 250.6 739.5 250.2C715.6 249.8 722.9 249.5 699.6 249.0C676.4 248.5 689.7 248.4 669.8 248.6C649.9 248.8 645.5 249.1 639.9 249.6C634.3 250.0 655.2 249.6 652.9 249.9C650.6 250.2 644.1 250.4 633.0 250.6C621.9 250.7 626.4 251.2 619.7 250.3C613.1 249.4 616.0 250.1 613.1 247.9C610.2 245.7 608.9 246.5 611.1 243.7Z"/>
<path fill="#ff5500" stroke="#ff5500" stroke-width="2.3" stroke-linejoin="round" d="M613.1 256.7C613.1 254.9 613.1 254.8 619.7 253.2C626.4 251.6 621.9 252.6 633.0 251.9C644.1 251.2 650.6 251.3 652.9 251.2C655.2 251.1 634.3 251.9 639.9 251.6C645.5 251.2 649.9 250.5 669.8 250.2C689.7 249.8 676.4 250.1 699.6 250.6C722.9 251.0 715.6 251.2 739.5 251.6C763.4 251.9 760.7 248.6 771.3 251.6C782.0 254.6 782.0 257.5 771.3 260.5C760.7 263.5 763.4 260.7 739.5 260.5C715.6 260.4 722.9 260.5 699.6 260.1C676.4 259.8 689.7 260.1 669.8 259.5C649.9 259.0 645.5 258.4 639.9 258.5C634.3 258.7 655.2 259.6 652.9 259.9C650.6 260.1 644.1 259.6 633.0 259.2C621.9 258.8 626.4 259.4 619.7 258.5C613.1 257.7 613.1 258.4 613.1 256.7Z"/>
<path fill="#0000aa" stroke="#0000aa" stroke-width="2.2" stroke-linejoin="round" d="M605.1 261.2C608.2 260.1 608.2 260.6 619.7 260.5C631.2 260.4 639.6 260.8 639.6 260.9C639.7 261.0 604.4 260.7 620.0 260.8C635.6 260.9 637.1 261.0 686.4 261.3C735.6 261.6 740.6 259.0 767.7 261.6C794.8 264.3 773.8 266.7 767.7 269.2C761.6 271.8 758.8 268.9 749.4 269.2C740.0 269.6 744.4 269.2 739.5 270.2C734.5 271.3 740.0 271.0 734.5 272.4C729.0 273.8 730.1 273.7 722.9 274.6C715.7 275.4 719.6 275.2 712.9 274.9C706.3 274.6 711.8 274.7 703.0 273.6C694.1 272.5 697.4 271.7 686.4 271.6C675.3 271.5 675.2 273.6 669.8 273.2C664.4 272.9 671.4 272.1 670.2 270.5C669.0 268.9 670.2 269.4 666.2 268.5C662.2 267.6 662.7 267.2 658.2 267.8C653.8 268.5 657.3 269.2 652.9 270.5C648.5 271.8 650.3 272.0 645.0 271.8C639.6 271.6 642.3 270.9 637.0 269.8C631.7 268.7 635.2 269.6 629.0 268.5C622.8 267.4 624.6 268.0 618.4 266.5C612.2 264.9 614.9 265.6 610.4 263.8C606.0 262.1 602.0 262.3 605.1 261.2Z"/>
<path fill="#ff5500" stroke="#ff5500" stroke-width="2.3" stroke-linejoin="round" d="M603.8 278.4C606.0 277.8 612.2 278.5 619.7 277.1C627.3 275.7 621.5 275.0 626.4 274.2C631.2 273.4 629.9 273.5 634.3 274.7C638.8 275.9 635.7 277.2 639.6 277.8C643.6 278.4 641.0 277.6 646.3 276.5C651.6 275.3 656.0 274.3 655.6 274.5C655.1 274.6 640.2 276.7 644.9 276.9C649.6 277.0 655.9 276.0 669.8 274.9C683.6 273.8 675.3 273.3 686.4 273.6C697.4 273.8 691.9 274.6 703.0 275.7C714.0 276.8 708.5 277.0 719.6 276.9C730.6 276.7 728.4 276.7 736.1 275.2C743.9 273.7 737.3 273.9 742.8 272.4C748.3 270.9 744.4 271.2 752.7 270.6C761.0 270.0 762.7 265.0 767.7 270.6C772.6 276.2 772.6 281.7 767.7 287.3C762.7 292.9 763.2 287.2 752.7 287.3C742.2 287.5 747.2 287.6 736.1 287.8C725.1 288.1 730.6 288.5 719.6 288.2C708.5 287.8 714.0 287.9 703.0 286.8C691.9 285.7 697.4 286.3 686.4 284.8C675.3 283.3 680.8 283.5 669.8 282.4C658.7 281.2 661.0 281.9 653.2 281.5C645.4 281.1 650.8 281.7 646.3 281.1C641.8 280.5 646.3 280.4 639.6 279.8C633.0 279.1 635.2 279.3 626.4 279.1C617.5 278.9 620.6 279.3 613.1 279.1C605.6 278.9 601.6 279.1 603.8 278.4Z"/>
<path fill="#ff5500" stroke="#ff5500" stroke-width="1.8" stroke-linejoin="round" d="M130.0 271.1C136.3 270.2 138.8 270.8 148.8 271.1C158.8 271.3 160.1 271.2 160.1 271.8C160.1 272.4 158.8 272.4 148.8 272.9C138.8 273.5 136.3 274.1 130.0 273.5C123.7 272.9 123.7 271.9 130.0 271.1Z"/>
<path fill="#ff5500" stroke="#ff5500" stroke-width="1.8" stroke-linejoin="round" d="M130.0 281.0C136.3 279.0 139.4 281.5 148.8 282.3C158.2 283.2 152.9 282.8 158.2 283.5C163.5 284.2 164.8 283.5 164.8 284.4C164.8 285.3 163.5 285.0 158.2 286.1C152.9 287.2 158.2 286.8 148.8 287.6C139.4 288.4 136.3 290.7 130.0 288.5C123.7 286.4 123.7 283.1 130.0 281.0Z"/>
<path fill="#3200aa" stroke="#3200aa" stroke-width="0.7" stroke-linejoin="round" d="M135.0 212.1C137.7 207.8 138.3 211.4 143.0 211.9C147.6 212.5 141.6 212.9 148.9 213.9C156.2 215.0 152.9 214.9 164.9 215.1C176.8 215.4 174.5 214.5 184.8 214.7C195.1 215.0 192.4 214.3 195.7 215.9C199.1 217.6 196.4 217.1 194.7 219.7C193.1 222.3 197.4 221.8 190.8 223.7C184.1 225.6 186.8 224.9 174.8 225.5C162.9 226.1 168.2 225.6 154.9 225.5C141.6 225.4 141.6 229.5 135.0 225.1C128.4 220.6 132.3 216.5 135.0 212.1Z"/>
<path fill="#3200aa" stroke="#3200aa" stroke-width="0.5" stroke-linejoin="round" d="M573.3 274.2C579.0 273.3 579.9 273.4 593.2 272.9C606.5 272.3 603.8 272.2 613.1 272.5C622.4 272.8 621.1 272.8 621.1 273.8C621.1 274.8 622.4 274.8 613.1 275.5C603.8 276.3 605.6 276.1 593.2 276.1C580.8 276.1 582.6 276.1 575.9 275.5C569.3 274.9 567.5 275.1 573.3 274.2Z"/>
<path fill="#ff2020" stroke="#ff2020" stroke-width="1.0" stroke-linejoin="round" d="M135.0 200.0C137.7 198.2 136.3 198.5 143.0 196.6C149.6 194.7 145.6 195.6 154.9 194.2C164.2 192.8 160.2 193.4 170.8 192.4C181.5 191.4 176.2 191.9 186.8 191.2C197.4 190.6 193.4 190.7 202.7 190.4C212.0 190.2 208.0 190.1 214.6 190.4C221.3 190.8 219.2 190.6 222.6 191.4C226.1 192.2 227.7 191.7 225.0 192.8C222.3 194.0 222.7 193.6 214.6 194.8C206.6 196.0 210.7 195.4 200.7 196.4C190.8 197.4 195.4 196.9 184.8 197.8C174.2 198.7 178.8 198.3 168.9 199.2C158.9 200.1 163.5 199.7 154.9 200.4C146.3 201.1 149.6 200.9 143.0 201.4C136.3 201.9 137.7 202.5 135.0 202.0C132.3 201.5 132.3 201.8 135.0 200.0Z"/>
<path fill="#3200aa" stroke="#3200aa" stroke-width="0.9" stroke-linejoin="round" d="M135.0 203.8C141.6 202.2 141.6 203.4 154.9 202.4C168.2 201.4 161.5 201.9 174.8 200.8C188.1 199.7 181.5 200.2 194.7 199.2C208.0 198.2 201.4 198.7 214.6 197.8C227.9 196.9 221.3 197.2 234.6 196.4C247.8 195.6 241.2 196.1 254.5 195.4C267.7 194.8 261.1 194.8 274.4 194.4C287.7 194.1 285.8 194.1 294.3 194.4C302.8 194.7 291.4 194.9 300.0 195.4C308.6 195.9 308.9 195.4 320.0 195.9C331.0 196.4 325.5 195.8 333.3 197.0C341.0 198.1 341.0 198.4 343.2 199.4C345.5 200.3 345.5 199.3 339.9 199.9C334.4 200.5 335.5 200.2 326.6 201.2C317.7 202.3 322.2 201.9 313.3 203.1C304.4 204.2 306.3 204.3 300.0 204.7C293.7 205.1 302.8 204.0 294.3 204.4C285.8 204.7 287.7 205.1 274.4 205.8C261.1 206.4 267.7 206.2 254.5 206.4C241.2 206.6 247.8 206.2 234.6 206.4C221.3 206.5 227.9 206.5 214.6 206.8C201.4 207.0 208.0 207.0 194.7 207.2C181.5 207.3 188.1 207.2 174.8 207.2C161.5 207.2 168.2 207.2 154.9 207.2C141.6 207.2 141.6 208.3 135.0 207.2C128.4 206.0 128.4 205.4 135.0 203.8Z"/>
<path fill="#3200aa" stroke="#3200aa" stroke-width="0.9" stroke-linejoin="round" d="M363.9 197.6C367.4 196.4 367.8 196.6 379.8 195.1C391.8 193.6 386.4 194.4 399.8 193.1C413.2 191.8 413.7 191.5 420.0 191.1C426.3 190.8 412.4 192.2 418.5 192.0C424.7 191.9 429.0 190.8 438.5 190.6C447.9 190.5 446.8 190.5 446.8 191.6C446.8 192.8 447.9 192.6 438.5 194.0C429.0 195.4 424.7 194.7 418.5 195.8C412.4 197.0 426.3 196.7 420.0 197.5C413.7 198.3 413.2 197.8 399.8 198.3C386.4 198.8 390.0 198.7 379.8 199.0C369.6 199.2 374.5 199.4 369.2 199.0C363.9 198.5 360.3 198.9 363.9 197.6Z"/>
<path fill="#ff2020" stroke="#ff2020" stroke-width="1.4" stroke-linejoin="round" d="M344.6 203.8C346.8 202.8 348.1 202.8 359.9 201.9C371.6 201.0 366.5 201.5 379.8 201.0C393.1 200.4 386.4 201.0 399.8 200.2C413.2 199.4 408.4 199.4 420.0 198.6C431.6 197.8 423.0 199.1 434.5 197.8C445.9 196.6 441.1 196.5 454.4 194.8C467.7 193.2 460.8 193.5 474.3 192.8C487.8 192.2 481.5 192.5 495.0 192.8C508.5 193.2 498.3 193.3 514.9 193.8C531.5 194.4 524.9 194.4 544.8 194.4C564.7 194.4 556.7 194.0 574.6 193.8C592.6 193.6 585.3 193.5 598.5 193.8C611.8 194.2 607.2 193.5 614.5 194.8C621.8 196.2 619.1 195.5 620.4 197.8C621.8 200.1 621.8 199.8 618.5 201.8C615.1 203.8 618.5 202.9 610.5 203.8C602.5 204.6 606.5 204.2 594.6 204.4C582.6 204.6 591.2 204.4 574.6 204.4C558.1 204.4 564.7 204.7 544.8 204.4C524.9 204.1 531.5 203.9 514.9 203.4C498.3 202.9 508.5 202.7 495.0 202.8C481.5 202.9 487.8 203.1 474.3 203.8C460.8 204.4 467.7 204.2 454.4 204.8C441.1 205.4 445.9 204.9 434.5 205.6C423.0 206.2 431.6 206.3 420.0 206.7C408.4 207.1 413.2 206.7 399.8 206.7C386.4 206.6 391.8 206.8 379.8 206.6C367.8 206.3 372.7 206.5 363.9 205.9C355.0 205.3 359.6 205.4 353.2 204.7C346.8 204.0 342.3 204.7 344.6 203.8Z"/>
<path fill="#3200aa" stroke="#3200aa" stroke-width="0.9" stroke-linejoin="round" d="M634.9 200.8C635.6 198.9 636.3 198.9 641.9 196.8C647.5 194.7 642.6 195.6 651.9 194.4C661.2 193.3 653.9 193.9 669.8 193.4C685.7 193.0 679.7 193.2 699.6 193.0C719.6 192.9 712.9 193.0 729.5 193.0C746.1 193.0 739.1 192.8 749.4 193.0C759.7 193.3 757.1 192.7 760.4 193.8C763.7 195.0 763.0 194.5 759.4 196.4C755.7 198.3 759.4 197.8 749.4 199.6C739.5 201.4 746.1 200.7 729.5 201.8C712.9 202.9 719.6 202.4 699.6 203.0C679.7 203.6 686.4 203.5 669.8 203.6C653.2 203.7 659.8 203.7 649.9 203.4C639.9 203.1 644.9 203.5 639.9 202.6C634.9 201.7 634.3 202.7 634.9 200.8Z"/>
<path fill="#ff2020" stroke="#ff2020" stroke-width="1.0" stroke-linejoin="round" d="M135.0 227.1C141.6 223.8 141.6 227.2 154.9 227.1C168.2 227.0 166.5 226.9 174.8 226.7C183.2 226.5 172.7 227.1 180.0 226.5C187.3 225.9 187.4 225.5 196.6 224.9C205.8 224.2 198.4 224.8 207.7 224.6C216.9 224.5 217.6 225.0 224.2 224.3C230.9 223.7 224.6 224.1 227.6 222.7C230.5 221.2 228.3 221.7 233.1 219.9C237.9 218.0 235.7 218.4 241.9 217.1C248.2 215.8 243.1 216.4 251.9 216.0C260.8 215.6 259.1 215.8 268.5 216.0C277.9 216.2 272.7 216.5 280.0 216.6C287.3 216.7 282.2 216.1 290.3 216.3C298.4 216.6 296.0 216.8 304.3 217.3C312.5 217.9 308.4 217.5 315.0 217.9C321.6 218.4 320.6 218.1 324.0 218.7C327.3 219.4 327.9 218.7 325.0 219.9C322.0 221.1 321.9 220.9 315.0 222.3C308.1 223.7 312.5 223.0 304.3 224.1C296.0 225.2 298.4 224.7 290.3 225.7C282.2 226.7 287.3 225.9 280.0 227.1C272.7 228.3 276.8 227.9 268.5 229.3C260.2 230.7 261.9 230.0 255.2 231.3C248.6 232.6 253.0 231.9 248.6 233.2C244.2 234.4 248.2 234.0 241.9 235.0C235.7 236.0 239.4 235.7 229.8 236.2C220.2 236.6 229.8 236.3 213.2 236.5C196.6 236.7 192.8 236.6 180.0 236.8C167.2 237.0 183.2 237.0 174.8 237.0C166.5 237.1 168.2 237.0 154.9 237.0C141.6 237.0 141.6 240.4 135.0 237.0C128.4 233.7 128.4 230.4 135.0 227.1Z"/>
<path fill="#3200aa" stroke="#3200aa" stroke-width="0.9" stroke-linejoin="round" d="M135.0 238.6C148.3 234.5 148.3 238.7 174.8 238.4C201.4 238.2 194.7 238.2 214.6 237.8C234.6 237.4 223.9 237.8 234.6 237.2C245.2 236.7 239.9 237.3 246.5 236.2C253.1 235.2 249.2 235.6 254.5 234.1C259.8 232.5 255.8 233.2 262.4 231.7C269.1 230.1 265.1 231.0 274.4 229.5C283.7 227.9 280.4 228.4 290.3 227.1C300.3 225.8 296.0 226.4 304.3 225.5C312.5 224.6 304.8 225.2 315.0 224.3C325.2 223.4 321.6 223.6 334.9 222.7C348.2 221.8 341.5 222.0 354.8 221.7C368.1 221.4 362.8 221.7 374.7 221.7C386.7 221.7 381.4 222.8 390.7 221.7C400.0 220.6 394.6 220.6 402.6 218.3C410.6 216.0 406.6 216.7 414.6 214.7C422.5 212.7 417.2 213.7 426.5 212.3C435.8 211.0 431.8 211.4 442.4 210.8C453.1 210.1 447.7 210.4 458.4 210.4C469.0 210.4 462.1 210.0 474.3 210.8C486.5 211.5 486.1 211.7 495.0 212.5C503.9 213.4 497.0 212.3 501.0 213.3C505.0 214.4 503.6 213.8 506.9 215.7C510.3 217.7 508.9 216.9 510.9 219.1C512.9 221.3 512.9 220.1 512.9 222.3C512.9 224.5 513.3 223.4 510.9 225.7C508.6 227.9 509.6 227.2 506.0 229.1C502.3 230.9 503.6 230.3 500.0 231.3C496.3 232.2 500.2 231.7 495.0 231.9C489.8 232.0 491.2 231.4 484.3 231.7C477.4 231.9 481.6 232.0 474.3 232.7C467.0 233.3 469.0 233.5 462.4 233.7C455.7 233.8 459.0 233.7 454.4 233.1C449.7 232.4 453.7 232.5 448.4 231.7C443.1 230.9 444.4 230.7 438.5 230.7C432.5 230.7 435.1 230.3 430.5 231.7C425.8 233.0 429.8 233.1 424.5 234.6C419.2 236.2 424.5 235.6 414.6 236.2C404.6 236.9 407.9 236.5 394.6 236.6C381.4 236.8 388.0 236.8 374.7 236.6C361.5 236.5 368.1 236.4 354.8 236.2C341.5 236.0 348.2 235.9 334.9 236.0C321.6 236.2 325.2 236.0 315.0 236.6C304.8 237.2 312.5 237.0 304.3 237.8C296.0 238.6 300.3 238.1 290.3 239.0C280.4 240.0 283.0 239.4 274.4 240.6C265.8 241.8 271.1 241.0 264.4 242.6C257.8 244.3 260.4 243.7 254.5 245.6C248.5 247.5 251.2 246.9 246.5 248.2C241.9 249.5 247.8 249.0 240.5 249.6C233.2 250.2 239.9 249.8 224.6 250.0C209.3 250.2 214.6 250.0 194.7 250.2C174.8 250.4 184.8 250.3 164.9 250.6C145.0 250.8 145.0 255.0 135.0 251.0C125.0 247.0 121.7 242.8 135.0 238.6Z"/>
<path fill="#3200aa" stroke="#3200aa" stroke-width="0.9" stroke-linejoin="round" d="M534.8 232.7C535.5 230.8 538.1 231.1 546.8 227.7C555.4 224.2 551.4 225.4 560.7 222.3C570.0 219.2 565.4 219.8 574.6 218.3C583.9 216.8 581.3 217.3 588.6 217.7C595.9 218.2 590.6 217.4 596.6 219.7C602.5 222.0 599.9 221.6 606.5 224.7C613.1 227.8 611.2 226.6 616.5 229.1C621.8 231.6 623.1 230.9 622.4 232.3C621.8 233.7 630.4 232.9 614.5 233.3C598.5 233.6 597.9 233.3 574.6 233.3C551.4 233.3 558.1 233.5 544.8 233.3C531.5 233.1 534.2 234.5 534.8 232.7Z"/>
<path fill="#ff2020" stroke="#ff2020" stroke-width="1.7" stroke-linejoin="round" d="M616.5 222.7C617.1 220.0 617.1 221.4 624.4 218.7C631.7 216.1 628.4 216.9 638.4 214.7C648.3 212.6 645.8 213.2 654.3 212.3C662.8 211.5 653.3 212.2 663.8 212.1C674.3 212.1 674.8 211.9 685.7 212.1C696.7 212.4 688.7 212.1 696.7 212.9C704.6 213.7 700.6 213.3 709.6 214.5C718.6 215.7 714.6 214.9 723.5 216.5C732.5 218.1 727.9 217.5 736.5 219.3C745.1 221.1 739.7 219.9 749.4 221.9C759.2 223.9 758.5 223.8 765.8 225.3C773.1 226.8 769.5 223.2 771.3 226.3C773.2 229.4 778.6 232.2 771.3 234.6C764.0 237.1 763.4 234.1 749.4 233.7C735.5 233.2 746.1 233.5 729.5 233.3C712.9 233.1 719.6 233.1 699.6 233.1C679.7 233.0 686.4 233.2 669.8 233.1C653.2 232.9 655.0 232.7 649.9 232.7C644.7 232.7 658.1 233.1 654.3 233.1C650.5 233.1 646.3 233.5 638.4 232.7C630.4 231.9 635.7 232.7 630.4 230.7C625.1 228.7 627.1 229.3 622.4 226.7C617.8 224.0 615.8 225.4 616.5 222.7Z"/>
<path fill="#ff2020" stroke="#ff2020" stroke-width="1.0" stroke-linejoin="round" d="M135.0 252.0C146.6 248.4 145.0 251.8 164.9 251.6C184.8 251.3 174.8 251.4 194.7 251.2C214.6 251.0 209.3 251.2 224.6 251.0C239.9 250.8 232.6 251.2 240.5 250.6C248.5 249.9 243.9 250.0 248.5 249.0C253.1 248.0 249.8 249.1 254.5 247.6C259.1 246.1 255.8 246.3 262.4 244.6C269.1 242.9 265.1 243.8 274.4 242.6C283.7 241.4 280.4 242.0 290.3 241.0C300.3 240.0 296.0 240.6 304.3 239.6C312.5 238.6 298.1 238.7 315.0 238.0C331.9 237.4 328.3 237.6 354.8 237.6C381.4 237.6 373.4 238.2 394.6 238.0C415.9 237.8 407.9 238.2 418.5 237.0C429.2 235.9 421.2 236.0 426.5 234.6C431.8 233.3 427.8 233.6 434.5 233.1C441.1 232.5 439.8 232.5 446.4 233.1C453.1 233.6 445.1 234.1 454.4 234.6C463.7 235.2 460.8 234.6 474.3 234.6C487.8 234.6 474.8 234.6 495.0 234.6C515.2 234.6 508.3 234.8 534.8 234.6C561.4 234.5 548.1 234.5 574.6 234.3C601.2 234.1 595.9 233.9 614.5 234.1C633.1 234.2 627.7 233.7 630.4 234.6C633.1 235.6 629.1 235.4 622.4 237.0C615.8 238.7 617.1 237.9 610.5 239.6C603.9 241.4 609.8 240.9 602.5 242.2C595.2 243.5 597.9 242.9 588.6 243.6C579.3 244.3 589.3 243.5 574.6 244.2C560.0 244.9 561.4 244.8 544.8 245.6C528.2 246.4 536.2 245.6 524.9 246.6C513.6 247.6 520.9 247.4 510.9 248.6C501.0 249.8 507.2 249.8 495.0 250.2C482.8 250.6 487.8 249.8 474.3 249.8C460.8 249.8 467.7 249.9 454.4 250.2C441.1 250.4 447.7 250.6 434.5 250.6C421.2 250.6 427.8 250.3 414.6 250.2C401.3 250.0 407.9 250.4 394.6 250.2C381.4 250.0 388.0 250.0 374.7 249.6C361.5 249.2 366.8 249.3 354.8 249.0C342.9 248.7 348.2 248.5 338.9 248.6C329.6 248.7 334.9 248.9 326.9 249.2C319.0 249.5 322.6 249.3 315.0 249.4C307.4 249.5 312.5 249.5 304.3 249.4C296.0 249.3 298.9 249.1 290.3 249.2C281.7 249.3 285.0 249.3 278.4 249.8C271.7 250.2 275.7 250.0 270.4 250.6C265.1 251.1 264.4 250.4 262.4 251.4C260.4 252.3 260.4 252.6 264.4 253.4C268.4 254.1 267.1 253.4 274.4 253.6C281.7 253.8 278.4 253.4 286.3 254.0C294.3 254.5 291.0 254.1 298.3 255.2C305.6 256.2 307.7 255.9 308.2 257.2C308.8 258.4 295.2 258.4 300.0 259.0C304.8 259.7 306.9 258.8 322.6 259.0C338.2 259.3 329.5 259.0 347.0 259.8C364.6 260.5 355.8 260.2 375.2 261.3C394.6 262.4 386.5 262.4 405.3 263.2C424.1 263.9 410.1 263.1 431.6 263.5C453.2 264.0 440.6 264.6 470.0 264.6C499.4 264.6 492.1 264.3 519.8 263.6C547.4 262.9 530.7 262.6 553.0 262.4C575.2 262.3 570.9 262.5 586.5 263.2C602.2 263.9 591.0 263.6 599.8 264.5C608.7 265.4 605.6 264.8 613.1 265.8C620.6 266.9 622.4 266.7 622.4 267.6C622.4 268.4 620.6 267.7 613.1 268.5C605.6 269.2 608.7 268.9 599.8 269.8C591.0 270.7 595.4 270.3 586.5 271.1C577.7 272.0 588.3 271.2 573.3 272.5C558.2 273.7 564.7 274.1 541.3 274.9C518.0 275.7 527.0 274.8 503.2 274.9C479.4 275.0 490.1 275.5 470.0 275.2C449.9 274.9 462.0 274.3 442.9 274.1C423.9 273.8 429.1 274.6 412.8 274.4C396.5 274.3 404.7 274.4 394.0 273.5C383.4 272.6 390.3 273.2 380.9 271.6C371.5 270.1 377.1 270.4 365.8 268.8C354.5 267.2 359.5 267.7 347.0 266.9C334.5 266.1 343.9 266.7 328.2 266.4C312.5 266.0 315.9 266.4 300.0 266.0C284.1 265.5 299.5 265.9 280.4 265.0C261.4 264.2 267.9 264.2 242.8 263.5C217.8 262.9 230.3 263.4 205.2 263.2C180.1 262.9 192.7 263.1 167.6 262.8C142.5 262.5 140.9 265.8 130.0 262.2C119.1 258.6 123.4 255.5 135.0 252.0Z"/>
<path fill="#3200aa" stroke="#3200aa" stroke-width="0.9" stroke-linejoin="round" d="M315.0 255.8C320.1 253.9 317.6 253.9 337.6 252.3C357.7 250.6 350.1 251.4 375.2 250.9C400.3 250.5 351.2 251.5 412.8 250.9C474.4 250.4 506.5 250.0 560.0 249.2C613.5 248.5 564.4 248.4 573.3 248.6C582.1 248.8 578.6 248.8 586.5 249.9C594.5 251.0 592.7 250.9 597.2 251.9C601.6 252.9 601.2 251.9 599.8 253.0C598.5 254.1 599.8 253.6 593.2 255.2C586.5 256.9 588.8 256.3 579.9 257.9C571.1 259.4 575.6 258.9 566.6 259.9C557.7 260.8 568.6 260.1 553.0 260.8C537.3 261.5 547.4 261.4 519.8 261.9C492.1 262.5 499.4 262.4 470.0 262.4C440.6 262.5 453.2 262.5 431.6 262.2C410.1 262.0 424.1 262.5 405.3 261.7C386.5 260.8 394.6 260.8 375.2 259.8C355.8 258.7 364.6 259.1 347.0 258.5C329.5 257.8 333.2 258.8 322.6 257.9C311.9 257.0 310.0 257.7 315.0 255.8Z"/>
<path fill="#3200aa" stroke="#3200aa" stroke-width="0.9" stroke-linejoin="round" d="M130.0 264.1C148.8 262.4 148.8 264.4 186.4 264.7C224.0 265.0 205.0 264.2 242.8 265.0C280.7 265.9 271.5 266.5 300.0 267.3C328.5 268.1 312.5 267.2 328.2 267.5C343.9 267.7 334.5 267.2 347.0 268.1C359.5 268.9 354.8 268.2 365.8 270.1C376.8 272.1 376.8 272.3 379.9 273.9C383.1 275.5 383.1 274.7 375.2 275.0C367.4 275.3 381.5 274.9 356.4 274.8C331.3 274.8 337.9 274.9 300.0 274.8C262.1 274.7 268.2 274.9 242.8 274.4C217.5 274.0 236.6 274.4 224.0 273.5C211.5 272.6 217.8 272.7 205.2 271.6C192.7 270.6 202.1 270.9 186.4 270.3C170.7 269.7 177.0 269.9 158.2 269.7C139.4 269.6 139.4 271.6 130.0 269.7C120.6 267.9 111.2 265.8 130.0 264.1Z"/>
<path fill="#3200aa" stroke="#3200aa" stroke-width="0.9" stroke-linejoin="round" d="M611.1 243.7C613.3 240.8 612.4 241.4 619.7 239.3C627.0 237.2 621.9 238.4 633.0 237.3C644.1 236.2 650.6 236.5 652.9 236.0C655.2 235.4 631.0 236.1 639.9 235.6C648.8 235.2 647.9 235.0 679.7 234.6C711.6 234.3 714.9 234.0 735.5 234.6C756.1 235.3 737.5 235.3 741.5 236.6C745.4 238.0 741.5 238.0 747.4 238.6C753.4 239.3 751.4 238.8 759.4 238.6C767.4 238.5 767.4 234.4 771.3 238.2C775.3 242.1 782.0 246.2 771.3 250.2C760.7 254.2 763.4 250.6 739.5 250.2C715.6 249.8 722.9 249.5 699.6 249.0C676.4 248.5 689.7 248.4 669.8 248.6C649.9 248.8 645.5 249.1 639.9 249.6C634.3 250.0 655.2 249.6 652.9 249.9C650.6 250.2 644.1 250.4 633.0 250.6C621.9 250.7 626.4 251.2 619.7 250.3C613.1 249.4 616.0 250.1 613.1 247.9C610.2 245.7 608.9 246.5 611.1 243.7Z"/>
<path fill="#ff2020" stroke="#ff2020" stroke-width="1.0" stroke-linejoin="round" d="M613.1 256.7C613.1 254.9 613.1 254.8 619.7 253.2C626.4 251.6 621.9 252.6 633.0 251.9C644.1 251.2 650.6 251.3 652.9 251.2C655.2 251.1 634.3 251.9 639.9 251.6C645.5 251.2 649.9 250.5 669.8 250.2C689.7 249.8 676.4 250.1 699.6 250.6C722.9 251.0 715.6 251.2 739.5 251.6C763.4 251.9 760.7 248.6 771.3 251.6C782.0 254.6 782.0 257.5 771.3 260.5C760.7 263.5 763.4 260.7 739.5 260.5C715.6 260.4 722.9 260.5 699.6 260.1C676.4 259.8 689.7 260.1 669.8 259.5C649.9 259.0 645.5 258.4 639.9 258.5C634.3 258.7 655.2 259.6 652.9 259.9C650.6 260.1 644.1 259.6 633.0 259.2C621.9 258.8 626.4 259.4 619.7 258.5C613.1 257.7 613.1 258.4 613.1 256.7Z"/>
<path fill="#3200aa" stroke="#3200aa" stroke-width="0.9" stroke-linejoin="round" d="M605.1 261.2C608.2 260.1 608.2 260.6 619.7 260.5C631.2 260.4 639.6 260.8 639.6 260.9C639.7 261.0 604.4 260.7 620.0 260.8C635.6 260.9 637.1 261.0 686.4 261.3C735.6 261.6 740.6 259.0 767.7 261.6C794.8 264.3 773.8 266.7 767.7 269.2C761.6 271.8 758.8 268.9 749.4 269.2C740.0 269.6 744.4 269.2 739.5 270.2C734.5 271.3 740.0 271.0 734.5 272.4C729.0 273.8 730.1 273.7 722.9 274.6C715.7 275.4 719.6 275.2 712.9 274.9C706.3 274.6 711.8 274.7 703.0 273.6C694.1 272.5 697.4 271.7 686.4 271.6C675.3 271.5 675.2 273.6 669.8 273.2C664.4 272.9 671.4 272.1 670.2 270.5C669.0 268.9 670.2 269.4 666.2 268.5C662.2 267.6 662.7 267.2 658.2 267.8C653.8 268.5 657.3 269.2 652.9 270.5C648.5 271.8 650.3 272.0 645.0 271.8C639.6 271.6 642.3 270.9 637.0 269.8C631.7 268.7 635.2 269.6 629.0 268.5C622.8 267.4 624.6 268.0 618.4 266.5C612.2 264.9 614.9 265.6 610.4 263.8C606.0 262.1 602.0 262.3 605.1 261.2Z"/>
<path fill="#ff2020" stroke="#ff2020" stroke-width="1.0" stroke-linejoin="round" d="M603.8 278.4C606.0 277.8 612.2 278.5 619.7 277.1C627.3 275.7 621.5 275.0 626.4 274.2C631.2 273.4 629.9 273.5 634.3 274.7C638.8 275.9 635.7 277.2 639.6 277.8C643.6 278.4 641.0 277.6 646.3 276.5C651.6 275.3 656.0 274.3 655.6 274.5C655.1 274.6 640.2 276.7 644.9 276.9C649.6 277.0 655.9 276.0 669.8 274.9C683.6 273.8 675.3 273.3 686.4 273.6C697.4 273.8 691.9 274.6 703.0 275.7C714.0 276.8 708.5 277.0 719.6 276.9C730.6 276.7 728.4 276.7 736.1 275.2C743.9 273.7 737.3 273.9 742.8 272.4C748.3 270.9 744.4 271.2 752.7 270.6C761.0 270.0 762.7 265.0 767.7 270.6C772.6 276.2 772.6 281.7 767.7 287.3C762.7 292.9 763.2 287.2 752.7 287.3C742.2 287.5 747.2 287.6 736.1 287.8C725.1 288.1 730.6 288.5 719.6 288.2C708.5 287.8 714.0 287.9 703.0 286.8C691.9 285.7 697.4 286.3 686.4 284.8C675.3 283.3 680.8 283.5 669.8 282.4C658.7 281.2 661.0 281.9 653.2 281.5C645.4 281.1 650.8 281.7 646.3 281.1C641.8 280.5 646.3 280.4 639.6 279.8C633.0 279.1 635.2 279.3 626.4 279.1C617.5 278.9 620.6 279.3 613.1 279.1C605.6 278.9 601.6 279.1 603.8 278.4Z"/>
<path fill="#ff2020" stroke="#ff2020" stroke-width="0.8" stroke-linejoin="round" d="M130.0 271.1C136.3 270.2 138.8 270.8 148.8 271.1C158.8 271.3 160.1 271.2 160.1 271.8C160.1 272.4 158.8 272.4 148.8 272.9C138.8 273.5 136.3 274.1 130.0 273.5C123.7 272.9 123.7 271.9 130.0 271.1Z"/>
<path fill="#ff2020" stroke="#ff2020" stroke-width="0.8" stroke-linejoin="round" d="M130.0 281.0C136.3 279.0 139.4 281.5 148.8 282.3C158.2 283.2 152.9 282.8 158.2 283.5C163.5 284.2 164.8 283.5 164.8 284.4C164.8 285.3 163.5 285.0 158.2 286.1C152.9 287.2 158.2 286.8 148.8 287.6C139.4 288.4 136.3 290.7 130.0 288.5C123.7 286.4 123.7 283.1 130.0 281.0Z"/>
<path fill="#0000aa" d="M480.0 213.4C484.4 206.6 484.4 212.4 493.3 212.6C502.2 212.7 498.6 212.2 506.6 213.9C514.6 215.6 511.0 215.5 517.2 217.6C523.5 219.7 520.6 218.5 525.2 220.3C529.9 222.0 531.2 221.4 531.2 222.9C531.2 224.5 531.2 223.6 525.2 224.9C519.2 226.3 520.4 225.2 513.3 226.9C506.2 228.7 508.4 228.3 503.9 230.3C499.5 232.2 507.9 232.0 500.0 232.9C492.0 233.8 486.7 239.4 480.0 232.9C473.3 226.4 475.6 220.1 480.0 213.4Z"/>
<path fill="#8200aa" d="M135.0 212.1C137.7 207.8 138.3 211.4 143.0 211.9C147.6 212.5 141.6 212.9 148.9 213.9C156.2 215.0 152.9 214.9 164.9 215.1C176.8 215.4 174.5 214.5 184.8 214.7C195.1 215.0 192.4 214.3 195.7 215.9C199.1 217.6 196.4 217.1 194.7 219.7C193.1 222.3 197.4 221.8 190.8 223.7C184.1 225.6 186.8 224.9 174.8 225.5C162.9 226.1 168.2 225.6 154.9 225.5C141.6 225.4 141.6 229.5 135.0 225.1C128.4 220.6 132.3 216.5 135.0 212.1Z"/>
<path fill="#8200aa" d="M573.3 274.2C579.0 273.3 579.9 273.4 593.2 272.9C606.5 272.3 603.8 272.2 613.1 272.5C622.4 272.8 621.1 272.8 621.1 273.8C621.1 274.8 622.4 274.8 613.1 275.5C603.8 276.3 605.6 276.1 593.2 276.1C580.8 276.1 582.6 276.1 575.9 275.5C569.3 274.9 567.5 275.1 573.3 274.2Z"/>
<path fill="#ffaaaa" d="M135.0 200.0C137.7 198.2 136.3 198.5 143.0 196.6C149.6 194.7 145.6 195.6 154.9 194.2C164.2 192.8 160.2 193.4 170.8 192.4C181.5 191.4 176.2 191.9 186.8 191.2C197.4 190.6 193.4 190.7 202.7 190.4C212.0 190.2 208.0 190.1 214.6 190.4C221.3 190.8 219.2 190.6 222.6 191.4C226.1 192.2 227.7 191.7 225.0 192.8C222.3 194.0 222.7 193.6 214.6 194.8C206.6 196.0 210.7 195.4 200.7 196.4C190.8 197.4 195.4 196.9 184.8 197.8C174.2 198.7 178.8 198.3 168.9 199.2C158.9 200.1 163.5 199.7 154.9 200.4C146.3 201.1 149.6 200.9 143.0 201.4C136.3 201.9 137.7 202.5 135.0 202.0C132.3 201.5 132.3 201.8 135.0 200.0Z"/>
<path fill="#8200aa" d="M135.0 203.8C141.6 202.2 141.6 203.4 154.9 202.4C168.2 201.4 161.5 201.9 174.8 200.8C188.1 199.7 181.5 200.2 194.7 199.2C208.0 198.2 201.4 198.7 214.6 197.8C227.9 196.9 221.3 197.2 234.6 196.4C247.8 195.6 241.2 196.1 254.5 195.4C267.7 194.8 261.1 194.8 274.4 194.4C287.7 194.1 285.8 194.1 294.3 194.4C302.8 194.7 291.4 194.9 300.0 195.4C308.6 195.9 308.9 195.4 320.0 195.9C331.0 196.4 325.5 195.8 333.3 197.0C341.0 198.1 341.0 198.4 343.2 199.4C345.5 200.3 345.5 199.3 339.9 199.9C334.4 200.5 335.5 200.2 326.6 201.2C317.7 202.3 322.2 201.9 313.3 203.1C304.4 204.2 306.3 204.3 300.0 204.7C293.7 205.1 302.8 204.0 294.3 204.4C285.8 204.7 287.7 205.1 274.4 205.8C261.1 206.4 267.7 206.2 254.5 206.4C241.2 206.6 247.8 206.2 234.6 206.4C221.3 206.5 227.9 206.5 214.6 206.8C201.4 207.0 208.0 207.0 194.7 207.2C181.5 207.3 188.1 207.2 174.8 207.2C161.5 207.2 168.2 207.2 154.9 207.2C141.6 207.2 141.6 208.3 135.0 207.2C128.4 206.0 128.4 205.4 135.0 203.8Z"/>
<path fill="#8200aa" d="M363.9 197.6C367.4 196.4 367.8 196.6 379.8 195.1C391.8 193.6 386.4 194.4 399.8 193.1C413.2 191.8 413.7 191.5 420.0 191.1C426.3 190.8 412.4 192.2 418.5 192.0C424.7 191.9 429.0 190.8 438.5 190.6C447.9 190.5 446.8 190.5 446.8 191.6C446.8 192.8 447.9 192.6 438.5 194.0C429.0 195.4 424.7 194.7 418.5 195.8C412.4 197.0 426.3 196.7 420.0 197.5C413.7 198.3 413.2 197.8 399.8 198.3C386.4 198.8 390.0 198.7 379.8 199.0C369.6 199.2 374.5 199.4 369.2 199.0C363.9 198.5 360.3 198.9 363.9 197.6Z"/>
<path fill="#ffaaaa" d="M344.6 203.8C346.8 202.8 348.1 202.8 359.9 201.9C371.6 201.0 366.5 201.5 379.8 201.0C393.1 200.4 386.4 201.0 399.8 200.2C413.2 199.4 408.4 199.4 420.0 198.6C431.6 197.8 423.0 199.1 434.5 197.8C445.9 196.6 441.1 196.5 454.4 194.8C467.7 193.2 460.8 193.5 474.3 192.8C487.8 192.2 481.5 192.5 495.0 192.8C508.5 193.2 498.3 193.3 514.9 193.8C531.5 194.4 524.9 194.4 544.8 194.4C564.7 194.4 556.7 194.0 574.6 193.8C592.6 193.6 585.3 193.5 598.5 193.8C611.8 194.2 607.2 193.5 614.5 194.8C621.8 196.2 619.1 195.5 620.4 197.8C621.8 200.1 621.8 199.8 618.5 201.8C615.1 203.8 618.5 202.9 610.5 203.8C602.5 204.6 606.5 204.2 594.6 204.4C582.6 204.6 591.2 204.4 574.6 204.4C558.1 204.4 564.7 204.7 544.8 204.4C524.9 204.1 531.5 203.9 514.9 203.4C498.3 202.9 508.5 202.7 495.0 202.8C481.5 202.9 487.8 203.1 474.3 203.8C460.8 204.4 467.7 204.2 454.4 204.8C441.1 205.4 445.9 204.9 434.5 205.6C423.0 206.2 431.6 206.3 420.0 206.7C408.4 207.1 413.2 206.7 399.8 206.7C386.4 206.6 391.8 206.8 379.8 206.6C367.8 206.3 372.7 206.5 363.9 205.9C355.0 205.3 359.6 205.4 353.2 204.7C346.8 204.0 342.3 204.7 344.6 203.8Z"/>
<path fill="#8200aa" d="M634.9 200.8C635.6 198.9 636.3 198.9 641.9 196.8C647.5 194.7 642.6 195.6 651.9 194.4C661.2 193.3 653.9 193.9 669.8 193.4C685.7 193.0 679.7 193.2 699.6 193.0C719.6 192.9 712.9 193.0 729.5 193.0C746.1 193.0 739.1 192.8 749.4 193.0C759.7 193.3 757.1 192.7 760.4 193.8C763.7 195.0 763.0 194.5 759.4 196.4C755.7 198.3 759.4 197.8 749.4 199.6C739.5 201.4 746.1 200.7 729.5 201.8C712.9 202.9 719.6 202.4 699.6 203.0C679.7 203.6 686.4 203.5 669.8 203.6C653.2 203.7 659.8 203.7 649.9 203.4C639.9 203.1 644.9 203.5 639.9 202.6C634.9 201.7 634.3 202.7 634.9 200.8Z"/>
<path fill="#ffaaaa" d="M135.0 227.1C141.6 223.8 141.6 227.2 154.9 227.1C168.2 227.0 166.5 226.9 174.8 226.7C183.2 226.5 172.7 227.1 180.0 226.5C187.3 225.9 187.4 225.5 196.6 224.9C205.8 224.2 198.4 224.8 207.7 224.6C216.9 224.5 217.6 225.0 224.2 224.3C230.9 223.7 224.6 224.1 227.6 222.7C230.5 221.2 228.3 221.7 233.1 219.9C237.9 218.0 235.7 218.4 241.9 217.1C248.2 215.8 243.1 216.4 251.9 216.0C260.8 215.6 259.1 215.8 268.5 216.0C277.9 216.2 272.7 216.5 280.0 216.6C287.3 216.7 282.2 216.1 290.3 216.3C298.4 216.6 296.0 216.8 304.3 217.3C312.5 217.9 308.4 217.5 315.0 217.9C321.6 218.4 320.6 218.1 324.0 218.7C327.3 219.4 327.9 218.7 325.0 219.9C322.0 221.1 321.9 220.9 315.0 222.3C308.1 223.7 312.5 223.0 304.3 224.1C296.0 225.2 298.4 224.7 290.3 225.7C282.2 226.7 287.3 225.9 280.0 227.1C272.7 228.3 276.8 227.9 268.5 229.3C260.2 230.7 261.9 230.0 255.2 231.3C248.6 232.6 253.0 231.9 248.6 233.2C244.2 234.4 248.2 234.0 241.9 235.0C235.7 236.0 239.4 235.7 229.8 236.2C220.2 236.6 229.8 236.3 213.2 236.5C196.6 236.7 192.8 236.6 180.0 236.8C167.2 237.0 183.2 237.0 174.8 237.0C166.5 237.1 168.2 237.0 154.9 237.0C141.6 237.0 141.6 240.4 135.0 237.0C128.4 233.7 128.4 230.4 135.0 227.1Z"/>
<path fill="#8200aa" d="M135.0 238.6C148.3 234.5 148.3 238.7 174.8 238.4C201.4 238.2 194.7 238.2 214.6 237.8C234.6 237.4 223.9 237.8 234.6 237.2C245.2 236.7 239.9 237.3 246.5 236.2C253.1 235.2 249.2 235.6 254.5 234.1C259.8 232.5 255.8 233.2 262.4 231.7C269.1 230.1 265.1 231.0 274.4 229.5C283.7 227.9 280.4 228.4 290.3 227.1C300.3 225.8 296.0 226.4 304.3 225.5C312.5 224.6 304.8 225.2 315.0 224.3C325.2 223.4 321.6 223.6 334.9 222.7C348.2 221.8 341.5 222.0 354.8 221.7C368.1 221.4 362.8 221.7 374.7 221.7C386.7 221.7 381.4 222.8 390.7 221.7C400.0 220.6 394.6 220.6 402.6 218.3C410.6 216.0 406.6 216.7 414.6 214.7C422.5 212.7 417.2 213.7 426.5 212.3C435.8 211.0 431.8 211.4 442.4 210.8C453.1 210.1 447.7 210.4 458.4 210.4C469.0 210.4 462.1 210.0 474.3 210.8C486.5 211.5 486.1 211.7 495.0 212.5C503.9 213.4 497.0 212.3 501.0 213.3C505.0 214.4 503.6 213.8 506.9 215.7C510.3 217.7 508.9 216.9 510.9 219.1C512.9 221.3 512.9 220.1 512.9 222.3C512.9 224.5 513.3 223.4 510.9 225.7C508.6 227.9 509.6 227.2 506.0 229.1C502.3 230.9 503.6 230.3 500.0 231.3C496.3 232.2 500.2 231.7 495.0 231.9C489.8 232.0 491.2 231.4 484.3 231.7C477.4 231.9 481.6 232.0 474.3 232.7C467.0 233.3 469.0 233.5 462.4 233.7C455.7 233.8 459.0 233.7 454.4 233.1C449.7 232.4 453.7 232.5 448.4 231.7C443.1 230.9 444.4 230.7 438.5 230.7C432.5 230.7 435.1 230.3 430.5 231.7C425.8 233.0 429.8 233.1 424.5 234.6C419.2 236.2 424.5 235.6 414.6 236.2C404.6 236.9 407.9 236.5 394.6 236.6C381.4 236.8 388.0 236.8 374.7 236.6C361.5 236.5 368.1 236.4 354.8 236.2C341.5 236.0 348.2 235.9 334.9 236.0C321.6 236.2 325.2 236.0 315.0 236.6C304.8 237.2 312.5 237.0 304.3 237.8C296.0 238.6 300.3 238.1 290.3 239.0C280.4 240.0 283.0 239.4 274.4 240.6C265.8 241.8 271.1 241.0 264.4 242.6C257.8 244.3 260.4 243.7 254.5 245.6C248.5 247.5 251.2 246.9 246.5 248.2C241.9 249.5 247.8 249.0 240.5 249.6C233.2 250.2 239.9 249.8 224.6 250.0C209.3 250.2 214.6 250.0 194.7 250.2C174.8 250.4 184.8 250.3 164.9 250.6C145.0 250.8 145.0 255.0 135.0 251.0C125.0 247.0 121.7 242.8 135.0 238.6Z"/>
<path fill="#8200aa" d="M534.8 232.7C535.5 230.8 538.1 231.1 546.8 227.7C555.4 224.2 551.4 225.4 560.7 222.3C570.0 219.2 565.4 219.8 574.6 218.3C583.9 216.8 581.3 217.3 588.6 217.7C595.9 218.2 590.6 217.4 596.6 219.7C602.5 222.0 599.9 221.6 606.5 224.7C613.1 227.8 611.2 226.6 616.5 229.1C621.8 231.6 623.1 230.9 622.4 232.3C621.8 233.7 630.4 232.9 614.5 233.3C598.5 233.6 597.9 233.3 574.6 233.3C551.4 233.3 558.1 233.5 544.8 233.3C531.5 233.1 534.2 234.5 534.8 232.7Z"/>
<path fill="#ffaaaa" d="M616.5 222.7C617.1 220.0 617.1 221.4 624.4 218.7C631.7 216.1 628.4 216.9 638.4 214.7C648.3 212.6 645.8 213.2 654.3 212.3C662.8 211.5 653.3 212.2 663.8 212.1C674.3 212.1 674.8 211.9 685.7 212.1C696.7 212.4 688.7 212.1 696.7 212.9C704.6 213.7 700.6 213.3 709.6 214.5C718.6 215.7 714.6 214.9 723.5 216.5C732.5 218.1 727.9 217.5 736.5 219.3C745.1 221.1 739.7 219.9 749.4 221.9C759.2 223.9 758.5 223.8 765.8 225.3C773.1 226.8 769.5 223.2 771.3 226.3C773.2 229.4 778.6 232.2 771.3 234.6C764.0 237.1 763.4 234.1 749.4 233.7C735.5 233.2 746.1 233.5 729.5 233.3C712.9 233.1 719.6 233.1 699.6 233.1C679.7 233.0 686.4 233.2 669.8 233.1C653.2 232.9 655.0 232.7 649.9 232.7C644.7 232.7 658.1 233.1 654.3 233.1C650.5 233.1 646.3 233.5 638.4 232.7C630.4 231.9 635.7 232.7 630.4 230.7C625.1 228.7 627.1 229.3 622.4 226.7C617.8 224.0 615.8 225.4 616.5 222.7Z"/>
<path fill="#ffaaaa" d="M135.0 252.0C146.6 248.4 145.0 251.8 164.9 251.6C184.8 251.3 174.8 251.4 194.7 251.2C214.6 251.0 209.3 251.2 224.6 251.0C239.9 250.8 232.6 251.2 240.5 250.6C248.5 249.9 243.9 250.0 248.5 249.0C253.1 248.0 249.8 249.1 254.5 247.6C259.1 246.1 255.8 246.3 262.4 244.6C269.1 242.9 265.1 243.8 274.4 242.6C283.7 241.4 280.4 242.0 290.3 241.0C300.3 240.0 296.0 240.6 304.3 239.6C312.5 238.6 298.1 238.7 315.0 238.0C331.9 237.4 328.3 237.6 354.8 237.6C381.4 237.6 373.4 238.2 394.6 238.0C415.9 237.8 407.9 238.2 418.5 237.0C429.2 235.9 421.2 236.0 426.5 234.6C431.8 233.3 427.8 233.6 434.5 233.1C441.1 232.5 439.8 232.5 446.4 233.1C453.1 233.6 445.1 234.1 454.4 234.6C463.7 235.2 460.8 234.6 474.3 234.6C487.8 234.6 474.8 234.6 495.0 234.6C515.2 234.6 508.3 234.8 534.8 234.6C561.4 234.5 548.1 234.5 574.6 234.3C601.2 234.1 595.9 233.9 614.5 234.1C633.1 234.2 627.7 233.7 630.4 234.6C633.1 235.6 629.1 235.4 622.4 237.0C615.8 238.7 617.1 237.9 610.5 239.6C603.9 241.4 609.8 240.9 602.5 242.2C595.2 243.5 597.9 242.9 588.6 243.6C579.3 244.3 589.3 243.5 574.6 244.2C560.0 244.9 561.4 244.8 544.8 245.6C528.2 246.4 536.2 245.6 524.9 246.6C513.6 247.6 520.9 247.4 510.9 248.6C501.0 249.8 507.2 249.8 495.0 250.2C482.8 250.6 487.8 249.8 474.3 249.8C460.8 249.8 467.7 249.9 454.4 250.2C441.1 250.4 447.7 250.6 434.5 250.6C421.2 250.6 427.8 250.3 414.6 250.2C401.3 250.0 407.9 250.4 394.6 250.2C381.4 250.0 388.0 250.0 374.7 249.6C361.5 249.2 366.8 249.3 354.8 249.0C342.9 248.7 348.2 248.5 338.9 248.6C329.6 248.7 334.9 248.9 326.9 249.2C319.0 249.5 322.6 249.3 315.0 249.4C307.4 249.5 312.5 249.5 304.3 249.4C296.0 249.3 298.9 249.1 290.3 249.2C281.7 249.3 285.0 249.3 278.4 249.8C271.7 250.2 275.7 250.0 270.4 250.6C265.1 251.1 264.4 250.4 262.4 251.4C260.4 252.3 260.4 252.6 264.4 253.4C268.4 254.1 267.1 253.4 274.4 253.6C281.7 253.8 278.4 253.4 286.3 254.0C294.3 254.5 291.0 254.1 298.3 255.2C305.6 256.2 307.7 255.9 308.2 257.2C308.8 258.4 295.2 258.4 300.0 259.0C304.8 259.7 306.9 258.8 322.6 259.0C338.2 259.3 329.5 259.0 347.0 259.8C364.6 260.5 355.8 260.2 375.2 261.3C394.6 262.4 386.5 262.4 405.3 263.2C424.1 263.9 410.1 263.1 431.6 263.5C453.2 264.0 440.6 264.6 470.0 264.6C499.4 264.6 492.1 264.3 519.8 263.6C547.4 262.9 530.7 262.6 553.0 262.4C575.2 262.3 570.9 262.5 586.5 263.2C602.2 263.9 591.0 263.6 599.8 264.5C608.7 265.4 605.6 264.8 613.1 265.8C620.6 266.9 622.4 266.7 622.4 267.6C622.4 268.4 620.6 267.7 613.1 268.5C605.6 269.2 608.7 268.9 599.8 269.8C591.0 270.7 595.4 270.3 586.5 271.1C577.7 272.0 588.3 271.2 573.3 272.5C558.2 273.7 564.7 274.1 541.3 274.9C518.0 275.7 527.0 274.8 503.2 274.9C479.4 275.0 490.1 275.5 470.0 275.2C449.9 274.9 462.0 274.3 442.9 274.1C423.9 273.8 429.1 274.6 412.8 274.4C396.5 274.3 404.7 274.4 394.0 273.5C383.4 272.6 390.3 273.2 380.9 271.6C371.5 270.1 377.1 270.4 365.8 268.8C354.5 267.2 359.5 267.7 347.0 266.9C334.5 266.1 343.9 266.7 328.2 266.4C312.5 266.0 315.9 266.4 300.0 266.0C284.1 265.5 299.5 265.9 280.4 265.0C261.4 264.2 267.9 264.2 242.8 263.5C217.8 262.9 230.3 263.4 205.2 263.2C180.1 262.9 192.7 263.1 167.6 262.8C142.5 262.5 140.9 265.8 130.0 262.2C119.1 258.6 123.4 255.5 135.0 252.0Z"/>
<path fill="#8200aa" d="M315.0 255.8C320.1 253.9 317.6 253.9 337.6 252.3C357.7 250.6 350.1 251.4 375.2 250.9C400.3 250.5 351.2 251.5 412.8 250.9C474.4 250.4 506.5 250.0 560.0 249.2C613.5 248.5 564.4 248.4 573.3 248.6C582.1 248.8 578.6 248.8 586.5 249.9C594.5 251.0 592.7 250.9 597.2 251.9C601.6 252.9 601.2 251.9 599.8 253.0C598.5 254.1 599.8 253.6 593.2 255.2C586.5 256.9 588.8 256.3 579.9 257.9C571.1 259.4 575.6 258.9 566.6 259.9C557.7 260.8 568.6 260.1 553.0 260.8C537.3 261.5 547.4 261.4 519.8 261.9C492.1 262.5 499.4 262.4 470.0 262.4C440.6 262.5 453.2 262.5 431.6 262.2C410.1 262.0 424.1 262.5 405.3 261.7C386.5 260.8 394.6 260.8 375.2 259.8C355.8 258.7 364.6 259.1 347.0 258.5C329.5 257.8 333.2 258.8 322.6 257.9C311.9 257.0 310.0 257.7 315.0 255.8Z"/>
<path fill="#8200aa" d="M130.0 264.1C148.8 262.4 148.8 264.4 186.4 264.7C224.0 265.0 205.0 264.2 242.8 265.0C280.7 265.9 271.5 266.5 300.0 267.3C328.5 268.1 312.5 267.2 328.2 267.5C343.9 267.7 334.5 267.2 347.0 268.1C359.5 268.9 354.8 268.2 365.8 270.1C376.8 272.1 376.8 272.3 379.9 273.9C383.1 275.5 383.1 274.7 375.2 275.0C367.4 275.3 381.5 274.9 356.4 274.8C331.3 274.8 337.9 274.9 300.0 274.8C262.1 274.7 268.2 274.9 242.8 274.4C217.5 274.0 236.6 274.4 224.0 273.5C211.5 272.6 217.8 272.7 205.2 271.6C192.7 270.6 202.1 270.9 186.4 270.3C170.7 269.7 177.0 269.9 158.2 269.7C139.4 269.6 139.4 271.6 130.0 269.7C120.6 267.9 111.2 265.8 130.0 264.1Z"/>
<path fill="#8200aa" d="M611.1 243.7C613.3 240.8 612.4 241.4 619.7 239.3C627.0 237.2 621.9 238.4 633.0 237.3C644.1 236.2 650.6 236.5 652.9 236.0C655.2 235.4 631.0 236.1 639.9 235.6C648.8 235.2 647.9 235.0 679.7 234.6C711.6 234.3 714.9 234.0 735.5 234.6C756.1 235.3 737.5 235.3 741.5 236.6C745.4 238.0 741.5 238.0 747.4 238.6C753.4 239.3 751.4 238.8 759.4 238.6C767.4 238.5 767.4 234.4 771.3 238.2C775.3 242.1 782.0 246.2 771.3 250.2C760.7 254.2 763.4 250.6 739.5 250.2C715.6 249.8 722.9 249.5 699.6 249.0C676.4 248.5 689.7 248.4 669.8 248.6C649.9 248.8 645.5 249.1 639.9 249.6C634.3 250.0 655.2 249.6 652.9 249.9C650.6 250.2 644.1 250.4 633.0 250.6C621.9 250.7 626.4 251.2 619.7 250.3C613.1 249.4 616.0 250.1 613.1 247.9C610.2 245.7 608.9 246.5 611.1 243.7Z"/>
<path fill="#ffaaaa" d="M613.1 256.7C613.1 254.9 613.1 254.8 619.7 253.2C626.4 251.6 621.9 252.6 633.0 251.9C644.1 251.2 650.6 251.3 652.9 251.2C655.2 251.1 634.3 251.9 639.9 251.6C645.5 251.2 649.9 250.5 669.8 250.2C689.7 249.8 676.4 250.1 699.6 250.6C722.9 251.0 715.6 251.2 739.5 251.6C763.4 251.9 760.7 248.6 771.3 251.6C782.0 254.6 782.0 257.5 771.3 260.5C760.7 263.5 763.4 260.7 739.5 260.5C715.6 260.4 722.9 260.5 699.6 260.1C676.4 259.8 689.7 260.1 669.8 259.5C649.9 259.0 645.5 258.4 639.9 258.5C634.3 258.7 655.2 259.6 652.9 259.9C650.6 260.1 644.1 259.6 633.0 259.2C621.9 258.8 626.4 259.4 619.7 258.5C613.1 257.7 613.1 258.4 613.1 256.7Z"/>
<path fill="#8200aa" d="M605.1 261.2C608.2 260.1 608.2 260.6 619.7 260.5C631.2 260.4 639.6 260.8 639.6 260.9C639.7 261.0 604.4 260.7 620.0 260.8C635.6 260.9 637.1 261.0 686.4 261.3C735.6 261.6 740.6 259.0 767.7 261.6C794.8 264.3 773.8 266.7 767.7 269.2C761.6 271.8 758.8 268.9 749.4 269.2C740.0 269.6 744.4 269.2 739.5 270.2C734.5 271.3 740.0 271.0 734.5 272.4C729.0 273.8 730.1 273.7 722.9 274.6C715.7 275.4 719.6 275.2 712.9 274.9C706.3 274.6 711.8 274.7 703.0 273.6C694.1 272.5 697.4 271.7 686.4 271.6C675.3 271.5 675.2 273.6 669.8 273.2C664.4 272.9 671.4 272.1 670.2 270.5C669.0 268.9 670.2 269.4 666.2 268.5C662.2 267.6 662.7 267.2 658.2 267.8C653.8 268.5 657.3 269.2 652.9 270.5C648.5 271.8 650.3 272.0 645.0 271.8C639.6 271.6 642.3 270.9 637.0 269.8C631.7 268.7 635.2 269.6 629.0 268.5C622.8 267.4 624.6 268.0 618.4 266.5C612.2 264.9 614.9 265.6 610.4 263.8C606.0 262.1 602.0 262.3 605.1 261.2Z"/>
<path fill="#ffaaaa" d="M603.8 278.4C606.0 277.8 612.2 278.5 619.7 277.1C627.3 275.7 621.5 275.0 626.4 274.2C631.2 273.4 629.9 273.5 634.3 274.7C638.8 275.9 635.7 277.2 639.6 277.8C643.6 278.4 641.0 277.6 646.3 276.5C651.6 275.3 656.0 274.3 655.6 274.5C655.1 274.6 640.2 276.7 644.9 276.9C649.6 277.0 655.9 276.0 669.8 274.9C683.6 273.8 675.3 273.3 686.4 273.6C697.4 273.8 691.9 274.6 703.0 275.7C714.0 276.8 708.5 277.0 719.6 276.9C730.6 276.7 728.4 276.7 736.1 275.2C743.9 273.7 737.3 273.9 742.8 272.4C748.3 270.9 744.4 271.2 752.7 270.6C761.0 270.0 762.7 265.0 767.7 270.6C772.6 276.2 772.6 281.7 767.7 287.3C762.7 292.9 763.2 287.2 752.7 287.3C742.2 287.5 747.2 287.6 736.1 287.8C725.1 288.1 730.6 288.5 719.6 288.2C708.5 287.8 714.0 287.9 703.0 286.8C691.9 285.7 697.4 286.3 686.4 284.8C675.3 283.3 680.8 283.5 669.8 282.4C658.7 281.2 661.0 281.9 653.2 281.5C645.4 281.1 650.8 281.7 646.3 281.1C641.8 280.5 646.3 280.4 639.6 279.8C633.0 279.1 635.2 279.3 626.4 279.1C617.5 278.9 620.6 279.3 613.1 279.1C605.6 278.9 601.6 279.1 603.8 278.4Z"/>
<path fill="#ffaaaa" d="M130.0 271.1C136.3 270.2 138.8 270.8 148.8 271.1C158.8 271.3 160.1 271.2 160.1 271.8C160.1 272.4 158.8 272.4 148.8 272.9C138.8 273.5 136.3 274.1 130.0 273.5C123.7 272.9 123.7 271.9 130.0 271.1Z"/>
<path fill="#ffaaaa" d="M130.0 281.0C136.3 279.0 139.4 281.5 148.8 282.3C158.2 283.2 152.9 282.8 158.2 283.5C163.5 284.2 164.8 283.5 164.8 284.4C164.8 285.3 163.5 285.0 158.2 286.1C152.9 287.2 158.2 286.8 148.8 287.6C139.4 288.4 136.3 290.7 130.0 288.5C123.7 286.4 123.7 283.1 130.0 281.0Z"/>
<path fill="#3200aa" d="M136.0 216.3C137.7 214.1 138.1 215.1 141.0 215.7C143.8 216.4 144.2 216.3 144.6 218.3C144.9 220.3 144.8 220.4 142.0 221.7C139.1 223.0 138.0 224.1 136.0 222.3C134.0 220.5 134.3 218.5 136.0 216.3Z"/>
<path fill="#ffff00" d="M158.2 272.4C164.5 271.6 165.1 271.6 177.0 271.6C188.9 271.7 184.5 271.6 193.9 272.6C203.3 273.5 207.7 273.5 205.2 274.4C202.7 275.4 198.9 275.3 186.4 275.4C173.9 275.5 177.0 275.3 167.6 274.8C158.2 274.4 161.3 274.9 158.2 274.1C155.1 273.3 151.9 273.2 158.2 272.4Z"/>
<path fill="#ffaa00" d="M152.6 272.0C155.7 271.6 157.0 271.7 162.0 272.0C167.0 272.3 168.2 272.4 167.6 272.9C167.0 273.5 165.1 273.6 160.1 273.7C155.1 273.8 155.1 273.7 152.6 273.1C150.1 272.6 149.4 272.4 152.6 272.0Z"/>
<path fill="#0000aa" d="M163.8 281.0L186.4 280.1L300.0 280.1L470.0 280.4L620.0 280.5L652.9 280.4L658.2 285.1L652.9 285.3L620.0 285.8L470.0 285.8L300.0 286.9L167.6 286.9L164.8 285.0Z"/>
<path fill="#8200aa" d="M169.5 282.3L186.4 281.6L300.0 281.2L470.0 281.5L620.0 281.9L639.6 281.8L645.0 283.8L639.6 284.4L620.0 284.2L509.8 284.2L431.6 284.8L300.0 285.0L205.2 285.4L186.4 284.8L171.4 284.4Z"/>
<path fill="none" stroke="#00ffff" stroke-width="1.2" d="M205.0 287.4L690.0 287.4"/>
<path fill="#0055ff" d="M734.5 277.4C737.8 276.2 735.0 276.5 746.1 275.7C757.2 274.9 760.5 273.7 767.7 274.9C774.9 276.1 773.8 277.8 767.7 279.4C761.6 281.0 759.9 279.8 749.4 279.7C738.9 279.6 741.1 280.0 736.1 279.2C731.2 278.4 731.2 278.5 734.5 277.4Z"/>
<path fill="#0000aa" d="M742.8 277.5C742.8 276.8 744.4 277.0 752.7 276.5C761.0 276.1 762.7 275.6 767.7 276.2C772.6 276.9 772.6 277.7 767.7 278.5C762.7 279.4 761.0 279.2 752.7 278.9C744.4 278.5 742.8 278.3 742.8 277.5Z"/>
<path fill="#ffaa00" d="M431.5 234.6C432.2 233.3 432.2 232.7 436.5 231.7C440.8 230.7 440.3 230.8 444.4 231.7C448.5 232.5 449.5 232.9 448.8 234.3C448.1 235.6 447.2 235.2 442.4 235.6C437.7 236.1 438.1 236.0 434.5 235.6C430.8 235.3 430.8 236.0 431.5 234.6Z"/>
<path fill="#ff5500" d="M434.5 234.3C434.5 233.4 435.1 233.1 438.5 232.7C441.8 232.3 442.1 232.4 444.4 233.1C446.8 233.7 447.4 233.9 445.4 234.6C443.4 235.4 442.1 235.4 438.5 235.2C434.8 235.1 434.5 235.1 434.5 234.3Z"/>
<path fill="#ff2020" d="M241.9 249.2C241.9 247.9 243.1 248.3 246.4 246.8C249.7 245.2 248.2 245.8 251.9 244.6C255.6 243.3 254.5 243.4 257.4 243.1C260.4 242.8 260.0 242.5 260.8 243.7C261.5 244.9 259.5 244.6 259.6 246.8C259.8 249.0 261.3 248.1 261.3 250.3C261.3 252.5 262.8 253.0 259.6 253.4C256.5 253.8 256.3 252.6 251.9 251.6C247.5 250.7 249.7 251.3 246.4 250.5C243.1 249.7 241.9 250.5 241.9 249.2Z"/>
<path fill="#ffaa00" d="M247.5 247.9C247.8 246.2 249.7 246.5 253.0 245.3C256.3 244.1 255.8 243.9 257.4 244.2C259.1 244.6 258.4 244.8 258.0 246.4C257.6 248.1 258.4 247.9 256.3 249.2C254.3 250.5 254.9 250.8 251.9 250.3C249.0 249.9 247.1 249.5 247.5 247.9Z"/>
</g>

<g stroke="#000" fill="none" shape-rendering="crispEdges">
<rect x="136" y="157" width="632" height="316" stroke-width="2"/>
<path stroke-width="2" d="M184 157v10M184 473v-10M235 157v10M235 473v-10M286 157v10M286 473v-10M337 157v10M337 473v-10M388 157v10M388 473v-10M439 157v10M439 473v-10M490 157v10M490 473v-10M541 157v10M541 473v-10M592 157v10M592 473v-10M643 157v10M643 473v-10M694 157v10M694 473v-10M745 157v10M745 473v-10M136 421h9M768 421h-9M136 368h9M768 368h-9M136 315h9M768 315h-9M136 262h9M768 262h-9M136 209h9M768 209h-9"/>
<path stroke-width="1" d="M159.5 157v5M159.5 473v-5M210.5 157v5M210.5 473v-5M261.5 157v5M261.5 473v-5M312.5 157v5M312.5 473v-5M363.5 157v5M363.5 473v-5M414.5 157v5M414.5 473v-5M465.5 157v5M465.5 473v-5M516.5 157v5M516.5 473v-5M567.5 157v5M567.5 473v-5M618.5 157v5M618.5 473v-5M669.5 157v5M669.5 473v-5M720.5 157v5M720.5 473v-5M136 447.5h5M768 447.5h-5M136 394.5h5M768 394.5h-5M136 341.5h5M768 341.5h-5M136 288.5h5M768 288.5h-5M136 235.5h5M768 235.5h-5M136 182.5h5M768 182.5h-5"/>
</g>

<g shape-rendering="crispEdges">
<rect x="784" y="247.0" width="18" height="22.7" fill="#ff2020"/>
<rect x="784" y="269.6" width="18" height="22.7" fill="#ff5500"/>
<rect x="784" y="292.2" width="18" height="22.7" fill="#ffaa00"/>
<rect x="784" y="314.8" width="18" height="22.7" fill="#ffff00"/>
<rect x="784" y="337.4" width="18" height="22.7" fill="#8cff00"/>
<rect x="784" y="360.0" width="18" height="22.7" fill="#00ff82"/>
<rect x="784" y="382.6" width="18" height="22.7" fill="#00ffff"/>
<rect x="784" y="405.2" width="18" height="22.7" fill="#0055ff"/>
<rect x="784" y="427.8" width="18" height="22.7" fill="#0000aa"/>
<rect x="784" y="450.4" width="18" height="22.7" fill="#3200aa"/>
<path d="M784 247L793 207L802 247Z" fill="#ffaaaa"/>
<path d="M784 473L793 513L802 473Z" fill="#8200aa"/>
</g>
<g stroke="#000" stroke-width="2" fill="none" stroke-linejoin="miter">
<path d="M784 247L793 207L802 247M784 473L793 513L802 473"/>
<rect x="784" y="247" width="18" height="226" shape-rendering="crispEdges"/>
<path d="M784 269.6h18M784 292.2h18M784 314.8h18M784 337.4h18M784 360.0h18M784 382.6h18M784 405.2h18M784 427.8h18M784 450.4h18" stroke-width="2" shape-rendering="crispEdges"/>
</g>

<text y="112" font-size="26.5" class="thin" letter-spacing="1.2"><tspan x="224.5" textLength="124.5" lengthAdjust="spacingAndGlyphs">potential</tspan> <tspan x="364" textLength="177.0" lengthAdjust="spacingAndGlyphs">temperature</tspan> <tspan x="553.5" textLength="128.5" lengthAdjust="spacingAndGlyphs">deviation</tspan></text>
<text y="134.4" font-size="14.8" class="med2" letter-spacing="1.0"><tspan x="47.3" textLength="52.7" lengthAdjust="spacingAndGlyphs">(x1E4</tspan> <tspan x="108.3" textLength="24.7" lengthAdjust="spacingAndGlyphs">m)</tspan></text>
<text y="168.5" font-size="15.7" class="thin2" letter-spacing="0.8"><tspan x="777.7" textLength="120.8" lengthAdjust="spacingAndGlyphs">t=1.1052e+06</tspan></text>
<text x="126.8" y="427.2" font-size="19.3" text-anchor="end" class="med">1</text>
<text x="126.8" y="374.09999999999997" font-size="19.3" text-anchor="end" class="med">2</text>
<text x="126.8" y="321.0" font-size="19.3" text-anchor="end" class="med">3</text>
<text x="126.8" y="267.9" font-size="19.3" text-anchor="end" class="med">4</text>
<text x="126.8" y="214.8" font-size="19.3" text-anchor="end" class="med">5</text>
<text x="184.3" y="494.9" font-size="19.3" text-anchor="middle" class="med">4</text>
<text x="235.3" y="494.9" font-size="19.3" text-anchor="middle" class="med">8</text>
<text x="286.3" y="494.9" font-size="19.3" text-anchor="middle" class="med">12</text>
<text x="337.3" y="494.9" font-size="19.3" text-anchor="middle" class="med">16</text>
<text x="388.3" y="494.9" font-size="19.3" text-anchor="middle" class="med">20</text>
<text x="439.3" y="494.9" font-size="19.3" text-anchor="middle" class="med">24</text>
<text x="490.3" y="494.9" font-size="19.3" text-anchor="middle" class="med">28</text>
<text x="541.3" y="494.9" font-size="19.3" text-anchor="middle" class="med">32</text>
<text x="592.3" y="494.9" font-size="19.3" text-anchor="middle" class="med">36</text>
<text x="643.3" y="494.9" font-size="19.3" text-anchor="middle" class="med">40</text>
<text x="694.3" y="494.9" font-size="19.3" text-anchor="middle" class="med">44</text>
<text x="745.3" y="494.9" font-size="19.3" text-anchor="middle" class="med">48</text>
<text y="517" font-size="15.6" class="med2" letter-spacing="1.0"><tspan x="684.6" textLength="64.6" lengthAdjust="spacingAndGlyphs">(x1000</tspan> <tspan x="758.5" textLength="23.8" lengthAdjust="spacingAndGlyphs">m)</tspan></text>
<text y="546.3" font-size="21.5" class="thin3" letter-spacing="1.0"><tspan x="377.5" textLength="18.0" lengthAdjust="spacingAndGlyphs">X</tspan> <tspan x="404.8" textLength="123.7" lengthAdjust="spacingAndGlyphs">coordinate</tspan></text>
<text y="0" font-size="21.5" class="thin3" transform="translate(98,389.3) rotate(-90)" letter-spacing="1.0"><tspan x="0" textLength="16.0" lengthAdjust="spacingAndGlyphs">Z</tspan> <tspan x="28" textLength="122.5" lengthAdjust="spacingAndGlyphs">coordinate</tspan></text>
<text y="274.7" font-size="16" class="med2" letter-spacing="0.8"><tspan x="810.2" textLength="36.3" lengthAdjust="spacingAndGlyphs">0.32</tspan></text>
<text y="319.8" font-size="16" class="med2" letter-spacing="0.8"><tspan x="810.2" textLength="36.3" lengthAdjust="spacingAndGlyphs">0.16</tspan></text>
<text y="365" font-size="16" class="med2" letter-spacing="0.8"><tspan x="810.2" textLength="10.8" lengthAdjust="spacingAndGlyphs">0</tspan></text>
<text y="410.4" font-size="16" class="med2" letter-spacing="0.8"><tspan x="810.2" textLength="49.6" lengthAdjust="spacingAndGlyphs">−0.16</tspan></text>
<text y="455.6" font-size="16" class="med2" letter-spacing="0.8"><tspan x="810.2" textLength="49.6" lengthAdjust="spacingAndGlyphs">−0.32</tspan></text>
</svg></body></html>
